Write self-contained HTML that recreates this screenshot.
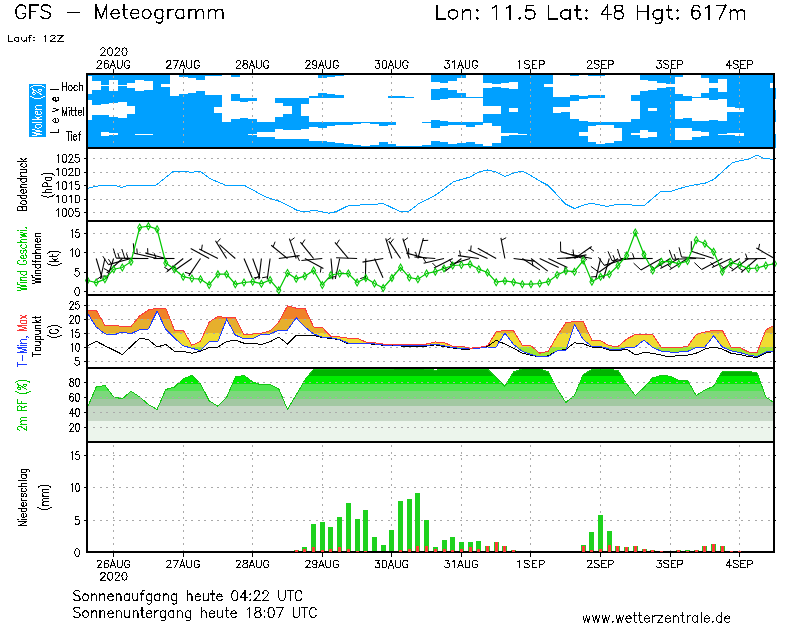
<!DOCTYPE html>
<html><head><meta charset="utf-8"><title>GFS Meteogramm</title>
<style>
html,body{margin:0;padding:0;background:#fff;}
body{width:800px;height:625px;position:relative;overflow:hidden;font-family:"Liberation Sans",sans-serif;color:#000;}
.t{position:absolute;white-space:nowrap;line-height:1;}
</style></head><body>
<svg width="800" height="625" viewBox="0 0 800 625" style="position:absolute;left:0;top:0" shape-rendering="crispEdges">
<rect width="800" height="625" fill="#fff"/>
<rect x="87" y="74" width="687" height="74" fill="#00a0ff"/>
<rect x="775" y="88" width="1" height="10.599999999999994" fill="#00a0ff"/>
<rect x="775" y="110.2" width="1" height="12.200000000000003" fill="#00a0ff"/>
<rect x="775" y="134" width="1" height="13.599999999999994" fill="#00a0ff"/>
<polygon fill="#fff" shape-rendering="crispEdges" points="87.0,76.4 91.8,76.4 91.8,81.1 100.5,81.1 100.5,84.9 109.2,84.9 109.2,80.2 117.9,80.2 117.9,84.9 126.6,84.9 126.6,83.2 135.3,83.2 135.3,80.2 144.0,80.2 144.0,81.3 152.7,81.3 152.7,85.4 161.4,85.4 161.4,84.2 170.1,84.2 170.1,75.0 178.8,75.0 178.8,76.7 187.5,76.7 187.5,78.3 196.2,78.3 196.2,80.2 204.9,80.2 204.9,76.1 213.6,76.1 213.6,76.1 222.3,76.1 222.3,73.2 231.0,73.2 231.0,76.7 239.7,76.7 239.7,73.2 248.4,73.2 248.4,73.2 257.1,73.2 257.1,73.2 265.8,73.2 265.8,73.2 274.5,73.2 274.5,73.2 283.2,73.2 283.2,73.2 291.9,73.2 291.9,73.2 300.6,73.2 300.6,73.2 309.2,73.2 309.2,75.0 317.9,75.0 317.9,77.7 326.6,77.7 326.6,77.3 335.3,77.3 335.3,75.7 344.0,75.7 344.0,73.2 352.7,73.2 352.7,73.2 361.4,73.2 361.4,73.2 370.1,73.2 370.1,73.2 378.8,73.2 378.8,73.2 387.5,73.2 387.5,74.6 396.2,74.6 396.2,74.6 404.9,74.6 404.9,73.9 413.6,73.9 413.6,73.2 422.3,73.2 422.3,73.2 431.0,73.2 431.0,81.7 439.7,81.7 439.7,82.7 448.4,82.7 448.4,81.1 457.1,81.1 457.1,78.2 465.8,78.2 465.8,74.1 474.5,74.1 474.5,74.1 483.2,74.1 483.2,82.7 491.9,82.7 491.9,83.7 500.6,83.7 500.6,82.9 509.3,82.9 509.3,82.2 518.0,82.2 518.0,85.4 526.6,85.4 526.6,85.4 535.3,85.4 535.3,85.4 544.0,85.4 544.0,83.6 552.7,83.6 552.7,73.4 561.4,73.4 561.4,74.1 570.1,74.1 570.1,75.7 578.8,75.7 578.8,74.9 587.5,74.9 587.5,75.7 596.2,75.7 596.2,75.7 604.9,75.7 604.9,73.2 613.6,73.2 613.6,73.2 622.3,73.2 622.3,73.2 631.0,73.2 631.0,75.4 639.7,75.4 639.7,79.8 648.4,79.8 648.4,80.6 657.1,80.6 657.1,83.2 665.8,83.2 665.8,83.9 674.5,83.9 674.5,76.8 683.2,76.8 683.2,74.6 691.9,74.6 691.9,73.9 700.6,73.9 700.6,78.1 709.3,78.1 709.3,82.8 718.0,82.8 718.0,79.1 726.7,79.1 726.7,85.4 735.4,85.4 735.4,85.4 744.0,85.4 744.0,85.4 752.7,85.4 752.7,85.4 761.4,85.4 761.4,85.4 770.1,85.4 770.1,82.8 774.0,82.8 774.0,88.0 770.1,88.0 770.1,85.4 761.4,85.4 761.4,85.4 752.7,85.4 752.7,85.4 744.0,85.4 744.0,85.4 735.4,85.4 735.4,85.4 726.7,85.4 726.7,91.8 718.0,91.8 718.0,88.0 709.3,88.0 709.3,92.8 700.6,92.8 700.6,96.9 691.9,96.9 691.9,96.2 683.2,96.2 683.2,94.0 674.5,94.0 674.5,86.9 665.8,86.9 665.8,87.7 657.1,87.7 657.1,90.2 648.4,90.2 648.4,91.0 639.7,91.0 639.7,95.4 631.0,95.4 631.0,97.6 622.3,97.6 622.3,97.6 613.6,97.6 613.6,97.6 604.9,97.6 604.9,95.2 596.2,95.2 596.2,95.2 587.5,95.2 587.5,95.9 578.8,95.9 578.8,95.2 570.1,95.2 570.1,96.7 561.4,96.7 561.4,97.4 552.7,97.4 552.7,87.2 544.0,87.2 544.0,85.4 535.3,85.4 535.3,85.4 526.6,85.4 526.6,85.4 518.0,85.4 518.0,88.6 509.3,88.6 509.3,87.9 500.6,87.9 500.6,87.2 491.9,87.2 491.9,88.1 483.2,88.1 483.2,96.7 474.5,96.7 474.5,96.7 465.8,96.7 465.8,92.6 457.1,92.6 457.1,89.8 448.4,89.8 448.4,88.2 439.7,88.2 439.7,89.2 431.0,89.2 431.0,97.6 422.3,97.6 422.3,97.6 413.6,97.6 413.6,96.9 404.9,96.9 404.9,96.2 396.2,96.2 396.2,96.2 387.5,96.2 387.5,97.6 378.8,97.6 378.8,97.6 370.1,97.6 370.1,97.6 361.4,97.6 361.4,97.6 352.7,97.6 352.7,97.6 344.0,97.6 344.0,95.2 335.3,95.2 335.3,93.5 326.6,93.5 326.6,93.2 317.9,93.2 317.9,95.8 309.2,95.8 309.2,97.6 300.6,97.6 300.6,97.6 291.9,97.6 291.9,97.6 283.2,97.6 283.2,97.6 274.5,97.6 274.5,97.6 265.8,97.6 265.8,97.6 257.1,97.6 257.1,97.6 248.4,97.6 248.4,97.6 239.7,97.6 239.7,94.2 231.0,94.2 231.0,97.6 222.3,97.6 222.3,94.7 213.6,94.7 213.6,94.7 204.9,94.7 204.9,90.7 196.2,90.7 196.2,92.5 187.5,92.5 187.5,94.1 178.8,94.1 178.8,95.8 170.1,95.8 170.1,86.7 161.4,86.7 161.4,85.4 152.7,85.4 152.7,89.5 144.0,89.5 144.0,90.7 135.3,90.7 135.3,87.7 126.6,87.7 126.6,85.9 117.9,85.9 117.9,90.7 109.2,90.7 109.2,85.9 100.5,85.9 100.5,89.8 91.8,89.8 91.8,94.4 87.0,94.4"/>
<polygon fill="#fff" shape-rendering="crispEdges" points="87.0,99.9 91.8,99.9 91.8,104.7 100.5,104.7 100.5,104.4 109.2,104.4 109.2,102.9 117.9,102.9 117.9,101.8 126.6,101.8 126.6,105.9 135.3,105.9 135.3,109.8 144.0,109.8 144.0,109.8 152.7,109.8 152.7,109.8 161.4,109.8 161.4,109.8 170.1,109.8 170.1,109.8 178.8,109.8 178.8,109.8 187.5,109.8 187.5,109.8 196.2,109.8 196.2,109.8 204.9,109.8 204.9,109.8 213.6,109.8 213.6,106.5 222.3,106.5 222.3,97.6 231.0,97.6 231.0,100.5 239.7,100.5 239.7,101.6 248.4,101.6 248.4,100.5 257.1,100.5 257.1,97.6 265.8,97.6 265.8,97.6 274.5,97.6 274.5,103.0 283.2,103.0 283.2,106.0 291.9,106.0 291.9,109.8 300.6,109.8 300.6,103.5 309.2,103.5 309.2,97.6 317.9,97.6 317.9,97.6 326.6,97.6 326.6,97.6 335.3,97.6 335.3,97.6 344.0,97.6 344.0,97.6 352.7,97.6 352.7,97.6 361.4,97.6 361.4,97.6 370.1,97.6 370.1,97.6 378.8,97.6 378.8,97.6 387.5,97.6 387.5,97.6 396.2,97.6 396.2,97.6 404.9,97.6 404.9,97.6 413.6,97.6 413.6,97.6 422.3,97.6 422.3,97.6 431.0,97.6 431.0,99.5 439.7,99.5 439.7,98.5 448.4,98.5 448.4,97.8 457.1,97.8 457.1,97.6 465.8,97.6 465.8,97.6 474.5,97.6 474.5,97.6 483.2,97.6 483.2,105.8 491.9,105.8 491.9,106.0 500.6,106.0 500.6,109.8 509.3,109.8 509.3,108.0 518.0,108.0 518.0,109.8 526.6,109.8 526.6,109.8 535.3,109.8 535.3,109.8 544.0,109.8 544.0,109.8 552.7,109.8 552.7,106.5 561.4,106.5 561.4,107.2 570.1,107.2 570.1,100.5 578.8,100.5 578.8,98.8 587.5,98.8 587.5,97.8 596.2,97.8 596.2,98.0 604.9,98.0 604.9,97.6 613.6,97.6 613.6,97.6 622.3,97.6 622.3,97.8 631.0,97.8 631.0,100.5 639.7,100.5 639.7,109.8 648.4,109.8 648.4,108.3 657.1,108.3 657.1,109.8 665.8,109.8 665.8,109.8 674.5,109.8 674.5,100.8 683.2,100.8 683.2,101.2 691.9,101.2 691.9,98.4 700.6,98.4 700.6,98.4 709.3,98.4 709.3,100.0 718.0,100.0 718.0,98.8 726.7,98.8 726.7,107.3 735.4,107.3 735.4,108.0 744.0,108.0 744.0,109.8 752.7,109.8 752.7,109.8 761.4,109.8 761.4,109.8 770.1,109.8 770.1,109.8 774.0,109.8 774.0,109.8 770.1,109.8 770.1,109.8 761.4,109.8 761.4,109.8 752.7,109.8 752.7,109.8 744.0,109.8 744.0,111.5 735.4,111.5 735.4,112.3 726.7,112.3 726.7,120.8 718.0,120.8 718.0,119.5 709.3,119.5 709.3,121.2 700.6,121.2 700.6,121.2 691.9,121.2 691.9,118.4 683.2,118.4 683.2,118.8 674.5,118.8 674.5,109.8 665.8,109.8 665.8,109.8 657.1,109.8 657.1,111.2 648.4,111.2 648.4,109.8 639.7,109.8 639.7,119.1 631.0,119.1 631.0,121.8 622.3,121.8 622.3,122.0 613.6,122.0 613.6,122.0 604.9,122.0 604.9,121.5 596.2,121.5 596.2,121.8 587.5,121.8 587.5,120.8 578.8,120.8 578.8,119.1 570.1,119.1 570.1,112.4 561.4,112.4 561.4,113.1 552.7,113.1 552.7,109.8 544.0,109.8 544.0,109.8 535.3,109.8 535.3,109.8 526.6,109.8 526.6,109.8 518.0,109.8 518.0,111.5 509.3,111.5 509.3,109.8 500.6,109.8 500.6,113.5 491.9,113.5 491.9,113.8 483.2,113.8 483.2,122.0 474.5,122.0 474.5,122.0 465.8,122.0 465.8,122.0 457.1,122.0 457.1,121.8 448.4,121.8 448.4,121.0 439.7,121.0 439.7,120.0 431.0,120.0 431.0,122.0 422.3,122.0 422.3,122.0 413.6,122.0 413.6,122.0 404.9,122.0 404.9,122.0 396.2,122.0 396.2,122.0 387.5,122.0 387.5,122.0 378.8,122.0 378.8,122.0 370.1,122.0 370.1,122.0 361.4,122.0 361.4,122.0 352.7,122.0 352.7,122.0 344.0,122.0 344.0,122.0 335.3,122.0 335.3,122.0 326.6,122.0 326.6,122.0 317.9,122.0 317.9,122.0 309.2,122.0 309.2,116.1 300.6,116.1 300.6,109.8 291.9,109.8 291.9,113.5 283.2,113.5 283.2,116.6 274.5,116.6 274.5,122.0 265.8,122.0 265.8,122.0 257.1,122.0 257.1,119.0 248.4,119.0 248.4,118.0 239.7,118.0 239.7,119.1 231.0,119.1 231.0,122.0 222.3,122.0 222.3,113.1 213.6,113.1 213.6,109.8 204.9,109.8 204.9,109.8 196.2,109.8 196.2,109.8 187.5,109.8 187.5,109.8 178.8,109.8 178.8,109.8 170.1,109.8 170.1,109.8 161.4,109.8 161.4,109.8 152.7,109.8 152.7,109.8 144.0,109.8 144.0,109.8 135.3,109.8 135.3,113.7 126.6,113.7 126.6,117.8 117.9,117.8 117.9,116.7 109.2,116.7 109.2,115.2 100.5,115.2 100.5,114.9 91.8,114.9 91.8,119.7 87.0,119.7"/>
<polygon fill="#fff" shape-rendering="crispEdges" points="87.0,134.2 91.8,134.2 91.8,134.2 100.5,134.2 100.5,132.3 109.2,132.3 109.2,133.4 117.9,133.4 117.9,134.2 126.6,134.2 126.6,134.2 135.3,134.2 135.3,133.6 144.0,133.6 144.0,133.6 152.7,133.6 152.7,134.2 161.4,134.2 161.4,134.2 170.1,134.2 170.1,134.2 178.8,134.2 178.8,134.2 187.5,134.2 187.5,134.2 196.2,134.2 196.2,134.2 204.9,134.2 204.9,134.2 213.6,134.2 213.6,134.2 222.3,134.2 222.3,134.2 231.0,134.2 231.0,134.2 239.7,134.2 239.7,134.2 248.4,134.2 248.4,133.7 257.1,133.7 257.1,131.6 265.8,131.6 265.8,131.6 274.5,131.6 274.5,129.3 283.2,129.3 283.2,129.9 291.9,129.9 291.9,129.5 300.6,129.5 300.6,129.2 309.2,129.2 309.2,127.2 317.9,127.2 317.9,127.7 326.6,127.7 326.6,125.9 335.3,125.9 335.3,125.2 344.0,125.2 344.0,124.7 352.7,124.7 352.7,123.7 361.4,123.7 361.4,122.9 370.1,122.9 370.1,123.8 378.8,123.8 378.8,125.9 387.5,125.9 387.5,124.7 396.2,124.7 396.2,122.4 404.9,122.4 404.9,122.0 413.6,122.0 413.6,122.4 422.3,122.4 422.3,123.4 431.0,123.4 431.0,127.7 439.7,127.7 439.7,126.4 448.4,126.4 448.4,124.9 457.1,124.9 457.1,124.9 465.8,124.9 465.8,126.7 474.5,126.7 474.5,124.7 483.2,124.7 483.2,122.7 491.9,122.7 491.9,125.5 500.6,125.5 500.6,132.8 509.3,132.8 509.3,133.2 518.0,133.2 518.0,133.6 526.6,133.6 526.6,134.2 535.3,134.2 535.3,134.2 544.0,134.2 544.0,134.2 552.7,134.2 552.7,134.2 561.4,134.2 561.4,134.2 570.1,134.2 570.1,134.2 578.8,134.2 578.8,131.9 587.5,131.9 587.5,126.4 596.2,126.4 596.2,124.7 604.9,124.7 604.9,125.4 613.6,125.4 613.6,127.8 622.3,127.8 622.3,134.2 631.0,134.2 631.0,133.3 639.7,133.3 639.7,130.3 648.4,130.3 648.4,131.6 657.1,131.6 657.1,134.2 665.8,134.2 665.8,134.2 674.5,134.2 674.5,128.4 683.2,128.4 683.2,128.4 691.9,128.4 691.9,131.2 700.6,131.2 700.6,132.1 709.3,132.1 709.3,134.2 718.0,134.2 718.0,133.6 726.7,133.6 726.7,133.2 735.4,133.2 735.4,132.7 744.0,132.7 744.0,134.2 752.7,134.2 752.7,134.2 761.4,134.2 761.4,134.2 770.1,134.2 770.1,134.2 774.0,134.2 774.0,134.2 770.1,134.2 770.1,134.2 761.4,134.2 761.4,134.2 752.7,134.2 752.7,134.2 744.0,134.2 744.0,135.7 735.4,135.7 735.4,135.2 726.7,135.2 726.7,134.8 718.0,134.8 718.0,134.2 709.3,134.2 709.3,136.3 700.6,136.3 700.6,137.2 691.9,137.2 691.9,139.9 683.2,139.9 683.2,139.9 674.5,139.9 674.5,134.2 665.8,134.2 665.8,134.2 657.1,134.2 657.1,136.8 648.4,136.8 648.4,138.1 639.7,138.1 639.7,135.1 631.0,135.1 631.0,134.2 622.3,134.2 622.3,140.5 613.6,140.5 613.6,142.9 604.9,142.9 604.9,143.7 596.2,143.7 596.2,141.9 587.5,141.9 587.5,136.4 578.8,136.4 578.8,134.2 570.1,134.2 570.1,134.2 561.4,134.2 561.4,134.2 552.7,134.2 552.7,134.2 544.0,134.2 544.0,134.2 535.3,134.2 535.3,134.2 526.6,134.2 526.6,134.8 518.0,134.8 518.0,135.2 509.3,135.2 509.3,135.5 500.6,135.5 500.6,142.9 491.9,142.9 491.9,145.7 483.2,145.7 483.2,143.7 474.5,143.7 474.5,141.7 465.8,141.7 465.8,143.4 457.1,143.4 457.1,143.5 448.4,143.5 448.4,141.9 439.7,141.9 439.7,140.7 431.0,140.7 431.0,144.9 422.3,144.9 422.3,145.9 413.6,145.9 413.6,146.4 404.9,146.4 404.9,145.9 396.2,145.9 396.2,143.7 387.5,143.7 387.5,142.4 378.8,142.4 378.8,144.5 370.1,144.5 370.1,145.5 361.4,145.5 361.4,144.7 352.7,144.7 352.7,143.7 344.0,143.7 344.0,143.2 335.3,143.2 335.3,142.4 326.6,142.4 326.6,140.7 317.9,140.7 317.9,141.2 309.2,141.2 309.2,139.2 300.6,139.2 300.6,138.8 291.9,138.8 291.9,138.5 283.2,138.5 283.2,139.1 274.5,139.1 274.5,136.8 265.8,136.8 265.8,136.8 257.1,136.8 257.1,134.7 248.4,134.7 248.4,134.2 239.7,134.2 239.7,134.2 231.0,134.2 231.0,134.2 222.3,134.2 222.3,134.2 213.6,134.2 213.6,134.2 204.9,134.2 204.9,134.2 196.2,134.2 196.2,134.2 187.5,134.2 187.5,134.2 178.8,134.2 178.8,134.2 170.1,134.2 170.1,134.2 161.4,134.2 161.4,134.2 152.7,134.2 152.7,134.8 144.0,134.8 144.0,134.8 135.3,134.8 135.3,134.2 126.6,134.2 126.6,134.2 117.9,134.2 117.9,134.9 109.2,134.9 109.2,136.0 100.5,136.0 100.5,134.2 91.8,134.2 91.8,134.2 87.0,134.2"/>
<line x1="113.5" y1="75.5" x2="113.5" y2="147" stroke="#aaaaaa" stroke-width="1" stroke-dasharray="2 4.55"/>
<line x1="113.5" y1="445" x2="113.5" y2="551" stroke="#aaaaaa" stroke-width="1" stroke-dasharray="2 4.55"/>
<line x1="113.5" y1="69" x2="113.5" y2="74" stroke="#000" stroke-width="1"/>
<line x1="113.5" y1="552" x2="113.5" y2="556.5" stroke="#000" stroke-width="1"/>
<line x1="183.5" y1="75.5" x2="183.5" y2="147" stroke="#aaaaaa" stroke-width="1" stroke-dasharray="2 4.55"/>
<line x1="183.5" y1="445" x2="183.5" y2="551" stroke="#aaaaaa" stroke-width="1" stroke-dasharray="2 4.55"/>
<line x1="183.5" y1="69" x2="183.5" y2="74" stroke="#000" stroke-width="1"/>
<line x1="183.5" y1="552" x2="183.5" y2="556.5" stroke="#000" stroke-width="1"/>
<line x1="252.5" y1="75.5" x2="252.5" y2="147" stroke="#aaaaaa" stroke-width="1" stroke-dasharray="2 4.55"/>
<line x1="252.5" y1="445" x2="252.5" y2="551" stroke="#aaaaaa" stroke-width="1" stroke-dasharray="2 4.55"/>
<line x1="252.5" y1="69" x2="252.5" y2="74" stroke="#000" stroke-width="1"/>
<line x1="252.5" y1="552" x2="252.5" y2="556.5" stroke="#000" stroke-width="1"/>
<line x1="322.5" y1="75.5" x2="322.5" y2="147" stroke="#aaaaaa" stroke-width="1" stroke-dasharray="2 4.55"/>
<line x1="322.5" y1="445" x2="322.5" y2="551" stroke="#aaaaaa" stroke-width="1" stroke-dasharray="2 4.55"/>
<line x1="322.5" y1="69" x2="322.5" y2="74" stroke="#000" stroke-width="1"/>
<line x1="322.5" y1="552" x2="322.5" y2="556.5" stroke="#000" stroke-width="1"/>
<line x1="391.5" y1="75.5" x2="391.5" y2="147" stroke="#aaaaaa" stroke-width="1" stroke-dasharray="2 4.55"/>
<line x1="391.5" y1="445" x2="391.5" y2="551" stroke="#aaaaaa" stroke-width="1" stroke-dasharray="2 4.55"/>
<line x1="391.5" y1="69" x2="391.5" y2="74" stroke="#000" stroke-width="1"/>
<line x1="391.5" y1="552" x2="391.5" y2="556.5" stroke="#000" stroke-width="1"/>
<line x1="461.5" y1="75.5" x2="461.5" y2="147" stroke="#aaaaaa" stroke-width="1" stroke-dasharray="2 4.55"/>
<line x1="461.5" y1="445" x2="461.5" y2="551" stroke="#aaaaaa" stroke-width="1" stroke-dasharray="2 4.55"/>
<line x1="461.5" y1="69" x2="461.5" y2="74" stroke="#000" stroke-width="1"/>
<line x1="461.5" y1="552" x2="461.5" y2="556.5" stroke="#000" stroke-width="1"/>
<line x1="530.5" y1="75.5" x2="530.5" y2="147" stroke="#aaaaaa" stroke-width="1" stroke-dasharray="2 4.55"/>
<line x1="530.5" y1="445" x2="530.5" y2="551" stroke="#aaaaaa" stroke-width="1" stroke-dasharray="2 4.55"/>
<line x1="530.5" y1="69" x2="530.5" y2="74" stroke="#000" stroke-width="1"/>
<line x1="530.5" y1="552" x2="530.5" y2="556.5" stroke="#000" stroke-width="1"/>
<line x1="600.5" y1="75.5" x2="600.5" y2="147" stroke="#aaaaaa" stroke-width="1" stroke-dasharray="2 4.55"/>
<line x1="600.5" y1="445" x2="600.5" y2="551" stroke="#aaaaaa" stroke-width="1" stroke-dasharray="2 4.55"/>
<line x1="600.5" y1="69" x2="600.5" y2="74" stroke="#000" stroke-width="1"/>
<line x1="600.5" y1="552" x2="600.5" y2="556.5" stroke="#000" stroke-width="1"/>
<line x1="670.5" y1="75.5" x2="670.5" y2="147" stroke="#aaaaaa" stroke-width="1" stroke-dasharray="2 4.55"/>
<line x1="670.5" y1="445" x2="670.5" y2="551" stroke="#aaaaaa" stroke-width="1" stroke-dasharray="2 4.55"/>
<line x1="670.5" y1="69" x2="670.5" y2="74" stroke="#000" stroke-width="1"/>
<line x1="670.5" y1="552" x2="670.5" y2="556.5" stroke="#000" stroke-width="1"/>
<line x1="739.5" y1="75.5" x2="739.5" y2="147" stroke="#aaaaaa" stroke-width="1" stroke-dasharray="2 4.55"/>
<line x1="739.5" y1="445" x2="739.5" y2="551" stroke="#aaaaaa" stroke-width="1" stroke-dasharray="2 4.55"/>
<line x1="739.5" y1="69" x2="739.5" y2="74" stroke="#000" stroke-width="1"/>
<line x1="739.5" y1="552" x2="739.5" y2="556.5" stroke="#000" stroke-width="1"/>
<line x1="93" y1="158.4" x2="772" y2="158.4" stroke="#aaaaaa" stroke-width="1" stroke-dasharray="2 4.55"/>
<line x1="93" y1="172" x2="772" y2="172" stroke="#aaaaaa" stroke-width="1" stroke-dasharray="2 4.55"/>
<line x1="93" y1="185.5" x2="772" y2="185.5" stroke="#aaaaaa" stroke-width="1" stroke-dasharray="2 4.55"/>
<line x1="93" y1="199" x2="772" y2="199" stroke="#aaaaaa" stroke-width="1" stroke-dasharray="2 4.55"/>
<line x1="93" y1="212.5" x2="772" y2="212.5" stroke="#aaaaaa" stroke-width="1" stroke-dasharray="2 4.55"/>
<polyline fill="none" stroke="#00a0ff" stroke-width="1" points="88.0,188.2 100.0,185.5 115.0,185.2 121.0,187.5 128.7,185.2 156.0,185.2 173.7,171.0 185.0,171.0 191.0,172.5 200.0,171.0 210.0,178.7 225.0,185.0 243.7,185.0 265.0,196.7 280.0,201.5 297.5,210.5 303.7,211.7 315.0,210.5 328.7,213.2 336.0,211.7 348.7,205.5 360.0,205.0 363.7,204.2 377.5,204.2 382.5,203.2 400.0,211.5 408.7,211.5 418.7,203.7 435.0,195.5 453.7,181.7 470.0,177.0 478.7,172.0 487.5,170.0 496.0,172.0 505.0,176.5 513.7,173.0 522.0,171.0 531.0,175.7 540.0,181.2 547.5,185.0 556.0,193.7 565.0,203.7 574.5,208.5 582.5,205.5 591.0,203.2 600.0,205.0 607.5,206.4 616.0,204.5 630.0,204.5 633.7,205.4 644.5,205.4 661.0,191.2 671.0,191.2 687.5,186.2 705.0,183.2 713.7,179.5 732.5,162.5 750.0,158.7 757.0,155.0 762.5,158.0 773.7,159.5"/>
<line x1="93" y1="233.4" x2="772" y2="233.4" stroke="#aaaaaa" stroke-width="1" stroke-dasharray="2 4.55"/>
<line x1="93" y1="252.7" x2="772" y2="252.7" stroke="#aaaaaa" stroke-width="1" stroke-dasharray="2 4.55"/>
<line x1="93" y1="272.2" x2="772" y2="272.2" stroke="#aaaaaa" stroke-width="1" stroke-dasharray="2 4.55"/>
<line x1="93" y1="291.5" x2="772" y2="291.5" stroke="#aaaaaa" stroke-width="1" stroke-dasharray="2 4.55"/>
<line x1="96.2" y1="258.5" x2="102.2" y2="278.6" stroke="#000" stroke-width="1.1" shape-rendering="geometricPrecision"/>
<line x1="101.5" y1="276.2" x2="96.9" y2="279.4" stroke="#000" stroke-width="1" shape-rendering="geometricPrecision"/>
<line x1="104.9" y1="258.5" x2="100.5" y2="279.0" stroke="#000" stroke-width="1.1" shape-rendering="geometricPrecision"/>
<line x1="113.6" y1="258.5" x2="107.1" y2="278.5" stroke="#000" stroke-width="1.1" shape-rendering="geometricPrecision"/>
<line x1="107.9" y1="276.1" x2="102.4" y2="276.1" stroke="#000" stroke-width="1" shape-rendering="geometricPrecision"/>
<line x1="122.3" y1="258.5" x2="106.9" y2="272.8" stroke="#000" stroke-width="1.1" shape-rendering="geometricPrecision"/>
<line x1="108.8" y1="271.1" x2="103.9" y2="268.5" stroke="#000" stroke-width="1" shape-rendering="geometricPrecision"/>
<line x1="131.0" y1="258.5" x2="108.3" y2="264.6" stroke="#000" stroke-width="1.1" shape-rendering="geometricPrecision"/>
<line x1="108.3" y1="264.6" x2="102.8" y2="256.2" stroke="#000" stroke-width="1" shape-rendering="geometricPrecision"/>
<line x1="111.4" y1="263.8" x2="108.4" y2="259.1" stroke="#000" stroke-width="1" shape-rendering="geometricPrecision"/>
<line x1="139.7" y1="258.5" x2="116.2" y2="258.1" stroke="#000" stroke-width="1.1" shape-rendering="geometricPrecision"/>
<line x1="116.2" y1="258.1" x2="113.3" y2="248.5" stroke="#000" stroke-width="1" shape-rendering="geometricPrecision"/>
<line x1="119.4" y1="258.1" x2="117.8" y2="252.9" stroke="#000" stroke-width="1" shape-rendering="geometricPrecision"/>
<line x1="148.4" y1="258.5" x2="124.9" y2="258.5" stroke="#000" stroke-width="1.1" shape-rendering="geometricPrecision"/>
<line x1="124.9" y1="258.5" x2="121.8" y2="249.0" stroke="#000" stroke-width="1" shape-rendering="geometricPrecision"/>
<line x1="128.1" y1="258.5" x2="126.4" y2="253.3" stroke="#000" stroke-width="1" shape-rendering="geometricPrecision"/>
<line x1="157.1" y1="258.5" x2="134.2" y2="253.2" stroke="#000" stroke-width="1.1" shape-rendering="geometricPrecision"/>
<line x1="134.2" y1="253.2" x2="133.3" y2="243.3" stroke="#000" stroke-width="1" shape-rendering="geometricPrecision"/>
<line x1="137.3" y1="253.9" x2="136.8" y2="248.5" stroke="#000" stroke-width="1" shape-rendering="geometricPrecision"/>
<line x1="165.8" y1="258.5" x2="145.5" y2="253.1" stroke="#000" stroke-width="1.1" shape-rendering="geometricPrecision"/>
<line x1="147.9" y1="253.7" x2="147.6" y2="248.2" stroke="#000" stroke-width="1" shape-rendering="geometricPrecision"/>
<line x1="174.5" y1="258.5" x2="153.5" y2="258.5" stroke="#000" stroke-width="1.1" shape-rendering="geometricPrecision"/>
<line x1="156.0" y1="258.5" x2="154.3" y2="253.3" stroke="#000" stroke-width="1" shape-rendering="geometricPrecision"/>
<line x1="183.2" y1="258.5" x2="166.8" y2="271.7" stroke="#000" stroke-width="1.1" shape-rendering="geometricPrecision"/>
<line x1="168.8" y1="270.1" x2="164.2" y2="267.1" stroke="#000" stroke-width="1" shape-rendering="geometricPrecision"/>
<line x1="191.9" y1="258.5" x2="174.6" y2="270.5" stroke="#000" stroke-width="1.1" shape-rendering="geometricPrecision"/>
<line x1="176.7" y1="269.1" x2="172.3" y2="265.8" stroke="#000" stroke-width="1" shape-rendering="geometricPrecision"/>
<line x1="200.5" y1="258.5" x2="188.8" y2="275.9" stroke="#000" stroke-width="1.1" shape-rendering="geometricPrecision"/>
<line x1="190.2" y1="273.8" x2="184.9" y2="272.3" stroke="#000" stroke-width="1" shape-rendering="geometricPrecision"/>
<line x1="209.2" y1="258.5" x2="190.7" y2="248.6" stroke="#000" stroke-width="1.1" shape-rendering="geometricPrecision"/>
<line x1="217.9" y1="258.5" x2="199.2" y2="249.0" stroke="#000" stroke-width="1.1" shape-rendering="geometricPrecision"/>
<line x1="201.5" y1="250.1" x2="202.3" y2="244.7" stroke="#000" stroke-width="1" shape-rendering="geometricPrecision"/>
<line x1="226.6" y1="258.5" x2="215.5" y2="240.7" stroke="#000" stroke-width="1.1" shape-rendering="geometricPrecision"/>
<line x1="216.8" y1="242.8" x2="220.4" y2="238.6" stroke="#000" stroke-width="1" shape-rendering="geometricPrecision"/>
<line x1="235.3" y1="258.5" x2="219.5" y2="244.7" stroke="#000" stroke-width="1.1" shape-rendering="geometricPrecision"/>
<line x1="244.0" y1="258.5" x2="252.2" y2="277.8" stroke="#000" stroke-width="1.1" shape-rendering="geometricPrecision"/>
<line x1="252.7" y1="258.5" x2="259.9" y2="278.2" stroke="#000" stroke-width="1.1" shape-rendering="geometricPrecision"/>
<line x1="259.1" y1="275.9" x2="254.7" y2="279.3" stroke="#000" stroke-width="1" shape-rendering="geometricPrecision"/>
<line x1="261.4" y1="258.5" x2="258.9" y2="279.3" stroke="#000" stroke-width="1.1" shape-rendering="geometricPrecision"/>
<line x1="259.2" y1="276.9" x2="253.8" y2="277.9" stroke="#000" stroke-width="1" shape-rendering="geometricPrecision"/>
<line x1="270.1" y1="258.5" x2="267.2" y2="279.3" stroke="#000" stroke-width="1.1" shape-rendering="geometricPrecision"/>
<line x1="267.5" y1="276.8" x2="262.1" y2="277.8" stroke="#000" stroke-width="1" shape-rendering="geometricPrecision"/>
<line x1="278.8" y1="258.5" x2="299.6" y2="255.6" stroke="#000" stroke-width="1.1" shape-rendering="geometricPrecision"/>
<line x1="297.1" y1="255.9" x2="299.5" y2="260.9" stroke="#000" stroke-width="1" shape-rendering="geometricPrecision"/>
<line x1="287.5" y1="258.5" x2="271.2" y2="245.3" stroke="#000" stroke-width="1.1" shape-rendering="geometricPrecision"/>
<line x1="273.1" y1="246.9" x2="275.1" y2="241.7" stroke="#000" stroke-width="1" shape-rendering="geometricPrecision"/>
<line x1="296.2" y1="258.5" x2="289.4" y2="238.6" stroke="#000" stroke-width="1.1" shape-rendering="geometricPrecision"/>
<line x1="290.2" y1="241.0" x2="294.6" y2="237.7" stroke="#000" stroke-width="1" shape-rendering="geometricPrecision"/>
<line x1="304.9" y1="258.5" x2="323.4" y2="268.4" stroke="#000" stroke-width="1.1" shape-rendering="geometricPrecision"/>
<line x1="321.2" y1="267.2" x2="320.3" y2="272.6" stroke="#000" stroke-width="1" shape-rendering="geometricPrecision"/>
<line x1="313.6" y1="258.5" x2="300.4" y2="242.2" stroke="#000" stroke-width="1.1" shape-rendering="geometricPrecision"/>
<line x1="302.0" y1="244.1" x2="304.9" y2="239.5" stroke="#000" stroke-width="1" shape-rendering="geometricPrecision"/>
<line x1="322.3" y1="258.5" x2="301.4" y2="260.5" stroke="#000" stroke-width="1.1" shape-rendering="geometricPrecision"/>
<line x1="331.0" y1="258.5" x2="332.8" y2="279.4" stroke="#000" stroke-width="1.1" shape-rendering="geometricPrecision"/>
<line x1="332.6" y1="276.9" x2="327.5" y2="279.1" stroke="#000" stroke-width="1" shape-rendering="geometricPrecision"/>
<line x1="339.7" y1="258.5" x2="335.3" y2="279.0" stroke="#000" stroke-width="1.1" shape-rendering="geometricPrecision"/>
<line x1="335.8" y1="276.6" x2="330.4" y2="277.2" stroke="#000" stroke-width="1" shape-rendering="geometricPrecision"/>
<line x1="348.4" y1="258.5" x2="334.9" y2="242.4" stroke="#000" stroke-width="1.1" shape-rendering="geometricPrecision"/>
<line x1="336.5" y1="244.3" x2="339.4" y2="239.7" stroke="#000" stroke-width="1" shape-rendering="geometricPrecision"/>
<line x1="357.1" y1="258.5" x2="336.1" y2="257.8" stroke="#000" stroke-width="1.1" shape-rendering="geometricPrecision"/>
<line x1="365.8" y1="258.5" x2="365.4" y2="279.5" stroke="#000" stroke-width="1.1" shape-rendering="geometricPrecision"/>
<line x1="365.4" y1="277.0" x2="360.2" y2="278.6" stroke="#000" stroke-width="1" shape-rendering="geometricPrecision"/>
<line x1="374.5" y1="258.5" x2="383.0" y2="277.7" stroke="#000" stroke-width="1.1" shape-rendering="geometricPrecision"/>
<line x1="383.2" y1="258.5" x2="362.5" y2="262.1" stroke="#000" stroke-width="1.1" shape-rendering="geometricPrecision"/>
<line x1="391.9" y1="258.5" x2="385.7" y2="238.4" stroke="#000" stroke-width="1.1" shape-rendering="geometricPrecision"/>
<line x1="386.5" y1="240.8" x2="391.0" y2="237.7" stroke="#000" stroke-width="1" shape-rendering="geometricPrecision"/>
<line x1="400.6" y1="258.5" x2="388.8" y2="241.1" stroke="#000" stroke-width="1.1" shape-rendering="geometricPrecision"/>
<line x1="390.2" y1="243.2" x2="393.6" y2="238.8" stroke="#000" stroke-width="1" shape-rendering="geometricPrecision"/>
<line x1="409.3" y1="258.5" x2="402.8" y2="238.5" stroke="#000" stroke-width="1.1" shape-rendering="geometricPrecision"/>
<line x1="403.5" y1="240.9" x2="408.0" y2="237.7" stroke="#000" stroke-width="1" shape-rendering="geometricPrecision"/>
<line x1="417.9" y1="258.5" x2="423.4" y2="238.2" stroke="#000" stroke-width="1.1" shape-rendering="geometricPrecision"/>
<line x1="422.7" y1="240.6" x2="428.2" y2="240.3" stroke="#000" stroke-width="1" shape-rendering="geometricPrecision"/>
<line x1="426.6" y1="258.5" x2="406.4" y2="253.1" stroke="#000" stroke-width="1.1" shape-rendering="geometricPrecision"/>
<line x1="408.8" y1="253.7" x2="408.5" y2="248.2" stroke="#000" stroke-width="1" shape-rendering="geometricPrecision"/>
<line x1="435.3" y1="258.5" x2="414.4" y2="257.0" stroke="#000" stroke-width="1.1" shape-rendering="geometricPrecision"/>
<line x1="416.9" y1="257.2" x2="415.6" y2="251.9" stroke="#000" stroke-width="1" shape-rendering="geometricPrecision"/>
<line x1="444.0" y1="258.5" x2="423.6" y2="263.2" stroke="#000" stroke-width="1.1" shape-rendering="geometricPrecision"/>
<line x1="426.0" y1="262.7" x2="423.2" y2="257.9" stroke="#000" stroke-width="1" shape-rendering="geometricPrecision"/>
<line x1="452.7" y1="258.5" x2="434.0" y2="268.0" stroke="#000" stroke-width="1.1" shape-rendering="geometricPrecision"/>
<line x1="436.2" y1="266.9" x2="432.4" y2="263.0" stroke="#000" stroke-width="1" shape-rendering="geometricPrecision"/>
<line x1="461.4" y1="258.5" x2="444.9" y2="271.4" stroke="#000" stroke-width="1.1" shape-rendering="geometricPrecision"/>
<line x1="446.8" y1="269.9" x2="442.3" y2="266.8" stroke="#000" stroke-width="1" shape-rendering="geometricPrecision"/>
<line x1="470.1" y1="258.5" x2="450.0" y2="264.6" stroke="#000" stroke-width="1.1" shape-rendering="geometricPrecision"/>
<line x1="452.4" y1="263.9" x2="449.3" y2="259.4" stroke="#000" stroke-width="1" shape-rendering="geometricPrecision"/>
<line x1="478.8" y1="258.5" x2="458.0" y2="255.6" stroke="#000" stroke-width="1.1" shape-rendering="geometricPrecision"/>
<line x1="460.5" y1="255.9" x2="459.5" y2="250.5" stroke="#000" stroke-width="1" shape-rendering="geometricPrecision"/>
<line x1="487.5" y1="258.5" x2="468.3" y2="250.0" stroke="#000" stroke-width="1.1" shape-rendering="geometricPrecision"/>
<line x1="470.6" y1="251.0" x2="471.2" y2="245.5" stroke="#000" stroke-width="1" shape-rendering="geometricPrecision"/>
<line x1="496.2" y1="258.5" x2="477.8" y2="248.3" stroke="#000" stroke-width="1.1" shape-rendering="geometricPrecision"/>
<line x1="504.9" y1="258.5" x2="500.9" y2="237.9" stroke="#000" stroke-width="1.1" shape-rendering="geometricPrecision"/>
<line x1="501.4" y1="240.3" x2="506.2" y2="237.7" stroke="#000" stroke-width="1" shape-rendering="geometricPrecision"/>
<line x1="513.6" y1="258.5" x2="534.4" y2="261.1" stroke="#000" stroke-width="1.1" shape-rendering="geometricPrecision"/>
<line x1="532.0" y1="260.8" x2="533.0" y2="266.2" stroke="#000" stroke-width="1" shape-rendering="geometricPrecision"/>
<line x1="522.3" y1="258.5" x2="539.9" y2="269.9" stroke="#000" stroke-width="1.1" shape-rendering="geometricPrecision"/>
<line x1="531.0" y1="258.5" x2="547.8" y2="271.1" stroke="#000" stroke-width="1.1" shape-rendering="geometricPrecision"/>
<line x1="539.7" y1="258.5" x2="558.7" y2="267.4" stroke="#000" stroke-width="1.1" shape-rendering="geometricPrecision"/>
<line x1="548.4" y1="258.5" x2="567.4" y2="267.4" stroke="#000" stroke-width="1.1" shape-rendering="geometricPrecision"/>
<line x1="565.2" y1="266.3" x2="564.5" y2="271.8" stroke="#000" stroke-width="1" shape-rendering="geometricPrecision"/>
<line x1="557.1" y1="258.5" x2="578.1" y2="257.4" stroke="#000" stroke-width="1.1" shape-rendering="geometricPrecision"/>
<line x1="565.8" y1="258.5" x2="586.5" y2="254.9" stroke="#000" stroke-width="1.1" shape-rendering="geometricPrecision"/>
<line x1="584.0" y1="255.3" x2="586.6" y2="260.1" stroke="#000" stroke-width="1" shape-rendering="geometricPrecision"/>
<line x1="574.5" y1="258.5" x2="591.7" y2="246.5" stroke="#000" stroke-width="1.1" shape-rendering="geometricPrecision"/>
<line x1="589.6" y1="247.9" x2="594.0" y2="251.2" stroke="#000" stroke-width="1" shape-rendering="geometricPrecision"/>
<line x1="583.2" y1="258.5" x2="560.7" y2="251.6" stroke="#000" stroke-width="1.1" shape-rendering="geometricPrecision"/>
<line x1="560.7" y1="251.6" x2="560.5" y2="241.6" stroke="#000" stroke-width="1" shape-rendering="geometricPrecision"/>
<line x1="591.9" y1="258.5" x2="571.3" y2="254.5" stroke="#000" stroke-width="1.1" shape-rendering="geometricPrecision"/>
<line x1="573.7" y1="255.0" x2="573.0" y2="249.5" stroke="#000" stroke-width="1" shape-rendering="geometricPrecision"/>
<line x1="600.6" y1="258.5" x2="595.8" y2="279.0" stroke="#000" stroke-width="1.1" shape-rendering="geometricPrecision"/>
<line x1="596.4" y1="276.5" x2="590.9" y2="277.0" stroke="#000" stroke-width="1" shape-rendering="geometricPrecision"/>
<line x1="609.3" y1="258.5" x2="603.5" y2="278.7" stroke="#000" stroke-width="1.1" shape-rendering="geometricPrecision"/>
<line x1="604.2" y1="276.3" x2="598.7" y2="276.5" stroke="#000" stroke-width="1" shape-rendering="geometricPrecision"/>
<line x1="618.0" y1="258.5" x2="598.9" y2="272.3" stroke="#000" stroke-width="1.1" shape-rendering="geometricPrecision"/>
<line x1="598.9" y1="272.3" x2="590.9" y2="266.4" stroke="#000" stroke-width="1" shape-rendering="geometricPrecision"/>
<line x1="626.7" y1="258.5" x2="604.2" y2="265.4" stroke="#000" stroke-width="1.1" shape-rendering="geometricPrecision"/>
<line x1="604.2" y1="265.4" x2="598.4" y2="257.2" stroke="#000" stroke-width="1" shape-rendering="geometricPrecision"/>
<line x1="635.3" y1="258.5" x2="611.9" y2="260.5" stroke="#000" stroke-width="1.1" shape-rendering="geometricPrecision"/>
<line x1="611.9" y1="260.5" x2="608.0" y2="251.3" stroke="#000" stroke-width="1" shape-rendering="geometricPrecision"/>
<line x1="615.1" y1="260.3" x2="613.0" y2="255.2" stroke="#000" stroke-width="1" shape-rendering="geometricPrecision"/>
<line x1="644.0" y1="258.5" x2="620.5" y2="258.5" stroke="#000" stroke-width="1.1" shape-rendering="geometricPrecision"/>
<line x1="620.5" y1="258.5" x2="617.5" y2="249.0" stroke="#000" stroke-width="1" shape-rendering="geometricPrecision"/>
<line x1="652.7" y1="258.5" x2="631.7" y2="258.5" stroke="#000" stroke-width="1.1" shape-rendering="geometricPrecision"/>
<line x1="634.2" y1="258.5" x2="632.5" y2="253.3" stroke="#000" stroke-width="1" shape-rendering="geometricPrecision"/>
<line x1="661.4" y1="258.5" x2="640.9" y2="269.9" stroke="#000" stroke-width="1.1" shape-rendering="geometricPrecision"/>
<line x1="640.9" y1="269.9" x2="633.6" y2="263.1" stroke="#000" stroke-width="1" shape-rendering="geometricPrecision"/>
<line x1="670.1" y1="258.5" x2="652.5" y2="269.9" stroke="#000" stroke-width="1.1" shape-rendering="geometricPrecision"/>
<line x1="654.6" y1="268.6" x2="650.3" y2="265.1" stroke="#000" stroke-width="1" shape-rendering="geometricPrecision"/>
<line x1="678.8" y1="258.5" x2="660.3" y2="268.4" stroke="#000" stroke-width="1.1" shape-rendering="geometricPrecision"/>
<line x1="662.5" y1="267.2" x2="658.5" y2="263.4" stroke="#000" stroke-width="1" shape-rendering="geometricPrecision"/>
<line x1="687.5" y1="258.5" x2="669.7" y2="269.6" stroke="#000" stroke-width="1.1" shape-rendering="geometricPrecision"/>
<line x1="671.8" y1="268.3" x2="667.6" y2="264.8" stroke="#000" stroke-width="1" shape-rendering="geometricPrecision"/>
<line x1="696.2" y1="258.5" x2="672.7" y2="259.3" stroke="#000" stroke-width="1.1" shape-rendering="geometricPrecision"/>
<line x1="672.7" y1="259.3" x2="669.3" y2="249.9" stroke="#000" stroke-width="1" shape-rendering="geometricPrecision"/>
<line x1="675.9" y1="259.2" x2="674.1" y2="254.0" stroke="#000" stroke-width="1" shape-rendering="geometricPrecision"/>
<line x1="704.9" y1="258.5" x2="681.5" y2="257.0" stroke="#000" stroke-width="1.1" shape-rendering="geometricPrecision"/>
<line x1="681.5" y1="257.0" x2="679.0" y2="247.3" stroke="#000" stroke-width="1" shape-rendering="geometricPrecision"/>
<line x1="713.6" y1="258.5" x2="691.3" y2="251.2" stroke="#000" stroke-width="1.1" shape-rendering="geometricPrecision"/>
<line x1="691.3" y1="251.2" x2="691.3" y2="241.2" stroke="#000" stroke-width="1" shape-rendering="geometricPrecision"/>
<line x1="722.3" y1="258.5" x2="701.6" y2="269.5" stroke="#000" stroke-width="1.1" shape-rendering="geometricPrecision"/>
<line x1="701.6" y1="269.5" x2="694.4" y2="262.6" stroke="#000" stroke-width="1" shape-rendering="geometricPrecision"/>
<line x1="731.0" y1="258.5" x2="712.0" y2="267.4" stroke="#000" stroke-width="1.1" shape-rendering="geometricPrecision"/>
<line x1="714.2" y1="266.3" x2="710.5" y2="262.3" stroke="#000" stroke-width="1" shape-rendering="geometricPrecision"/>
<line x1="739.7" y1="258.5" x2="721.7" y2="269.3" stroke="#000" stroke-width="1.1" shape-rendering="geometricPrecision"/>
<line x1="723.8" y1="268.0" x2="719.7" y2="264.4" stroke="#000" stroke-width="1" shape-rendering="geometricPrecision"/>
<line x1="748.4" y1="258.5" x2="731.6" y2="271.1" stroke="#000" stroke-width="1.1" shape-rendering="geometricPrecision"/>
<line x1="733.6" y1="269.6" x2="729.1" y2="266.5" stroke="#000" stroke-width="1" shape-rendering="geometricPrecision"/>
<line x1="757.1" y1="258.5" x2="741.2" y2="272.3" stroke="#000" stroke-width="1.1" shape-rendering="geometricPrecision"/>
<line x1="743.1" y1="270.6" x2="738.4" y2="267.8" stroke="#000" stroke-width="1" shape-rendering="geometricPrecision"/>
<line x1="765.8" y1="258.5" x2="744.8" y2="258.9" stroke="#000" stroke-width="1.1" shape-rendering="geometricPrecision"/>
<line x1="747.3" y1="258.8" x2="745.5" y2="253.6" stroke="#000" stroke-width="1" shape-rendering="geometricPrecision"/>
<line x1="774.5" y1="258.5" x2="756.3" y2="248.0" stroke="#000" stroke-width="1.1" shape-rendering="geometricPrecision"/>
<line x1="758.5" y1="249.2" x2="759.6" y2="243.9" stroke="#000" stroke-width="1" shape-rendering="geometricPrecision"/>
<polyline fill="none" stroke="#00c800" stroke-width="1.25" shape-rendering="geometricPrecision" points="87.5,280.5 96.2,282.5 104.9,279.2 113.6,269.2 122.3,267.5 131.0,261.7 139.7,227.5 148.4,226.2 157.1,229.2 165.8,263.0 174.5,269.2 183.2,276.7 191.9,278.5 200.5,279.2 209.2,285.0 217.9,274.2 226.6,274.2 235.3,284.2 244.0,282.5 252.7,281.7 261.4,283.7 270.1,280.0 278.8,290.2 287.5,273.0 296.2,278.7 304.9,276.2 313.6,270.5 322.3,285.0 331.0,275.0 339.7,273.5 348.4,273.5 357.1,282.5 365.8,278.0 374.5,283.5 383.2,288.0 391.9,278.0 400.6,267.5 409.3,277.5 417.9,279.2 426.6,273.5 435.3,271.7 444.0,268.5 452.7,265.5 461.4,265.0 470.1,264.2 478.8,269.2 487.5,272.5 496.2,282.2 504.9,281.0 513.6,282.2 522.3,284.2 531.0,284.2 539.7,283.5 548.4,281.7 557.1,275.0 565.8,271.0 574.5,271.7 583.2,260.5 591.9,281.7 600.6,276.7 609.3,274.2 618.0,265.5 626.7,255.5 635.3,232.5 644.0,254.6 652.7,270.5 661.4,261.7 670.1,261.7 678.8,263.7 687.5,261.0 696.2,240.0 704.9,243.7 713.6,251.7 722.3,271.7 731.0,262.5 739.7,265.0 748.4,268.7 757.1,268.0 765.8,265.5 774.5,263.7"/>
<path d="M85.5,280.5 L87.5,277.0 L89.5,280.5 L87.5,284.0 Z" fill="none" stroke="#00c800" stroke-width="1.05" shape-rendering="geometricPrecision"/>
<path d="M94.2,282.5 L96.2,279.0 L98.2,282.5 L96.2,286.0 Z" fill="none" stroke="#00c800" stroke-width="1.05" shape-rendering="geometricPrecision"/>
<path d="M102.9,279.2 L104.9,275.7 L106.9,279.2 L104.9,282.7 Z" fill="none" stroke="#00c800" stroke-width="1.05" shape-rendering="geometricPrecision"/>
<path d="M111.6,269.2 L113.6,265.7 L115.6,269.2 L113.6,272.7 Z" fill="none" stroke="#00c800" stroke-width="1.05" shape-rendering="geometricPrecision"/>
<path d="M120.3,267.5 L122.3,264.0 L124.3,267.5 L122.3,271.0 Z" fill="none" stroke="#00c800" stroke-width="1.05" shape-rendering="geometricPrecision"/>
<path d="M129.0,261.7 L131.0,258.2 L133.0,261.7 L131.0,265.2 Z" fill="none" stroke="#00c800" stroke-width="1.05" shape-rendering="geometricPrecision"/>
<path d="M137.7,227.5 L139.7,224.0 L141.7,227.5 L139.7,231.0 Z" fill="none" stroke="#00c800" stroke-width="1.05" shape-rendering="geometricPrecision"/>
<path d="M146.4,226.2 L148.4,222.7 L150.4,226.2 L148.4,229.7 Z" fill="none" stroke="#00c800" stroke-width="1.05" shape-rendering="geometricPrecision"/>
<path d="M155.1,229.2 L157.1,225.7 L159.1,229.2 L157.1,232.7 Z" fill="none" stroke="#00c800" stroke-width="1.05" shape-rendering="geometricPrecision"/>
<path d="M163.8,263.0 L165.8,259.5 L167.8,263.0 L165.8,266.5 Z" fill="none" stroke="#00c800" stroke-width="1.05" shape-rendering="geometricPrecision"/>
<path d="M172.5,269.2 L174.5,265.7 L176.5,269.2 L174.5,272.7 Z" fill="none" stroke="#00c800" stroke-width="1.05" shape-rendering="geometricPrecision"/>
<path d="M181.2,276.7 L183.2,273.2 L185.2,276.7 L183.2,280.2 Z" fill="none" stroke="#00c800" stroke-width="1.05" shape-rendering="geometricPrecision"/>
<path d="M189.9,278.5 L191.9,275.0 L193.9,278.5 L191.9,282.0 Z" fill="none" stroke="#00c800" stroke-width="1.05" shape-rendering="geometricPrecision"/>
<path d="M198.5,279.2 L200.5,275.7 L202.5,279.2 L200.5,282.7 Z" fill="none" stroke="#00c800" stroke-width="1.05" shape-rendering="geometricPrecision"/>
<path d="M207.2,285.0 L209.2,281.5 L211.2,285.0 L209.2,288.5 Z" fill="none" stroke="#00c800" stroke-width="1.05" shape-rendering="geometricPrecision"/>
<path d="M215.9,274.2 L217.9,270.7 L219.9,274.2 L217.9,277.7 Z" fill="none" stroke="#00c800" stroke-width="1.05" shape-rendering="geometricPrecision"/>
<path d="M224.6,274.2 L226.6,270.7 L228.6,274.2 L226.6,277.7 Z" fill="none" stroke="#00c800" stroke-width="1.05" shape-rendering="geometricPrecision"/>
<path d="M233.3,284.2 L235.3,280.7 L237.3,284.2 L235.3,287.7 Z" fill="none" stroke="#00c800" stroke-width="1.05" shape-rendering="geometricPrecision"/>
<path d="M242.0,282.5 L244.0,279.0 L246.0,282.5 L244.0,286.0 Z" fill="none" stroke="#00c800" stroke-width="1.05" shape-rendering="geometricPrecision"/>
<path d="M250.7,281.7 L252.7,278.2 L254.7,281.7 L252.7,285.2 Z" fill="none" stroke="#00c800" stroke-width="1.05" shape-rendering="geometricPrecision"/>
<path d="M259.4,283.7 L261.4,280.2 L263.4,283.7 L261.4,287.2 Z" fill="none" stroke="#00c800" stroke-width="1.05" shape-rendering="geometricPrecision"/>
<path d="M268.1,280.0 L270.1,276.5 L272.1,280.0 L270.1,283.5 Z" fill="none" stroke="#00c800" stroke-width="1.05" shape-rendering="geometricPrecision"/>
<path d="M276.8,290.2 L278.8,286.7 L280.8,290.2 L278.8,293.7 Z" fill="none" stroke="#00c800" stroke-width="1.05" shape-rendering="geometricPrecision"/>
<path d="M285.5,273.0 L287.5,269.5 L289.5,273.0 L287.5,276.5 Z" fill="none" stroke="#00c800" stroke-width="1.05" shape-rendering="geometricPrecision"/>
<path d="M294.2,278.7 L296.2,275.2 L298.2,278.7 L296.2,282.2 Z" fill="none" stroke="#00c800" stroke-width="1.05" shape-rendering="geometricPrecision"/>
<path d="M302.9,276.2 L304.9,272.7 L306.9,276.2 L304.9,279.7 Z" fill="none" stroke="#00c800" stroke-width="1.05" shape-rendering="geometricPrecision"/>
<path d="M311.6,270.5 L313.6,267.0 L315.6,270.5 L313.6,274.0 Z" fill="none" stroke="#00c800" stroke-width="1.05" shape-rendering="geometricPrecision"/>
<path d="M320.3,285.0 L322.3,281.5 L324.3,285.0 L322.3,288.5 Z" fill="none" stroke="#00c800" stroke-width="1.05" shape-rendering="geometricPrecision"/>
<path d="M329.0,275.0 L331.0,271.5 L333.0,275.0 L331.0,278.5 Z" fill="none" stroke="#00c800" stroke-width="1.05" shape-rendering="geometricPrecision"/>
<path d="M337.7,273.5 L339.7,270.0 L341.7,273.5 L339.7,277.0 Z" fill="none" stroke="#00c800" stroke-width="1.05" shape-rendering="geometricPrecision"/>
<path d="M346.4,273.5 L348.4,270.0 L350.4,273.5 L348.4,277.0 Z" fill="none" stroke="#00c800" stroke-width="1.05" shape-rendering="geometricPrecision"/>
<path d="M355.1,282.5 L357.1,279.0 L359.1,282.5 L357.1,286.0 Z" fill="none" stroke="#00c800" stroke-width="1.05" shape-rendering="geometricPrecision"/>
<path d="M363.8,278.0 L365.8,274.5 L367.8,278.0 L365.8,281.5 Z" fill="none" stroke="#00c800" stroke-width="1.05" shape-rendering="geometricPrecision"/>
<path d="M372.5,283.5 L374.5,280.0 L376.5,283.5 L374.5,287.0 Z" fill="none" stroke="#00c800" stroke-width="1.05" shape-rendering="geometricPrecision"/>
<path d="M381.2,288.0 L383.2,284.5 L385.2,288.0 L383.2,291.5 Z" fill="none" stroke="#00c800" stroke-width="1.05" shape-rendering="geometricPrecision"/>
<path d="M389.9,278.0 L391.9,274.5 L393.9,278.0 L391.9,281.5 Z" fill="none" stroke="#00c800" stroke-width="1.05" shape-rendering="geometricPrecision"/>
<path d="M398.6,267.5 L400.6,264.0 L402.6,267.5 L400.6,271.0 Z" fill="none" stroke="#00c800" stroke-width="1.05" shape-rendering="geometricPrecision"/>
<path d="M407.3,277.5 L409.3,274.0 L411.3,277.5 L409.3,281.0 Z" fill="none" stroke="#00c800" stroke-width="1.05" shape-rendering="geometricPrecision"/>
<path d="M415.9,279.2 L417.9,275.7 L419.9,279.2 L417.9,282.7 Z" fill="none" stroke="#00c800" stroke-width="1.05" shape-rendering="geometricPrecision"/>
<path d="M424.6,273.5 L426.6,270.0 L428.6,273.5 L426.6,277.0 Z" fill="none" stroke="#00c800" stroke-width="1.05" shape-rendering="geometricPrecision"/>
<path d="M433.3,271.7 L435.3,268.2 L437.3,271.7 L435.3,275.2 Z" fill="none" stroke="#00c800" stroke-width="1.05" shape-rendering="geometricPrecision"/>
<path d="M442.0,268.5 L444.0,265.0 L446.0,268.5 L444.0,272.0 Z" fill="none" stroke="#00c800" stroke-width="1.05" shape-rendering="geometricPrecision"/>
<path d="M450.7,265.5 L452.7,262.0 L454.7,265.5 L452.7,269.0 Z" fill="none" stroke="#00c800" stroke-width="1.05" shape-rendering="geometricPrecision"/>
<path d="M459.4,265.0 L461.4,261.5 L463.4,265.0 L461.4,268.5 Z" fill="none" stroke="#00c800" stroke-width="1.05" shape-rendering="geometricPrecision"/>
<path d="M468.1,264.2 L470.1,260.7 L472.1,264.2 L470.1,267.7 Z" fill="none" stroke="#00c800" stroke-width="1.05" shape-rendering="geometricPrecision"/>
<path d="M476.8,269.2 L478.8,265.7 L480.8,269.2 L478.8,272.7 Z" fill="none" stroke="#00c800" stroke-width="1.05" shape-rendering="geometricPrecision"/>
<path d="M485.5,272.5 L487.5,269.0 L489.5,272.5 L487.5,276.0 Z" fill="none" stroke="#00c800" stroke-width="1.05" shape-rendering="geometricPrecision"/>
<path d="M494.2,282.2 L496.2,278.7 L498.2,282.2 L496.2,285.7 Z" fill="none" stroke="#00c800" stroke-width="1.05" shape-rendering="geometricPrecision"/>
<path d="M502.9,281.0 L504.9,277.5 L506.9,281.0 L504.9,284.5 Z" fill="none" stroke="#00c800" stroke-width="1.05" shape-rendering="geometricPrecision"/>
<path d="M511.6,282.2 L513.6,278.7 L515.6,282.2 L513.6,285.7 Z" fill="none" stroke="#00c800" stroke-width="1.05" shape-rendering="geometricPrecision"/>
<path d="M520.3,284.2 L522.3,280.7 L524.3,284.2 L522.3,287.7 Z" fill="none" stroke="#00c800" stroke-width="1.05" shape-rendering="geometricPrecision"/>
<path d="M529.0,284.2 L531.0,280.7 L533.0,284.2 L531.0,287.7 Z" fill="none" stroke="#00c800" stroke-width="1.05" shape-rendering="geometricPrecision"/>
<path d="M537.7,283.5 L539.7,280.0 L541.7,283.5 L539.7,287.0 Z" fill="none" stroke="#00c800" stroke-width="1.05" shape-rendering="geometricPrecision"/>
<path d="M546.4,281.7 L548.4,278.2 L550.4,281.7 L548.4,285.2 Z" fill="none" stroke="#00c800" stroke-width="1.05" shape-rendering="geometricPrecision"/>
<path d="M555.1,275.0 L557.1,271.5 L559.1,275.0 L557.1,278.5 Z" fill="none" stroke="#00c800" stroke-width="1.05" shape-rendering="geometricPrecision"/>
<path d="M563.8,271.0 L565.8,267.5 L567.8,271.0 L565.8,274.5 Z" fill="none" stroke="#00c800" stroke-width="1.05" shape-rendering="geometricPrecision"/>
<path d="M572.5,271.7 L574.5,268.2 L576.5,271.7 L574.5,275.2 Z" fill="none" stroke="#00c800" stroke-width="1.05" shape-rendering="geometricPrecision"/>
<path d="M581.2,260.5 L583.2,257.0 L585.2,260.5 L583.2,264.0 Z" fill="none" stroke="#00c800" stroke-width="1.05" shape-rendering="geometricPrecision"/>
<path d="M589.9,281.7 L591.9,278.2 L593.9,281.7 L591.9,285.2 Z" fill="none" stroke="#00c800" stroke-width="1.05" shape-rendering="geometricPrecision"/>
<path d="M598.6,276.7 L600.6,273.2 L602.6,276.7 L600.6,280.2 Z" fill="none" stroke="#00c800" stroke-width="1.05" shape-rendering="geometricPrecision"/>
<path d="M607.3,274.2 L609.3,270.7 L611.3,274.2 L609.3,277.7 Z" fill="none" stroke="#00c800" stroke-width="1.05" shape-rendering="geometricPrecision"/>
<path d="M616.0,265.5 L618.0,262.0 L620.0,265.5 L618.0,269.0 Z" fill="none" stroke="#00c800" stroke-width="1.05" shape-rendering="geometricPrecision"/>
<path d="M624.7,255.5 L626.7,252.0 L628.7,255.5 L626.7,259.0 Z" fill="none" stroke="#00c800" stroke-width="1.05" shape-rendering="geometricPrecision"/>
<path d="M633.3,232.5 L635.3,229.0 L637.3,232.5 L635.3,236.0 Z" fill="none" stroke="#00c800" stroke-width="1.05" shape-rendering="geometricPrecision"/>
<path d="M642.0,254.6 L644.0,251.1 L646.0,254.6 L644.0,258.1 Z" fill="none" stroke="#00c800" stroke-width="1.05" shape-rendering="geometricPrecision"/>
<path d="M650.7,270.5 L652.7,267.0 L654.7,270.5 L652.7,274.0 Z" fill="none" stroke="#00c800" stroke-width="1.05" shape-rendering="geometricPrecision"/>
<path d="M659.4,261.7 L661.4,258.2 L663.4,261.7 L661.4,265.2 Z" fill="none" stroke="#00c800" stroke-width="1.05" shape-rendering="geometricPrecision"/>
<path d="M668.1,261.7 L670.1,258.2 L672.1,261.7 L670.1,265.2 Z" fill="none" stroke="#00c800" stroke-width="1.05" shape-rendering="geometricPrecision"/>
<path d="M676.8,263.7 L678.8,260.2 L680.8,263.7 L678.8,267.2 Z" fill="none" stroke="#00c800" stroke-width="1.05" shape-rendering="geometricPrecision"/>
<path d="M685.5,261.0 L687.5,257.5 L689.5,261.0 L687.5,264.5 Z" fill="none" stroke="#00c800" stroke-width="1.05" shape-rendering="geometricPrecision"/>
<path d="M694.2,240.0 L696.2,236.5 L698.2,240.0 L696.2,243.5 Z" fill="none" stroke="#00c800" stroke-width="1.05" shape-rendering="geometricPrecision"/>
<path d="M702.9,243.7 L704.9,240.2 L706.9,243.7 L704.9,247.2 Z" fill="none" stroke="#00c800" stroke-width="1.05" shape-rendering="geometricPrecision"/>
<path d="M711.6,251.7 L713.6,248.2 L715.6,251.7 L713.6,255.2 Z" fill="none" stroke="#00c800" stroke-width="1.05" shape-rendering="geometricPrecision"/>
<path d="M720.3,271.7 L722.3,268.2 L724.3,271.7 L722.3,275.2 Z" fill="none" stroke="#00c800" stroke-width="1.05" shape-rendering="geometricPrecision"/>
<path d="M729.0,262.5 L731.0,259.0 L733.0,262.5 L731.0,266.0 Z" fill="none" stroke="#00c800" stroke-width="1.05" shape-rendering="geometricPrecision"/>
<path d="M737.7,265.0 L739.7,261.5 L741.7,265.0 L739.7,268.5 Z" fill="none" stroke="#00c800" stroke-width="1.05" shape-rendering="geometricPrecision"/>
<path d="M746.4,268.7 L748.4,265.2 L750.4,268.7 L748.4,272.2 Z" fill="none" stroke="#00c800" stroke-width="1.05" shape-rendering="geometricPrecision"/>
<path d="M755.1,268.0 L757.1,264.5 L759.1,268.0 L757.1,271.5 Z" fill="none" stroke="#00c800" stroke-width="1.05" shape-rendering="geometricPrecision"/>
<path d="M763.8,265.5 L765.8,262.0 L767.8,265.5 L765.8,269.0 Z" fill="none" stroke="#00c800" stroke-width="1.05" shape-rendering="geometricPrecision"/>
<path d="M772.5,263.7 L774.5,260.2 L776.5,263.7 L774.5,267.2 Z" fill="none" stroke="#00c800" stroke-width="1.05" shape-rendering="geometricPrecision"/>
<clipPath id="tc"><polygon points="87.5,310.2 96.2,310.2 104.9,325.2 113.6,325.2 122.3,326.5 131.0,326.5 139.7,315.8 148.4,310.0 157.1,308.2 165.8,308.2 174.5,330.2 183.2,330.2 191.9,345.2 200.5,341.5 209.2,322.0 217.9,316.5 226.6,317.5 235.3,317.5 244.0,335.0 252.7,334.0 261.4,333.2 270.1,330.8 278.8,322.0 287.5,305.8 296.2,308.2 304.9,308.2 313.6,327.0 322.3,327.5 331.0,336.5 339.7,337.0 348.4,338.2 357.1,338.2 365.8,342.0 374.5,342.8 383.2,344.0 391.9,344.5 400.6,344.5 409.3,344.5 417.9,345.0 426.6,344.0 435.3,342.0 444.0,342.5 452.7,346.2 461.4,346.2 470.1,348.2 478.8,347.5 487.5,345.8 496.2,332.0 504.9,330.2 513.6,330.8 522.3,345.2 531.0,345.8 539.7,353.2 548.4,351.2 557.1,335.8 565.8,322.8 574.5,321.5 583.2,321.5 591.9,340.2 600.6,340.8 609.3,345.8 618.0,346.5 626.7,339.0 635.3,334.5 644.0,334.5 652.7,334.5 661.4,347.5 670.1,347.5 678.8,347.5 687.5,346.5 696.2,334.5 704.9,332.0 713.6,330.2 722.3,330.2 731.0,347.0 739.7,347.5 748.4,352.0 757.1,352.5 765.8,330.0 774.5,325.0 774.5,351.2 765.8,352.0 757.1,356.5 748.4,355.0 739.7,352.5 731.0,350.8 722.3,347.0 713.6,335.8 704.9,347.0 696.2,347.5 687.5,351.5 678.8,352.0 670.1,352.0 661.4,351.2 652.7,347.5 644.0,340.0 635.3,347.0 626.7,347.5 618.0,350.0 609.3,349.2 600.6,346.5 591.9,346.5 583.2,339.5 574.5,324.5 565.8,350.8 557.1,350.8 548.4,356.5 539.7,357.0 531.0,354.5 522.3,351.5 513.6,344.5 504.9,333.2 496.2,347.0 487.5,347.0 478.8,348.2 470.1,348.8 461.4,348.5 452.7,347.5 444.0,345.8 435.3,344.0 426.6,345.8 417.9,345.8 409.3,345.8 400.6,345.2 391.9,345.0 383.2,345.0 374.5,344.0 365.8,343.2 357.1,343.2 348.4,343.2 339.7,339.5 331.0,337.8 322.3,337.0 313.6,334.0 304.9,327.0 296.2,317.8 287.5,330.0 278.8,330.0 270.1,334.0 261.4,334.5 252.7,338.8 244.0,338.8 235.3,335.0 226.6,319.5 217.9,341.5 209.2,341.5 200.5,350.8 191.9,348.2 183.2,345.8 174.5,338.2 165.8,329.5 157.1,311.2 148.4,329.0 139.7,329.5 131.0,333.8 122.3,332.0 113.6,335.0 104.9,333.8 96.2,327.0 87.5,313.2"/></clipPath>
<g clip-path="url(#tc)">
<rect x="87" y="294" width="687" height="11.49999999999999" fill="#fa3c3c"/>
<rect x="87" y="305.2" width="687" height="14.49999999999999" fill="#f08228"/>
<rect x="87" y="319.4" width="687" height="14.3" fill="#e6af2d"/>
<rect x="87" y="333.4" width="687" height="14.3" fill="#f0dc32"/>
<rect x="87" y="347.4" width="687" height="14.3" fill="#a0e632"/>
<rect x="87" y="361.4" width="687" height="6.900000000000023" fill="#00dc00"/>
</g>
<line x1="88.3" y1="305.2" x2="772" y2="305.2" stroke="#aaaaaa" stroke-width="1" stroke-dasharray="2 4.55"/>
<line x1="88.3" y1="319.4" x2="772" y2="319.4" stroke="#aaaaaa" stroke-width="1" stroke-dasharray="2 4.55"/>
<line x1="88.3" y1="333.4" x2="772" y2="333.4" stroke="#aaaaaa" stroke-width="1" stroke-dasharray="2 4.55"/>
<line x1="88.3" y1="347.4" x2="772" y2="347.4" stroke="#aaaaaa" stroke-width="1" stroke-dasharray="2 4.55"/>
<line x1="88.3" y1="361.4" x2="772" y2="361.4" stroke="#aaaaaa" stroke-width="1" stroke-dasharray="2 4.55"/>
<polyline fill="none" stroke="#000" stroke-width="1" points="87.5,345.8 96.2,341.2 104.9,345.8 113.6,350.0 122.3,354.5 131.0,346.5 139.7,338.2 148.4,339.5 157.1,347.0 165.8,344.5 174.5,351.2 183.2,351.5 191.9,353.2 200.5,351.2 209.2,347.5 217.9,347.0 226.6,341.5 235.3,340.2 244.0,343.2 252.7,343.2 261.4,344.5 270.1,341.8 278.8,337.0 287.5,344.0 296.2,335.2 304.9,335.2 313.6,335.2 322.3,337.8 331.0,338.2 339.7,340.0 348.4,344.0 357.1,343.8 365.8,343.2 374.5,344.5 383.2,345.2 391.9,345.5 400.6,346.0 409.3,346.5 417.9,346.0 426.6,346.0 435.3,344.8 444.0,346.5 452.7,348.0 461.4,349.0 470.1,349.0 478.8,348.2 487.5,346.5 496.2,340.2 504.9,344.0 513.6,348.2 522.3,353.2 531.0,355.2 539.7,357.0 548.4,355.8 557.1,350.8 565.8,349.5 574.5,342.8 583.2,343.8 591.9,347.0 600.6,347.2 609.3,350.0 618.0,350.8 626.7,349.0 635.3,355.0 644.0,352.5 652.7,353.2 661.4,355.2 670.1,357.0 678.8,355.2 687.5,355.2 696.2,353.2 704.9,349.0 713.6,347.0 722.3,349.0 731.0,353.2 739.7,354.5 748.4,356.5 757.1,357.5 765.8,352.8 774.5,351.5"/>
<polyline fill="none" stroke="#1e3cff" stroke-width="1" points="87.5,313.2 96.2,327.0 104.9,333.8 113.6,335.0 122.3,332.0 131.0,333.8 139.7,329.5 148.4,329.0 157.1,311.2 165.8,329.5 174.5,338.2 183.2,345.8 191.9,348.2 200.5,350.8 209.2,341.5 217.9,341.5 226.6,319.5 235.3,335.0 244.0,338.8 252.7,338.8 261.4,334.5 270.1,334.0 278.8,330.0 287.5,330.0 296.2,317.8 304.9,327.0 313.6,334.0 322.3,337.0 331.0,337.8 339.7,339.5 348.4,343.2 357.1,343.2 365.8,343.2 374.5,344.0 383.2,345.0 391.9,345.0 400.6,345.2 409.3,345.8 417.9,345.8 426.6,345.8 435.3,344.0 444.0,345.8 452.7,347.5 461.4,348.5 470.1,348.8 478.8,348.2 487.5,347.0 496.2,347.0 504.9,333.2 513.6,344.5 522.3,351.5 531.0,354.5 539.7,357.0 548.4,356.5 557.1,350.8 565.8,350.8 574.5,324.5 583.2,339.5 591.9,346.5 600.6,346.5 609.3,349.2 618.0,350.0 626.7,347.5 635.3,347.0 644.0,340.0 652.7,347.5 661.4,351.2 670.1,352.0 678.8,352.0 687.5,351.5 696.2,347.5 704.9,347.0 713.6,335.8 722.3,347.0 731.0,350.8 739.7,352.5 748.4,355.0 757.1,356.5 765.8,352.0 774.5,351.2"/>
<polyline fill="none" stroke="#fa3c3c" stroke-width="1" points="87.5,310.2 96.2,310.2 104.9,325.2 113.6,325.2 122.3,326.5 131.0,326.5 139.7,315.8 148.4,310.0 157.1,308.2 165.8,308.2 174.5,330.2 183.2,330.2 191.9,345.2 200.5,341.5 209.2,322.0 217.9,316.5 226.6,317.5 235.3,317.5 244.0,335.0 252.7,334.0 261.4,333.2 270.1,330.8 278.8,322.0 287.5,305.8 296.2,308.2 304.9,308.2 313.6,327.0 322.3,327.5 331.0,336.5 339.7,337.0 348.4,338.2 357.1,338.2 365.8,342.0 374.5,342.8 383.2,344.0 391.9,344.5 400.6,344.5 409.3,344.5 417.9,345.0 426.6,344.0 435.3,342.0 444.0,342.5 452.7,346.2 461.4,346.2 470.1,348.2 478.8,347.5 487.5,345.8 496.2,332.0 504.9,330.2 513.6,330.8 522.3,345.2 531.0,345.8 539.7,353.2 548.4,351.2 557.1,335.8 565.8,322.8 574.5,321.5 583.2,321.5 591.9,340.2 600.6,340.8 609.3,345.8 618.0,346.5 626.7,339.0 635.3,334.5 644.0,334.5 652.7,334.5 661.4,347.5 670.1,347.5 678.8,347.5 687.5,346.5 696.2,334.5 704.9,332.0 713.6,330.2 722.3,330.2 731.0,347.0 739.7,347.5 748.4,352.0 757.1,352.5 765.8,330.0 774.5,325.0"/>
<clipPath id="rc"><polygon points="87,442 87.5,407.5 96.2,387.0 104.9,385.5 113.6,397.0 122.3,398.8 131.0,391.2 139.7,397.0 148.4,404.5 157.1,409.5 165.8,389.5 174.5,387.0 183.2,378.8 191.9,375.5 200.5,383.8 209.2,400.8 217.9,406.2 226.6,397.5 235.3,377.0 244.0,375.5 252.7,382.0 261.4,385.0 270.1,384.5 278.8,389.0 287.5,409.5 296.2,395.0 304.9,380.0 313.6,369.2 322.3,369.2 331.0,369.2 339.7,369.2 348.4,369.2 357.1,369.2 365.8,369.2 374.5,369.2 383.2,369.2 391.9,369.2 400.6,368.5 409.3,368.5 417.9,368.5 426.6,369.2 435.3,370.2 444.0,369.2 452.7,369.2 461.4,369.2 470.1,369.2 478.8,369.2 487.5,369.2 496.2,377.5 504.9,386.2 513.6,372.0 522.3,369.0 531.0,368.5 539.7,369.0 548.4,372.0 557.1,388.8 565.8,402.5 574.5,395.5 583.2,374.5 591.9,369.5 600.6,369.0 609.3,369.5 618.0,370.5 626.7,383.8 635.3,395.5 644.0,387.5 652.7,377.8 661.4,375.5 670.1,376.2 678.8,380.5 687.5,380.5 696.2,395.5 704.9,390.0 713.6,386.2 722.3,371.2 731.0,372.0 739.7,371.2 748.4,371.2 757.1,373.0 765.8,397.0 774.5,403.0 774,442"/></clipPath>
<g clip-path="url(#rc)">
<rect x="87" y="420.75" width="687" height="22.80" fill="#ecf5ec"/>
<rect x="87" y="405.75" width="687" height="15.30" fill="#c8d8c8"/>
<rect x="87" y="398.25" width="687" height="7.80" fill="#a2c8a2"/>
<rect x="87" y="390.75" width="687" height="7.80" fill="#7cd87c"/>
<rect x="87" y="383.25" width="687" height="7.80" fill="#50e650"/>
<rect x="87" y="375.75" width="687" height="7.80" fill="#00ee00"/>
<rect x="87" y="367.50" width="687" height="8.55" fill="#00b400"/>
</g>
<polyline fill="none" stroke="#14c814" stroke-width="1" points="87.5,407.5 96.2,387.0 104.9,385.5 113.6,397.0 122.3,398.8 131.0,391.2 139.7,397.0 148.4,404.5 157.1,409.5 165.8,389.5 174.5,387.0 183.2,378.8 191.9,375.5 200.5,383.8 209.2,400.8 217.9,406.2 226.6,397.5 235.3,377.0 244.0,375.5 252.7,382.0 261.4,385.0 270.1,384.5 278.8,389.0 287.5,409.5 296.2,395.0 304.9,380.0 313.6,369.2 322.3,369.2 331.0,369.2 339.7,369.2 348.4,369.2 357.1,369.2 365.8,369.2 374.5,369.2 383.2,369.2 391.9,369.2 400.6,368.5 409.3,368.5 417.9,368.5 426.6,369.2 435.3,370.2 444.0,369.2 452.7,369.2 461.4,369.2 470.1,369.2 478.8,369.2 487.5,369.2 496.2,377.5 504.9,386.2 513.6,372.0 522.3,369.0 531.0,368.5 539.7,369.0 548.4,372.0 557.1,388.8 565.8,402.5 574.5,395.5 583.2,374.5 591.9,369.5 600.6,369.0 609.3,369.5 618.0,370.5 626.7,383.8 635.3,395.5 644.0,387.5 652.7,377.8 661.4,375.5 670.1,376.2 678.8,380.5 687.5,380.5 696.2,395.5 704.9,390.0 713.6,386.2 722.3,371.2 731.0,372.0 739.7,371.2 748.4,371.2 757.1,373.0 765.8,397.0 774.5,403.0"/>
<line x1="93" y1="382.4" x2="772" y2="382.4" stroke="#aaaaaa" stroke-width="1" stroke-dasharray="2 4.55"/>
<line x1="93" y1="397.4" x2="772" y2="397.4" stroke="#aaaaaa" stroke-width="1" stroke-dasharray="2 4.55"/>
<line x1="93" y1="412.4" x2="772" y2="412.4" stroke="#aaaaaa" stroke-width="1" stroke-dasharray="2 4.55"/>
<line x1="93" y1="427.4" x2="772" y2="427.4" stroke="#aaaaaa" stroke-width="1" stroke-dasharray="2 4.55"/>
<line x1="93" y1="455.5" x2="772" y2="455.5" stroke="#aaaaaa" stroke-width="1" stroke-dasharray="2 4.55"/>
<line x1="93" y1="487.5" x2="772" y2="487.5" stroke="#aaaaaa" stroke-width="1" stroke-dasharray="2 4.55"/>
<line x1="93" y1="520.5" x2="772" y2="520.5" stroke="#aaaaaa" stroke-width="1" stroke-dasharray="2 4.55"/>
<rect x="294" y="550.0" width="5" height="1.0" fill="#1ed21e"/>
<rect x="302" y="547.0" width="5" height="4.0" fill="#1ed21e"/>
<rect x="311" y="524.2" width="5" height="26.8" fill="#1ed21e"/>
<rect x="320" y="522.0" width="5" height="29.0" fill="#1ed21e"/>
<rect x="328" y="527.0" width="5" height="24.0" fill="#1ed21e"/>
<rect x="337" y="517.0" width="5" height="34.0" fill="#1ed21e"/>
<rect x="346" y="503.0" width="5" height="48.0" fill="#1ed21e"/>
<rect x="355" y="519.0" width="5" height="32.0" fill="#1ed21e"/>
<rect x="363" y="510.0" width="5" height="41.0" fill="#1ed21e"/>
<rect x="372" y="537.0" width="5" height="14.0" fill="#1ed21e"/>
<rect x="381" y="545.0" width="5" height="6.0" fill="#1ed21e"/>
<rect x="389" y="530.0" width="5" height="21.0" fill="#1ed21e"/>
<rect x="398" y="501.0" width="5" height="50.0" fill="#1ed21e"/>
<rect x="407" y="499.0" width="5" height="52.0" fill="#1ed21e"/>
<rect x="415" y="493.0" width="5" height="58.0" fill="#1ed21e"/>
<rect x="424" y="520.0" width="5" height="31.0" fill="#1ed21e"/>
<rect x="433" y="547.0" width="5" height="4.0" fill="#1ed21e"/>
<rect x="442" y="540.0" width="5" height="11.0" fill="#1ed21e"/>
<rect x="450" y="537.0" width="5" height="14.0" fill="#1ed21e"/>
<rect x="459" y="542.0" width="5" height="9.0" fill="#1ed21e"/>
<rect x="468" y="542.0" width="5" height="9.0" fill="#1ed21e"/>
<rect x="476" y="541.0" width="5" height="10.0" fill="#1ed21e"/>
<rect x="485" y="546.0" width="5" height="5.0" fill="#1ed21e"/>
<rect x="494" y="542.0" width="5" height="9.0" fill="#1ed21e"/>
<rect x="502" y="546.0" width="5" height="5.0" fill="#1ed21e"/>
<rect x="511" y="550.0" width="5" height="1.0" fill="#1ed21e"/>
<rect x="581" y="545.0" width="5" height="6.0" fill="#1ed21e"/>
<rect x="589" y="532.0" width="5" height="19.0" fill="#1ed21e"/>
<rect x="598" y="515.0" width="5" height="36.0" fill="#1ed21e"/>
<rect x="607" y="531.0" width="5" height="20.0" fill="#1ed21e"/>
<rect x="615" y="546.0" width="5" height="5.0" fill="#1ed21e"/>
<rect x="624" y="547.0" width="5" height="4.0" fill="#1ed21e"/>
<rect x="633" y="546.0" width="5" height="5.0" fill="#1ed21e"/>
<rect x="642" y="549.0" width="5" height="2.0" fill="#1ed21e"/>
<rect x="650" y="550.0" width="5" height="1.0" fill="#1ed21e"/>
<rect x="676" y="550.0" width="5" height="1.0" fill="#1ed21e"/>
<rect x="685" y="550.0" width="5" height="1.0" fill="#1ed21e"/>
<rect x="694" y="550.0" width="5" height="1.0" fill="#1ed21e"/>
<rect x="702" y="546.0" width="5" height="5.0" fill="#1ed21e"/>
<rect x="711" y="544.0" width="5" height="7.0" fill="#1ed21e"/>
<rect x="720" y="546.0" width="5" height="5.0" fill="#1ed21e"/>
<rect x="87" y="74" width="687" height="74" fill="none" stroke="#000" stroke-width="2"/>
<rect x="87" y="148" width="687" height="73" fill="none" stroke="#000" stroke-width="2"/>
<rect x="87" y="221" width="687" height="74" fill="none" stroke="#000" stroke-width="2"/>
<rect x="87" y="295" width="687" height="73" fill="none" stroke="#000" stroke-width="2"/>
<rect x="87" y="368" width="687" height="74" fill="none" stroke="#000" stroke-width="2"/>
<rect x="87" y="442" width="687" height="110" fill="none" stroke="#000" stroke-width="2"/>
<rect x="295" y="549.5" width="3" height="2.9" fill="#ff3838"/>
<rect x="303" y="548.8" width="3" height="3.6" fill="#ff3838"/>
<rect x="312" y="547.0" width="3" height="5.4" fill="#ff3838"/>
<rect x="321" y="549.5" width="3" height="2.9" fill="#ff3838"/>
<rect x="329" y="548.8" width="3" height="3.6" fill="#ff3838"/>
<rect x="338" y="547.0" width="3" height="5.4" fill="#ff3838"/>
<rect x="347" y="548.8" width="3" height="3.6" fill="#ff3838"/>
<rect x="356" y="550.5" width="3" height="1.9" fill="#ff3838"/>
<rect x="364" y="550.5" width="3" height="1.9" fill="#ff3838"/>
<rect x="399" y="550.0" width="3" height="2.4" fill="#ff3838"/>
<rect x="408" y="548.8" width="3" height="3.6" fill="#ff3838"/>
<rect x="416" y="546.0" width="3" height="6.4" fill="#ff3838"/>
<rect x="425" y="546.0" width="3" height="6.4" fill="#ff3838"/>
<rect x="434" y="548.8" width="3" height="3.6" fill="#ff3838"/>
<rect x="443" y="548.8" width="3" height="3.6" fill="#ff3838"/>
<rect x="451" y="549.5" width="3" height="2.9" fill="#ff3838"/>
<rect x="460" y="548.8" width="3" height="3.6" fill="#ff3838"/>
<rect x="469" y="547.0" width="3" height="5.4" fill="#ff3838"/>
<rect x="477" y="548.8" width="3" height="3.6" fill="#ff3838"/>
<rect x="486" y="546.0" width="3" height="6.4" fill="#ff3838"/>
<rect x="495" y="542.0" width="3" height="10.4" fill="#ff3838"/>
<rect x="503" y="546.0" width="3" height="6.4" fill="#ff3838"/>
<rect x="512" y="550.0" width="3" height="2.4" fill="#ff3838"/>
<rect x="582" y="546.0" width="3" height="6.4" fill="#ff3838"/>
<rect x="590" y="550.0" width="3" height="2.4" fill="#ff3838"/>
<rect x="599" y="549.0" width="3" height="3.4" fill="#ff3838"/>
<rect x="608" y="545.0" width="3" height="7.4" fill="#ff3838"/>
<rect x="616" y="546.0" width="3" height="6.4" fill="#ff3838"/>
<rect x="625" y="547.0" width="3" height="5.4" fill="#ff3838"/>
<rect x="634" y="546.0" width="3" height="6.4" fill="#ff3838"/>
<rect x="643" y="549.2" width="3" height="3.1" fill="#ff3838"/>
<rect x="651" y="550.0" width="3" height="2.4" fill="#ff3838"/>
<rect x="660" y="550.8" width="3" height="1.6" fill="#ff3838"/>
<rect x="677" y="550.0" width="3" height="2.4" fill="#ff3838"/>
<rect x="686" y="550.8" width="3" height="1.6" fill="#ff3838"/>
<rect x="695" y="550.0" width="3" height="2.4" fill="#ff3838"/>
<rect x="703" y="546.0" width="3" height="6.4" fill="#ff3838"/>
<rect x="712" y="544.0" width="3" height="8.4" fill="#ff3838"/>
<rect x="721" y="546.0" width="3" height="6.4" fill="#ff3838"/>
<rect x="730" y="550.8" width="3" height="1.6" fill="#ff3838"/>
<rect x="738" y="550.8" width="3" height="1.6" fill="#ff3838"/>
<line x1="83.5" y1="158.4" x2="87" y2="158.4" stroke="#000" stroke-width="1"/>
<line x1="774" y1="158.4" x2="776" y2="158.4" stroke="#000" stroke-width="1"/>
<line x1="83.5" y1="172" x2="87" y2="172" stroke="#000" stroke-width="1"/>
<line x1="774" y1="172" x2="776" y2="172" stroke="#000" stroke-width="1"/>
<line x1="83.5" y1="185.5" x2="87" y2="185.5" stroke="#000" stroke-width="1"/>
<line x1="774" y1="185.5" x2="776" y2="185.5" stroke="#000" stroke-width="1"/>
<line x1="83.5" y1="199" x2="87" y2="199" stroke="#000" stroke-width="1"/>
<line x1="774" y1="199" x2="776" y2="199" stroke="#000" stroke-width="1"/>
<line x1="83.5" y1="212.5" x2="87" y2="212.5" stroke="#000" stroke-width="1"/>
<line x1="774" y1="212.5" x2="776" y2="212.5" stroke="#000" stroke-width="1"/>
<line x1="83.5" y1="233.4" x2="87" y2="233.4" stroke="#000" stroke-width="1"/>
<line x1="774" y1="233.4" x2="776" y2="233.4" stroke="#000" stroke-width="1"/>
<line x1="83.5" y1="252.7" x2="87" y2="252.7" stroke="#000" stroke-width="1"/>
<line x1="774" y1="252.7" x2="776" y2="252.7" stroke="#000" stroke-width="1"/>
<line x1="83.5" y1="272.2" x2="87" y2="272.2" stroke="#000" stroke-width="1"/>
<line x1="774" y1="272.2" x2="776" y2="272.2" stroke="#000" stroke-width="1"/>
<line x1="83.5" y1="291.5" x2="87" y2="291.5" stroke="#000" stroke-width="1"/>
<line x1="774" y1="291.5" x2="776" y2="291.5" stroke="#000" stroke-width="1"/>
<line x1="83.5" y1="305.2" x2="87" y2="305.2" stroke="#000" stroke-width="1"/>
<line x1="774" y1="305.2" x2="776" y2="305.2" stroke="#000" stroke-width="1"/>
<line x1="83.5" y1="319.4" x2="87" y2="319.4" stroke="#000" stroke-width="1"/>
<line x1="774" y1="319.4" x2="776" y2="319.4" stroke="#000" stroke-width="1"/>
<line x1="83.5" y1="333.4" x2="87" y2="333.4" stroke="#000" stroke-width="1"/>
<line x1="774" y1="333.4" x2="776" y2="333.4" stroke="#000" stroke-width="1"/>
<line x1="83.5" y1="347.4" x2="87" y2="347.4" stroke="#000" stroke-width="1"/>
<line x1="774" y1="347.4" x2="776" y2="347.4" stroke="#000" stroke-width="1"/>
<line x1="83.5" y1="361.4" x2="87" y2="361.4" stroke="#000" stroke-width="1"/>
<line x1="774" y1="361.4" x2="776" y2="361.4" stroke="#000" stroke-width="1"/>
<line x1="83.5" y1="382.4" x2="87" y2="382.4" stroke="#000" stroke-width="1"/>
<line x1="774" y1="382.4" x2="776" y2="382.4" stroke="#000" stroke-width="1"/>
<line x1="83.5" y1="397.4" x2="87" y2="397.4" stroke="#000" stroke-width="1"/>
<line x1="774" y1="397.4" x2="776" y2="397.4" stroke="#000" stroke-width="1"/>
<line x1="83.5" y1="412.4" x2="87" y2="412.4" stroke="#000" stroke-width="1"/>
<line x1="774" y1="412.4" x2="776" y2="412.4" stroke="#000" stroke-width="1"/>
<line x1="83.5" y1="427.4" x2="87" y2="427.4" stroke="#000" stroke-width="1"/>
<line x1="774" y1="427.4" x2="776" y2="427.4" stroke="#000" stroke-width="1"/>
<line x1="83.5" y1="455.5" x2="87" y2="455.5" stroke="#000" stroke-width="1"/>
<line x1="774" y1="455.5" x2="776" y2="455.5" stroke="#000" stroke-width="1"/>
<line x1="83.5" y1="487.5" x2="87" y2="487.5" stroke="#000" stroke-width="1"/>
<line x1="774" y1="487.5" x2="776" y2="487.5" stroke="#000" stroke-width="1"/>
<line x1="83.5" y1="520.5" x2="87" y2="520.5" stroke="#000" stroke-width="1"/>
<line x1="774" y1="520.5" x2="776" y2="520.5" stroke="#000" stroke-width="1"/>
<g fill="none" stroke-linecap="square" stroke-linejoin="round" shape-rendering="crispEdges">
<path d="M25.64,8.14 L24.99,6.84 L23.69,5.55 L22.39,4.90 L19.79,4.90 L18.50,5.55 L17.20,6.84 L16.55,8.14 L15.90,10.08 L15.90,13.32 L16.55,15.26 L17.20,16.56 L18.50,17.85 L19.79,18.50 L22.39,18.50 L23.69,17.85 L24.99,16.56 L25.64,15.26 L25.64,13.32 M22.39,13.32 L25.64,13.32 M30.18,4.90 L30.18,18.50 M30.18,4.90 L38.62,4.90 M30.18,11.38 L35.37,11.38 M50.30,6.84 L49.00,5.55 L47.05,4.90 L44.46,4.90 L42.51,5.55 L41.21,6.84 L41.21,8.14 L41.86,9.43 L42.51,10.08 L43.81,10.73 L47.70,12.02 L49.00,12.67 L49.65,13.32 L50.30,14.61 L50.30,16.56 L49.00,17.85 L47.05,18.50 L44.46,18.50 L42.51,17.85 L41.21,16.56" stroke="#000" stroke-width="1.4"/>
<path d="M68.00,12.67 L78.80,12.67" stroke="#000" stroke-width="1.4"/>
<path d="M96.10,4.90 L96.10,18.50 M96.10,4.90 L101.32,18.50 M106.55,4.90 L101.32,18.50 M106.55,4.90 L106.55,18.50 M111.12,13.32 L118.96,13.32 L118.96,12.02 L118.31,10.73 L117.65,10.08 L116.35,9.43 L114.39,9.43 L113.08,10.08 L111.77,11.38 L111.12,13.32 L111.12,14.61 L111.77,16.56 L113.08,17.85 L114.39,18.50 L116.35,18.50 L117.65,17.85 L118.96,16.56 M124.18,4.90 L124.18,15.91 L124.84,17.85 L126.14,18.50 L127.45,18.50 M122.22,9.43 L126.80,9.43 M130.71,13.32 L138.55,13.32 L138.55,12.02 L137.90,10.73 L137.24,10.08 L135.94,9.43 L133.98,9.43 L132.67,10.08 L131.37,11.38 L130.71,13.32 L130.71,14.61 L131.37,16.56 L132.67,17.85 L133.98,18.50 L135.94,18.50 L137.24,17.85 L138.55,16.56 M145.74,9.43 L144.43,10.08 L143.12,11.38 L142.47,13.32 L142.47,14.61 L143.12,16.56 L144.43,17.85 L145.74,18.50 L147.69,18.50 L149.00,17.85 L150.31,16.56 L150.96,14.61 L150.96,13.32 L150.31,11.38 L149.00,10.08 L147.69,9.43 L145.74,9.43 M162.72,9.43 L162.72,19.80 L162.06,21.74 L161.41,22.39 L160.10,23.03 L158.14,23.03 L156.84,22.39 M162.72,11.38 L161.41,10.08 L160.10,9.43 L158.14,9.43 L156.84,10.08 L155.53,11.38 L154.88,13.32 L154.88,14.61 L155.53,16.56 L156.84,17.85 L158.14,18.50 L160.10,18.50 L161.41,17.85 L162.72,16.56 M167.94,9.43 L167.94,18.50 M167.94,13.32 L168.59,11.38 L169.90,10.08 L171.21,9.43 L173.16,9.43 M183.61,9.43 L183.61,18.50 M183.61,11.38 L182.31,10.08 L181.00,9.43 L179.04,9.43 L177.74,10.08 L176.43,11.38 L175.78,13.32 L175.78,14.61 L176.43,16.56 L177.74,17.85 L179.04,18.50 L181.00,18.50 L182.31,17.85 L183.61,16.56 M188.84,9.43 L188.84,18.50 M188.84,12.02 L190.80,10.08 L192.10,9.43 L194.06,9.43 L195.37,10.08 L196.02,12.02 L196.02,18.50 M196.02,12.02 L197.98,10.08 L199.29,9.43 L201.25,9.43 L202.55,10.08 L203.21,12.02 L203.21,18.50 M208.43,9.43 L208.43,18.50 M208.43,12.02 L210.39,10.08 L211.70,9.43 L213.66,9.43 L214.96,10.08 L215.62,12.02 L215.62,18.50 M215.62,12.02 L217.58,10.08 L218.88,9.43 L220.84,9.43 L222.15,10.08 L222.80,12.02 L222.80,18.50" stroke="#000" stroke-width="1.4"/>
<path d="M436.80,5.30 L436.80,18.90 M436.80,18.90 L445.45,18.90 M451.94,9.83 L450.50,10.48 L449.06,11.78 L448.34,13.72 L448.34,15.01 L449.06,16.96 L450.50,18.25 L451.94,18.90 L454.11,18.90 L455.55,18.25 L456.99,16.96 L457.71,15.01 L457.71,13.72 L456.99,11.78 L455.55,10.48 L454.11,9.83 L451.94,9.83 M462.76,9.83 L462.76,18.90 M462.76,12.42 L464.92,10.48 L466.36,9.83 L468.53,9.83 L469.97,10.48 L470.69,12.42 L470.69,18.90 M477.18,9.83 L476.46,10.48 L477.18,11.13 L477.90,10.48 L477.18,9.83 M477.18,17.60 L476.46,18.25 L477.18,18.90 L477.90,18.25 L477.18,17.60" stroke="#000" stroke-width="1.4"/>
<path d="M492.90,7.89 L494.28,7.24 L496.34,5.30 L496.34,18.90 M506.67,7.89 L508.05,7.24 L510.11,5.30 L510.11,18.90 M519.75,17.60 L519.06,18.25 L519.75,18.90 L520.44,18.25 L519.75,17.60 M533.52,5.30 L526.64,5.30 L525.95,11.13 L526.64,10.48 L528.70,9.83 L530.77,9.83 L532.83,10.48 L534.21,11.78 L534.90,13.72 L534.90,15.01 L534.21,16.96 L532.83,18.25 L530.77,18.90 L528.70,18.90 L526.64,18.25 L525.95,17.60 L525.26,16.31" stroke="#000" stroke-width="1.4"/>
<path d="M548.20,5.30 L548.20,18.90 M548.20,18.90 L557.56,18.90 M570.04,9.83 L570.04,18.90 M570.04,11.78 L568.48,10.48 L566.92,9.83 L564.58,9.83 L563.02,10.48 L561.46,11.78 L560.68,13.72 L560.68,15.01 L561.46,16.96 L563.02,18.25 L564.58,18.90 L566.92,18.90 L568.48,18.25 L570.04,16.96 M577.06,5.30 L577.06,16.31 L577.84,18.25 L579.40,18.90 L580.96,18.90 M574.72,9.83 L580.18,9.83 M586.42,9.83 L585.64,10.48 L586.42,11.13 L587.20,10.48 L586.42,9.83 M586.42,17.60 L585.64,18.25 L586.42,18.90 L587.20,18.25 L586.42,17.60" stroke="#000" stroke-width="1.4"/>
<path d="M607.77,5.30 L601.30,14.37 L611.01,14.37 M607.77,5.30 L607.77,18.90 M617.48,5.30 L615.54,5.95 L614.89,7.24 L614.89,8.54 L615.54,9.83 L616.83,10.48 L619.42,11.13 L621.36,11.78 L622.65,13.07 L623.30,14.37 L623.30,16.31 L622.65,17.60 L622.01,18.25 L620.06,18.90 L617.48,18.90 L615.54,18.25 L614.89,17.60 L614.24,16.31 L614.24,14.37 L614.89,13.07 L616.18,11.78 L618.12,11.13 L620.71,10.48 L622.01,9.83 L622.65,8.54 L622.65,7.24 L622.01,5.95 L620.06,5.30 L617.48,5.30" stroke="#000" stroke-width="1.4"/>
<path d="M637.40,5.30 L637.40,18.90 M647.86,5.30 L647.86,18.90 M637.40,11.78 L647.86,11.78 M662.06,9.83 L662.06,20.20 L661.31,22.14 L660.57,22.79 L659.07,23.43 L656.83,23.43 L655.33,22.79 M662.06,11.78 L660.57,10.48 L659.07,9.83 L656.83,9.83 L655.33,10.48 L653.84,11.78 L653.09,13.72 L653.09,15.01 L653.84,16.96 L655.33,18.25 L656.83,18.90 L659.07,18.90 L660.57,18.25 L662.06,16.96 M668.79,5.30 L668.79,16.31 L669.53,18.25 L671.03,18.90 L672.52,18.90 M666.54,9.83 L671.77,9.83 M677.75,9.83 L677.01,10.48 L677.75,11.13 L678.50,10.48 L677.75,9.83 M677.75,17.60 L677.01,18.25 L677.75,18.90 L678.50,18.25 L677.75,17.60" stroke="#000" stroke-width="1.4"/>
<path d="M699.50,7.24 L698.86,5.95 L696.93,5.30 L695.65,5.30 L693.72,5.95 L692.44,7.89 L691.80,11.13 L691.80,14.37 L692.44,16.96 L693.72,18.25 L695.65,18.90 L696.29,18.90 L698.21,18.25 L699.50,16.96 L700.14,15.01 L700.14,14.37 L699.50,12.42 L698.21,11.13 L696.29,10.48 L695.65,10.48 L693.72,11.13 L692.44,12.42 L691.80,14.37 M705.91,7.89 L707.20,7.24 L709.12,5.30 L709.12,18.90 M725.80,5.30 L719.38,18.90 M716.82,5.30 L725.80,5.30 M730.29,9.83 L730.29,18.90 M730.29,12.42 L732.21,10.48 L733.50,9.83 L735.42,9.83 L736.70,10.48 L737.34,12.42 L737.34,18.90 M737.34,12.42 L739.27,10.48 L740.55,9.83 L742.48,9.83 L743.76,10.48 L744.40,12.42 L744.40,18.90" stroke="#000" stroke-width="1.4"/>
<path d="M8.50,35.10 L8.50,41.10 M8.50,41.10 L12.99,41.10 M18.97,37.10 L18.97,41.10 M18.97,37.96 L18.22,37.39 L17.48,37.10 L16.35,37.10 L15.61,37.39 L14.86,37.96 L14.48,38.81 L14.48,39.39 L14.86,40.24 L15.61,40.81 L16.35,41.10 L17.48,41.10 L18.22,40.81 L18.97,40.24 M21.96,37.10 L21.96,39.96 L22.34,40.81 L23.08,41.10 L24.21,41.10 L24.95,40.81 L26.08,39.96 M26.08,37.10 L26.08,41.10 M31.31,35.10 L30.56,35.10 L29.82,35.39 L29.44,36.24 L29.44,41.10 M28.32,37.10 L30.94,37.10 M33.93,37.10 L33.56,37.39 L33.93,37.67 L34.30,37.39 L33.93,37.10 M33.93,40.53 L33.56,40.81 L33.93,41.10 L34.30,40.81 L33.93,40.53 M44.03,36.24 L44.78,35.96 L45.90,35.10 L45.90,41.10 M50.76,36.53 L50.76,36.24 L51.13,35.67 L51.51,35.39 L52.25,35.10 L53.75,35.10 L54.50,35.39 L54.87,35.67 L55.25,36.24 L55.25,36.81 L54.87,37.39 L54.12,38.24 L50.38,41.10 L55.62,41.10 M63.10,35.10 L57.86,41.10 M57.86,35.10 L63.10,35.10 M57.86,41.10 L63.10,41.10" stroke="#000" stroke-width="1.0"/>
<path d="M97.25,62.36 L97.25,61.99 L97.59,61.24 L97.94,60.87 L98.63,60.50 L100.01,60.50 L100.70,60.87 L101.04,61.24 L101.39,61.99 L101.39,62.73 L101.04,63.47 L100.35,64.59 L96.90,68.30 L101.73,68.30 M108.29,61.61 L107.95,60.87 L106.91,60.50 L106.22,60.50 L105.19,60.87 L104.50,61.99 L104.15,63.84 L104.15,65.70 L104.50,67.19 L105.19,67.93 L106.22,68.30 L106.57,68.30 L107.60,67.93 L108.29,67.19 L108.64,66.07 L108.64,65.70 L108.29,64.59 L107.60,63.84 L106.57,63.47 L106.22,63.47 L105.19,63.84 L104.50,64.59 L104.15,65.70 M112.78,60.50 L110.02,68.30 M112.78,60.50 L115.54,68.30 M111.06,65.70 L114.51,65.70 M117.27,60.50 L117.27,66.07 L117.62,67.19 L118.31,67.93 L119.34,68.30 L120.03,68.30 L121.07,67.93 L121.76,67.19 L122.10,66.07 L122.10,60.50 M129.70,62.36 L129.35,61.61 L128.66,60.87 L127.97,60.50 L126.59,60.50 L125.90,60.87 L125.21,61.61 L124.87,62.36 L124.52,63.47 L124.52,65.33 L124.87,66.44 L125.21,67.19 L125.90,67.93 L126.59,68.30 L127.97,68.30 L128.66,67.93 L129.35,67.19 L129.70,66.44 L129.70,65.33 M127.97,65.33 L129.70,65.33" stroke="#000" stroke-width="1.0"/>
<path d="M97.25,561.96 L97.25,561.59 L97.59,560.84 L97.94,560.47 L98.63,560.10 L100.01,560.10 L100.70,560.47 L101.04,560.84 L101.39,561.59 L101.39,562.33 L101.04,563.07 L100.35,564.19 L96.90,567.90 L101.73,567.90 M108.29,561.21 L107.95,560.47 L106.91,560.10 L106.22,560.10 L105.19,560.47 L104.50,561.59 L104.15,563.44 L104.15,565.30 L104.50,566.79 L105.19,567.53 L106.22,567.90 L106.57,567.90 L107.60,567.53 L108.29,566.79 L108.64,565.67 L108.64,565.30 L108.29,564.19 L107.60,563.44 L106.57,563.07 L106.22,563.07 L105.19,563.44 L104.50,564.19 L104.15,565.30 M112.78,560.10 L110.02,567.90 M112.78,560.10 L115.54,567.90 M111.06,565.30 L114.51,565.30 M117.27,560.10 L117.27,565.67 L117.62,566.79 L118.31,567.53 L119.34,567.90 L120.03,567.90 L121.07,567.53 L121.76,566.79 L122.10,565.67 L122.10,560.10 M129.70,561.96 L129.35,561.21 L128.66,560.47 L127.97,560.10 L126.59,560.10 L125.90,560.47 L125.21,561.21 L124.87,561.96 L124.52,563.07 L124.52,564.93 L124.87,566.04 L125.21,566.79 L125.90,567.53 L126.59,567.90 L127.97,567.90 L128.66,567.53 L129.35,566.79 L129.70,566.04 L129.70,564.93 M127.97,564.93 L129.70,564.93" stroke="#000" stroke-width="1.0"/>
<path d="M166.80,62.36 L166.80,61.99 L167.14,61.24 L167.49,60.87 L168.18,60.50 L169.56,60.50 L170.25,60.87 L170.59,61.24 L170.94,61.99 L170.94,62.73 L170.59,63.47 L169.90,64.59 L166.45,68.30 L171.28,68.30 M178.19,60.50 L174.74,68.30 M173.36,60.50 L178.19,60.50 M182.33,60.50 L179.57,68.30 M182.33,60.50 L185.09,68.30 M180.61,65.70 L184.06,65.70 M186.82,60.50 L186.82,66.07 L187.17,67.19 L187.86,67.93 L188.89,68.30 L189.58,68.30 L190.62,67.93 L191.31,67.19 L191.65,66.07 L191.65,60.50 M199.25,62.36 L198.90,61.61 L198.21,60.87 L197.52,60.50 L196.14,60.50 L195.45,60.87 L194.76,61.61 L194.42,62.36 L194.07,63.47 L194.07,65.33 L194.42,66.44 L194.76,67.19 L195.45,67.93 L196.14,68.30 L197.52,68.30 L198.21,67.93 L198.90,67.19 L199.25,66.44 L199.25,65.33 M197.52,65.33 L199.25,65.33" stroke="#000" stroke-width="1.0"/>
<path d="M166.80,561.96 L166.80,561.59 L167.14,560.84 L167.49,560.47 L168.18,560.10 L169.56,560.10 L170.25,560.47 L170.59,560.84 L170.94,561.59 L170.94,562.33 L170.59,563.07 L169.90,564.19 L166.45,567.90 L171.28,567.90 M178.19,560.10 L174.74,567.90 M173.36,560.10 L178.19,560.10 M182.33,560.10 L179.57,567.90 M182.33,560.10 L185.09,567.90 M180.61,565.30 L184.06,565.30 M186.82,560.10 L186.82,565.67 L187.17,566.79 L187.86,567.53 L188.89,567.90 L189.58,567.90 L190.62,567.53 L191.31,566.79 L191.65,565.67 L191.65,560.10 M199.25,561.96 L198.90,561.21 L198.21,560.47 L197.52,560.10 L196.14,560.10 L195.45,560.47 L194.76,561.21 L194.42,561.96 L194.07,563.07 L194.07,564.93 L194.42,566.04 L194.76,566.79 L195.45,567.53 L196.14,567.90 L197.52,567.90 L198.21,567.53 L198.90,566.79 L199.25,566.04 L199.25,564.93 M197.52,564.93 L199.25,564.93" stroke="#000" stroke-width="1.0"/>
<path d="M236.35,62.36 L236.35,61.99 L236.69,61.24 L237.04,60.87 L237.73,60.50 L239.11,60.50 L239.80,60.87 L240.14,61.24 L240.49,61.99 L240.49,62.73 L240.14,63.47 L239.45,64.59 L236.00,68.30 L240.83,68.30 M244.63,60.50 L243.60,60.87 L243.25,61.61 L243.25,62.36 L243.60,63.10 L244.29,63.47 L245.67,63.84 L246.70,64.21 L247.39,64.96 L247.74,65.70 L247.74,66.81 L247.39,67.56 L247.05,67.93 L246.01,68.30 L244.63,68.30 L243.60,67.93 L243.25,67.56 L242.91,66.81 L242.91,65.70 L243.25,64.96 L243.94,64.21 L244.98,63.84 L246.36,63.47 L247.05,63.10 L247.39,62.36 L247.39,61.61 L247.05,60.87 L246.01,60.50 L244.63,60.50 M251.88,60.50 L249.12,68.30 M251.88,60.50 L254.64,68.30 M250.16,65.70 L253.61,65.70 M256.37,60.50 L256.37,66.07 L256.72,67.19 L257.41,67.93 L258.44,68.30 L259.13,68.30 L260.17,67.93 L260.86,67.19 L261.20,66.07 L261.20,60.50 M268.80,62.36 L268.45,61.61 L267.76,60.87 L267.07,60.50 L265.69,60.50 L265.00,60.87 L264.31,61.61 L263.97,62.36 L263.62,63.47 L263.62,65.33 L263.97,66.44 L264.31,67.19 L265.00,67.93 L265.69,68.30 L267.07,68.30 L267.76,67.93 L268.45,67.19 L268.80,66.44 L268.80,65.33 M267.07,65.33 L268.80,65.33" stroke="#000" stroke-width="1.0"/>
<path d="M236.35,561.96 L236.35,561.59 L236.69,560.84 L237.04,560.47 L237.73,560.10 L239.11,560.10 L239.80,560.47 L240.14,560.84 L240.49,561.59 L240.49,562.33 L240.14,563.07 L239.45,564.19 L236.00,567.90 L240.83,567.90 M244.63,560.10 L243.60,560.47 L243.25,561.21 L243.25,561.96 L243.60,562.70 L244.29,563.07 L245.67,563.44 L246.70,563.81 L247.39,564.56 L247.74,565.30 L247.74,566.41 L247.39,567.16 L247.05,567.53 L246.01,567.90 L244.63,567.90 L243.60,567.53 L243.25,567.16 L242.91,566.41 L242.91,565.30 L243.25,564.56 L243.94,563.81 L244.98,563.44 L246.36,563.07 L247.05,562.70 L247.39,561.96 L247.39,561.21 L247.05,560.47 L246.01,560.10 L244.63,560.10 M251.88,560.10 L249.12,567.90 M251.88,560.10 L254.64,567.90 M250.16,565.30 L253.61,565.30 M256.37,560.10 L256.37,565.67 L256.72,566.79 L257.41,567.53 L258.44,567.90 L259.13,567.90 L260.17,567.53 L260.86,566.79 L261.20,565.67 L261.20,560.10 M268.80,561.96 L268.45,561.21 L267.76,560.47 L267.07,560.10 L265.69,560.10 L265.00,560.47 L264.31,561.21 L263.97,561.96 L263.62,563.07 L263.62,564.93 L263.97,566.04 L264.31,566.79 L265.00,567.53 L265.69,567.90 L267.07,567.90 L267.76,567.53 L268.45,566.79 L268.80,566.04 L268.80,564.93 M267.07,564.93 L268.80,564.93" stroke="#000" stroke-width="1.0"/>
<path d="M305.90,62.36 L305.90,61.99 L306.24,61.24 L306.59,60.87 L307.28,60.50 L308.66,60.50 L309.35,60.87 L309.69,61.24 L310.04,61.99 L310.04,62.73 L309.69,63.47 L309.00,64.59 L305.55,68.30 L310.38,68.30 M316.94,63.10 L316.60,64.21 L315.91,64.96 L314.87,65.33 L314.53,65.33 L313.49,64.96 L312.80,64.21 L312.46,63.10 L312.46,62.73 L312.80,61.61 L313.49,60.87 L314.53,60.50 L314.87,60.50 L315.91,60.87 L316.60,61.61 L316.94,63.10 L316.94,64.96 L316.60,66.81 L315.91,67.93 L314.87,68.30 L314.18,68.30 L313.15,67.93 L312.80,67.19 M321.43,60.50 L318.67,68.30 M321.43,60.50 L324.19,68.30 M319.71,65.70 L323.16,65.70 M325.92,60.50 L325.92,66.07 L326.27,67.19 L326.96,67.93 L327.99,68.30 L328.68,68.30 L329.72,67.93 L330.41,67.19 L330.75,66.07 L330.75,60.50 M338.35,62.36 L338.00,61.61 L337.31,60.87 L336.62,60.50 L335.24,60.50 L334.55,60.87 L333.86,61.61 L333.52,62.36 L333.17,63.47 L333.17,65.33 L333.52,66.44 L333.86,67.19 L334.55,67.93 L335.24,68.30 L336.62,68.30 L337.31,67.93 L338.00,67.19 L338.35,66.44 L338.35,65.33 M336.62,65.33 L338.35,65.33" stroke="#000" stroke-width="1.0"/>
<path d="M305.90,561.96 L305.90,561.59 L306.24,560.84 L306.59,560.47 L307.28,560.10 L308.66,560.10 L309.35,560.47 L309.69,560.84 L310.04,561.59 L310.04,562.33 L309.69,563.07 L309.00,564.19 L305.55,567.90 L310.38,567.90 M316.94,562.70 L316.60,563.81 L315.91,564.56 L314.87,564.93 L314.53,564.93 L313.49,564.56 L312.80,563.81 L312.46,562.70 L312.46,562.33 L312.80,561.21 L313.49,560.47 L314.53,560.10 L314.87,560.10 L315.91,560.47 L316.60,561.21 L316.94,562.70 L316.94,564.56 L316.60,566.41 L315.91,567.53 L314.87,567.90 L314.18,567.90 L313.15,567.53 L312.80,566.79 M321.43,560.10 L318.67,567.90 M321.43,560.10 L324.19,567.90 M319.71,565.30 L323.16,565.30 M325.92,560.10 L325.92,565.67 L326.27,566.79 L326.96,567.53 L327.99,567.90 L328.68,567.90 L329.72,567.53 L330.41,566.79 L330.75,565.67 L330.75,560.10 M338.35,561.96 L338.00,561.21 L337.31,560.47 L336.62,560.10 L335.24,560.10 L334.55,560.47 L333.86,561.21 L333.52,561.96 L333.17,563.07 L333.17,564.93 L333.52,566.04 L333.86,566.79 L334.55,567.53 L335.24,567.90 L336.62,567.90 L337.31,567.53 L338.00,566.79 L338.35,566.04 L338.35,564.93 M336.62,564.93 L338.35,564.93" stroke="#000" stroke-width="1.0"/>
<path d="M375.79,60.50 L379.59,60.50 L377.52,63.47 L378.55,63.47 L379.24,63.84 L379.59,64.21 L379.93,65.33 L379.93,66.07 L379.59,67.19 L378.90,67.93 L377.86,68.30 L376.83,68.30 L375.79,67.93 L375.45,67.56 L375.10,66.81 M384.08,60.50 L383.04,60.87 L382.35,61.99 L382.01,63.84 L382.01,64.96 L382.35,66.81 L383.04,67.93 L384.08,68.30 L384.77,68.30 L385.80,67.93 L386.49,66.81 L386.84,64.96 L386.84,63.84 L386.49,61.99 L385.80,60.87 L384.77,60.50 L384.08,60.50 M390.98,60.50 L388.22,68.30 M390.98,60.50 L393.74,68.30 M389.26,65.70 L392.71,65.70 M395.47,60.50 L395.47,66.07 L395.82,67.19 L396.51,67.93 L397.54,68.30 L398.23,68.30 L399.27,67.93 L399.96,67.19 L400.30,66.07 L400.30,60.50 M407.90,62.36 L407.55,61.61 L406.86,60.87 L406.17,60.50 L404.79,60.50 L404.10,60.87 L403.41,61.61 L403.07,62.36 L402.72,63.47 L402.72,65.33 L403.07,66.44 L403.41,67.19 L404.10,67.93 L404.79,68.30 L406.17,68.30 L406.86,67.93 L407.55,67.19 L407.90,66.44 L407.90,65.33 M406.17,65.33 L407.90,65.33" stroke="#000" stroke-width="1.0"/>
<path d="M375.79,560.10 L379.59,560.10 L377.52,563.07 L378.55,563.07 L379.24,563.44 L379.59,563.81 L379.93,564.93 L379.93,565.67 L379.59,566.79 L378.90,567.53 L377.86,567.90 L376.83,567.90 L375.79,567.53 L375.45,567.16 L375.10,566.41 M384.08,560.10 L383.04,560.47 L382.35,561.59 L382.01,563.44 L382.01,564.56 L382.35,566.41 L383.04,567.53 L384.08,567.90 L384.77,567.90 L385.80,567.53 L386.49,566.41 L386.84,564.56 L386.84,563.44 L386.49,561.59 L385.80,560.47 L384.77,560.10 L384.08,560.10 M390.98,560.10 L388.22,567.90 M390.98,560.10 L393.74,567.90 M389.26,565.30 L392.71,565.30 M395.47,560.10 L395.47,565.67 L395.82,566.79 L396.51,567.53 L397.54,567.90 L398.23,567.90 L399.27,567.53 L399.96,566.79 L400.30,565.67 L400.30,560.10 M407.90,561.96 L407.55,561.21 L406.86,560.47 L406.17,560.10 L404.79,560.10 L404.10,560.47 L403.41,561.21 L403.07,561.96 L402.72,563.07 L402.72,564.93 L403.07,566.04 L403.41,566.79 L404.10,567.53 L404.79,567.90 L406.17,567.90 L406.86,567.53 L407.55,566.79 L407.90,566.04 L407.90,564.93 M406.17,564.93 L407.90,564.93" stroke="#000" stroke-width="1.0"/>
<path d="M445.34,60.50 L449.14,60.50 L447.07,63.47 L448.10,63.47 L448.79,63.84 L449.14,64.21 L449.48,65.33 L449.48,66.07 L449.14,67.19 L448.45,67.93 L447.41,68.30 L446.38,68.30 L445.34,67.93 L445.00,67.56 L444.65,66.81 M452.59,61.99 L453.28,61.61 L454.32,60.50 L454.32,68.30 M460.53,60.50 L457.77,68.30 M460.53,60.50 L463.29,68.30 M458.81,65.70 L462.26,65.70 M465.02,60.50 L465.02,66.07 L465.37,67.19 L466.06,67.93 L467.09,68.30 L467.78,68.30 L468.82,67.93 L469.51,67.19 L469.85,66.07 L469.85,60.50 M477.45,62.36 L477.10,61.61 L476.41,60.87 L475.72,60.50 L474.34,60.50 L473.65,60.87 L472.96,61.61 L472.62,62.36 L472.27,63.47 L472.27,65.33 L472.62,66.44 L472.96,67.19 L473.65,67.93 L474.34,68.30 L475.72,68.30 L476.41,67.93 L477.10,67.19 L477.45,66.44 L477.45,65.33 M475.72,65.33 L477.45,65.33" stroke="#000" stroke-width="1.0"/>
<path d="M445.34,560.10 L449.14,560.10 L447.07,563.07 L448.10,563.07 L448.79,563.44 L449.14,563.81 L449.48,564.93 L449.48,565.67 L449.14,566.79 L448.45,567.53 L447.41,567.90 L446.38,567.90 L445.34,567.53 L445.00,567.16 L444.65,566.41 M452.59,561.59 L453.28,561.21 L454.32,560.10 L454.32,567.90 M460.53,560.10 L457.77,567.90 M460.53,560.10 L463.29,567.90 M458.81,565.30 L462.26,565.30 M465.02,560.10 L465.02,565.67 L465.37,566.79 L466.06,567.53 L467.09,567.90 L467.78,567.90 L468.82,567.53 L469.51,566.79 L469.85,565.67 L469.85,560.10 M477.45,561.96 L477.10,561.21 L476.41,560.47 L475.72,560.10 L474.34,560.10 L473.65,560.47 L472.96,561.21 L472.62,561.96 L472.27,563.07 L472.27,564.93 L472.62,566.04 L472.96,566.79 L473.65,567.53 L474.34,567.90 L475.72,567.90 L476.41,567.53 L477.10,566.79 L477.45,566.04 L477.45,564.93 M475.72,564.93 L477.45,564.93" stroke="#000" stroke-width="1.0"/>
<path d="M518.00,61.99 L518.74,61.61 L519.85,60.50 L519.85,68.30 M529.44,61.61 L528.70,60.87 L527.59,60.50 L526.12,60.50 L525.01,60.87 L524.27,61.61 L524.27,62.36 L524.64,63.10 L525.01,63.47 L525.75,63.84 L527.96,64.59 L528.70,64.96 L529.07,65.33 L529.44,66.07 L529.44,67.19 L528.70,67.93 L527.59,68.30 L526.12,68.30 L525.01,67.93 L524.27,67.19 M532.02,60.50 L532.02,68.30 M532.02,60.50 L536.82,60.50 M532.02,64.21 L534.97,64.21 M532.02,68.30 L536.82,68.30 M539.03,60.50 L539.03,68.30 M539.03,60.50 L542.35,60.50 L543.46,60.87 L543.83,61.24 L544.20,61.99 L544.20,63.10 L543.83,63.84 L543.46,64.21 L542.35,64.59 L539.03,64.59" stroke="#000" stroke-width="1.0"/>
<path d="M518.00,561.59 L518.74,561.21 L519.85,560.10 L519.85,567.90 M529.44,561.21 L528.70,560.47 L527.59,560.10 L526.12,560.10 L525.01,560.47 L524.27,561.21 L524.27,561.96 L524.64,562.70 L525.01,563.07 L525.75,563.44 L527.96,564.19 L528.70,564.56 L529.07,564.93 L529.44,565.67 L529.44,566.79 L528.70,567.53 L527.59,567.90 L526.12,567.90 L525.01,567.53 L524.27,566.79 M532.02,560.10 L532.02,567.90 M532.02,560.10 L536.82,560.10 M532.02,563.81 L534.97,563.81 M532.02,567.90 L536.82,567.90 M539.03,560.10 L539.03,567.90 M539.03,560.10 L542.35,560.10 L543.46,560.47 L543.83,560.84 L544.20,561.59 L544.20,562.70 L543.83,563.44 L543.46,563.81 L542.35,564.19 L539.03,564.19" stroke="#000" stroke-width="1.0"/>
<path d="M587.40,62.36 L587.40,61.99 L587.76,61.24 L588.11,60.87 L588.82,60.50 L590.24,60.50 L590.94,60.87 L591.30,61.24 L591.65,61.99 L591.65,62.73 L591.30,63.47 L590.59,64.59 L587.05,68.30 L592.01,68.30 M599.09,61.61 L598.38,60.87 L597.32,60.50 L595.90,60.50 L594.84,60.87 L594.13,61.61 L594.13,62.36 L594.49,63.10 L594.84,63.47 L595.55,63.84 L597.67,64.59 L598.38,64.96 L598.73,65.33 L599.09,66.07 L599.09,67.19 L598.38,67.93 L597.32,68.30 L595.90,68.30 L594.84,67.93 L594.13,67.19 M601.57,60.50 L601.57,68.30 M601.57,60.50 L606.17,60.50 M601.57,64.21 L604.40,64.21 M601.57,68.30 L606.17,68.30 M608.29,60.50 L608.29,68.30 M608.29,60.50 L611.48,60.50 L612.54,60.87 L612.90,61.24 L613.25,61.99 L613.25,63.10 L612.90,63.84 L612.54,64.21 L611.48,64.59 L608.29,64.59" stroke="#000" stroke-width="1.0"/>
<path d="M587.40,561.96 L587.40,561.59 L587.76,560.84 L588.11,560.47 L588.82,560.10 L590.24,560.10 L590.94,560.47 L591.30,560.84 L591.65,561.59 L591.65,562.33 L591.30,563.07 L590.59,564.19 L587.05,567.90 L592.01,567.90 M599.09,561.21 L598.38,560.47 L597.32,560.10 L595.90,560.10 L594.84,560.47 L594.13,561.21 L594.13,561.96 L594.49,562.70 L594.84,563.07 L595.55,563.44 L597.67,564.19 L598.38,564.56 L598.73,564.93 L599.09,565.67 L599.09,566.79 L598.38,567.53 L597.32,567.90 L595.90,567.90 L594.84,567.53 L594.13,566.79 M601.57,560.10 L601.57,567.90 M601.57,560.10 L606.17,560.10 M601.57,563.81 L604.40,563.81 M601.57,567.90 L606.17,567.90 M608.29,560.10 L608.29,567.90 M608.29,560.10 L611.48,560.10 L612.54,560.47 L612.90,560.84 L613.25,561.59 L613.25,562.70 L612.90,563.44 L612.54,563.81 L611.48,564.19 L608.29,564.19" stroke="#000" stroke-width="1.0"/>
<path d="M657.31,60.50 L661.20,60.50 L659.08,63.47 L660.14,63.47 L660.85,63.84 L661.20,64.21 L661.56,65.33 L661.56,66.07 L661.20,67.19 L660.49,67.93 L659.43,68.30 L658.37,68.30 L657.31,67.93 L656.95,67.56 L656.60,66.81 M668.64,61.61 L667.93,60.87 L666.87,60.50 L665.45,60.50 L664.39,60.87 L663.68,61.61 L663.68,62.36 L664.04,63.10 L664.39,63.47 L665.10,63.84 L667.22,64.59 L667.93,64.96 L668.28,65.33 L668.64,66.07 L668.64,67.19 L667.93,67.93 L666.87,68.30 L665.45,68.30 L664.39,67.93 L663.68,67.19 M671.12,60.50 L671.12,68.30 M671.12,60.50 L675.72,60.50 M671.12,64.21 L673.95,64.21 M671.12,68.30 L675.72,68.30 M677.84,60.50 L677.84,68.30 M677.84,60.50 L681.03,60.50 L682.09,60.87 L682.45,61.24 L682.80,61.99 L682.80,63.10 L682.45,63.84 L682.09,64.21 L681.03,64.59 L677.84,64.59" stroke="#000" stroke-width="1.0"/>
<path d="M657.31,560.10 L661.20,560.10 L659.08,563.07 L660.14,563.07 L660.85,563.44 L661.20,563.81 L661.56,564.93 L661.56,565.67 L661.20,566.79 L660.49,567.53 L659.43,567.90 L658.37,567.90 L657.31,567.53 L656.95,567.16 L656.60,566.41 M668.64,561.21 L667.93,560.47 L666.87,560.10 L665.45,560.10 L664.39,560.47 L663.68,561.21 L663.68,561.96 L664.04,562.70 L664.39,563.07 L665.10,563.44 L667.22,564.19 L667.93,564.56 L668.28,564.93 L668.64,565.67 L668.64,566.79 L667.93,567.53 L666.87,567.90 L665.45,567.90 L664.39,567.53 L663.68,566.79 M671.12,560.10 L671.12,567.90 M671.12,560.10 L675.72,560.10 M671.12,563.81 L673.95,563.81 M671.12,567.90 L675.72,567.90 M677.84,560.10 L677.84,567.90 M677.84,560.10 L681.03,560.10 L682.09,560.47 L682.45,560.84 L682.80,561.59 L682.80,562.70 L682.45,563.44 L682.09,563.81 L681.03,564.19 L677.84,564.19" stroke="#000" stroke-width="1.0"/>
<path d="M729.69,60.50 L726.15,65.70 L731.46,65.70 M729.69,60.50 L729.69,68.30 M738.19,61.61 L737.48,60.87 L736.42,60.50 L735.00,60.50 L733.94,60.87 L733.23,61.61 L733.23,62.36 L733.59,63.10 L733.94,63.47 L734.65,63.84 L736.77,64.59 L737.48,64.96 L737.83,65.33 L738.19,66.07 L738.19,67.19 L737.48,67.93 L736.42,68.30 L735.00,68.30 L733.94,67.93 L733.23,67.19 M740.67,60.50 L740.67,68.30 M740.67,60.50 L745.27,60.50 M740.67,64.21 L743.50,64.21 M740.67,68.30 L745.27,68.30 M747.39,60.50 L747.39,68.30 M747.39,60.50 L750.58,60.50 L751.64,60.87 L752.00,61.24 L752.35,61.99 L752.35,63.10 L752.00,63.84 L751.64,64.21 L750.58,64.59 L747.39,64.59" stroke="#000" stroke-width="1.0"/>
<path d="M729.69,560.10 L726.15,565.30 L731.46,565.30 M729.69,560.10 L729.69,567.90 M738.19,561.21 L737.48,560.47 L736.42,560.10 L735.00,560.10 L733.94,560.47 L733.23,561.21 L733.23,561.96 L733.59,562.70 L733.94,563.07 L734.65,563.44 L736.77,564.19 L737.48,564.56 L737.83,564.93 L738.19,565.67 L738.19,566.79 L737.48,567.53 L736.42,567.90 L735.00,567.90 L733.94,567.53 L733.23,566.79 M740.67,560.10 L740.67,567.90 M740.67,560.10 L745.27,560.10 M740.67,563.81 L743.50,563.81 M740.67,567.90 L745.27,567.90 M747.39,560.10 L747.39,567.90 M747.39,560.10 L750.58,560.10 L751.64,560.47 L752.00,560.84 L752.35,561.59 L752.35,562.70 L752.00,563.44 L751.64,563.81 L750.58,564.19 L747.39,564.19" stroke="#000" stroke-width="1.0"/>
<path d="M100.86,49.66 L100.86,49.31 L101.22,48.60 L101.57,48.25 L102.29,47.90 L103.72,47.90 L104.44,48.25 L104.80,48.60 L105.16,49.31 L105.16,50.01 L104.80,50.72 L104.08,51.78 L100.50,55.30 L105.51,55.30 M109.81,47.90 L108.74,48.25 L108.02,49.31 L107.66,51.07 L107.66,52.13 L108.02,53.89 L108.74,54.95 L109.81,55.30 L110.53,55.30 L111.60,54.95 L112.32,53.89 L112.68,52.13 L112.68,51.07 L112.32,49.31 L111.60,48.25 L110.53,47.90 L109.81,47.90 M115.18,49.66 L115.18,49.31 L115.54,48.60 L115.90,48.25 L116.61,47.90 L118.05,47.90 L118.76,48.25 L119.12,48.60 L119.48,49.31 L119.48,50.01 L119.12,50.72 L118.41,51.78 L114.82,55.30 L119.84,55.30 M124.14,47.90 L123.06,48.25 L122.34,49.31 L121.99,51.07 L121.99,52.13 L122.34,53.89 L123.06,54.95 L124.14,55.30 L124.85,55.30 L125.93,54.95 L126.64,53.89 L127.00,52.13 L127.00,51.07 L126.64,49.31 L125.93,48.25 L124.85,47.90 L124.14,47.90" stroke="#000" stroke-width="1.0"/>
<path d="M100.86,574.16 L100.86,573.79 L101.22,573.04 L101.57,572.67 L102.29,572.30 L103.72,572.30 L104.44,572.67 L104.80,573.04 L105.16,573.79 L105.16,574.53 L104.80,575.27 L104.08,576.39 L100.50,580.10 L105.51,580.10 M109.81,572.30 L108.74,572.67 L108.02,573.79 L107.66,575.64 L107.66,576.76 L108.02,578.61 L108.74,579.73 L109.81,580.10 L110.53,580.10 L111.60,579.73 L112.32,578.61 L112.68,576.76 L112.68,575.64 L112.32,573.79 L111.60,572.67 L110.53,572.30 L109.81,572.30 M115.18,574.16 L115.18,573.79 L115.54,573.04 L115.90,572.67 L116.61,572.30 L118.05,572.30 L118.76,572.67 L119.12,573.04 L119.48,573.79 L119.48,574.53 L119.12,575.27 L118.41,576.39 L114.82,580.10 L119.84,580.10 M124.14,572.30 L123.06,572.67 L122.34,573.79 L121.99,575.64 L121.99,576.76 L122.34,578.61 L123.06,579.73 L124.14,580.10 L124.85,580.10 L125.93,579.73 L126.64,578.61 L127.00,576.76 L127.00,575.64 L126.64,573.79 L125.93,572.67 L124.85,572.30 L124.14,572.30" stroke="#000" stroke-width="1.0"/>
<path d="M56.80,155.99 L57.44,155.61 L58.40,154.50 L58.40,162.30 M64.15,154.50 L63.19,154.87 L62.55,155.99 L62.24,157.84 L62.24,158.96 L62.55,160.81 L63.19,161.93 L64.15,162.30 L64.79,162.30 L65.75,161.93 L66.39,160.81 L66.71,158.96 L66.71,157.84 L66.39,155.99 L65.75,154.87 L64.79,154.50 L64.15,154.50 M68.95,156.36 L68.95,155.99 L69.27,155.24 L69.59,154.87 L70.23,154.50 L71.51,154.50 L72.15,154.87 L72.47,155.24 L72.79,155.99 L72.79,156.73 L72.47,157.47 L71.83,158.59 L68.63,162.30 L73.11,162.30 M78.86,154.50 L75.66,154.50 L75.34,157.84 L75.66,157.47 L76.62,157.10 L77.58,157.10 L78.54,157.47 L79.18,158.21 L79.50,159.33 L79.50,160.07 L79.18,161.19 L78.54,161.93 L77.58,162.30 L76.62,162.30 L75.66,161.93 L75.34,161.56 L75.02,160.81" stroke="#000" stroke-width="1.0"/>
<path d="M56.80,169.59 L57.44,169.21 L58.40,168.10 L58.40,175.90 M64.15,168.10 L63.19,168.47 L62.55,169.59 L62.24,171.44 L62.24,172.56 L62.55,174.41 L63.19,175.53 L64.15,175.90 L64.79,175.90 L65.75,175.53 L66.39,174.41 L66.71,172.56 L66.71,171.44 L66.39,169.59 L65.75,168.47 L64.79,168.10 L64.15,168.10 M68.95,169.96 L68.95,169.59 L69.27,168.84 L69.59,168.47 L70.23,168.10 L71.51,168.10 L72.15,168.47 L72.47,168.84 L72.79,169.59 L72.79,170.33 L72.47,171.07 L71.83,172.19 L68.63,175.90 L73.11,175.90 M76.94,168.10 L75.98,168.47 L75.34,169.59 L75.02,171.44 L75.02,172.56 L75.34,174.41 L75.98,175.53 L76.94,175.90 L77.58,175.90 L78.54,175.53 L79.18,174.41 L79.50,172.56 L79.50,171.44 L79.18,169.59 L78.54,168.47 L77.58,168.10 L76.94,168.10" stroke="#000" stroke-width="1.0"/>
<path d="M56.80,183.09 L57.44,182.71 L58.40,181.60 L58.40,189.40 M64.15,181.60 L63.19,181.97 L62.55,183.09 L62.24,184.94 L62.24,186.06 L62.55,187.91 L63.19,189.03 L64.15,189.40 L64.79,189.40 L65.75,189.03 L66.39,187.91 L66.71,186.06 L66.71,184.94 L66.39,183.09 L65.75,181.97 L64.79,181.60 L64.15,181.60 M69.59,183.09 L70.23,182.71 L71.19,181.60 L71.19,189.40 M78.86,181.60 L75.66,181.60 L75.34,184.94 L75.66,184.57 L76.62,184.20 L77.58,184.20 L78.54,184.57 L79.18,185.31 L79.50,186.43 L79.50,187.17 L79.18,188.29 L78.54,189.03 L77.58,189.40 L76.62,189.40 L75.66,189.03 L75.34,188.66 L75.02,187.91" stroke="#000" stroke-width="1.0"/>
<path d="M56.80,196.59 L57.44,196.21 L58.40,195.10 L58.40,202.90 M64.15,195.10 L63.19,195.47 L62.55,196.59 L62.24,198.44 L62.24,199.56 L62.55,201.41 L63.19,202.53 L64.15,202.90 L64.79,202.90 L65.75,202.53 L66.39,201.41 L66.71,199.56 L66.71,198.44 L66.39,196.59 L65.75,195.47 L64.79,195.10 L64.15,195.10 M69.59,196.59 L70.23,196.21 L71.19,195.10 L71.19,202.90 M76.94,195.10 L75.98,195.47 L75.34,196.59 L75.02,198.44 L75.02,199.56 L75.34,201.41 L75.98,202.53 L76.94,202.90 L77.58,202.90 L78.54,202.53 L79.18,201.41 L79.50,199.56 L79.50,198.44 L79.18,196.59 L78.54,195.47 L77.58,195.10 L76.94,195.10" stroke="#000" stroke-width="1.0"/>
<path d="M56.80,210.09 L57.44,209.71 L58.40,208.60 L58.40,216.40 M64.15,208.60 L63.19,208.97 L62.55,210.09 L62.24,211.94 L62.24,213.06 L62.55,214.91 L63.19,216.03 L64.15,216.40 L64.79,216.40 L65.75,216.03 L66.39,214.91 L66.71,213.06 L66.71,211.94 L66.39,210.09 L65.75,208.97 L64.79,208.60 L64.15,208.60 M70.55,208.60 L69.59,208.97 L68.95,210.09 L68.63,211.94 L68.63,213.06 L68.95,214.91 L69.59,216.03 L70.55,216.40 L71.19,216.40 L72.15,216.03 L72.79,214.91 L73.11,213.06 L73.11,211.94 L72.79,210.09 L72.15,208.97 L71.19,208.60 L70.55,208.60 M78.86,208.60 L75.66,208.60 L75.34,211.94 L75.66,211.57 L76.62,211.20 L77.58,211.20 L78.54,211.57 L79.18,212.31 L79.50,213.43 L79.50,214.17 L79.18,215.29 L78.54,216.03 L77.58,216.40 L76.62,216.40 L75.66,216.03 L75.34,215.66 L75.02,214.91" stroke="#000" stroke-width="1.0"/>
<path d="M70.90,230.99 L71.45,230.61 L72.29,229.50 L72.29,237.30 M78.95,229.50 L76.17,229.50 L75.89,232.84 L76.17,232.47 L77.00,232.10 L77.84,232.10 L78.67,232.47 L79.22,233.21 L79.50,234.33 L79.50,235.07 L79.22,236.19 L78.67,236.93 L77.84,237.30 L77.00,237.30 L76.17,236.93 L75.89,236.56 L75.62,235.81" stroke="#000" stroke-width="1.0"/>
<path d="M70.90,250.29 L71.45,249.91 L72.29,248.80 L72.29,256.60 M77.28,248.80 L76.45,249.17 L75.89,250.29 L75.62,252.14 L75.62,253.26 L75.89,255.11 L76.45,256.23 L77.28,256.60 L77.84,256.60 L78.67,256.23 L79.22,255.11 L79.50,253.26 L79.50,252.14 L79.22,250.29 L78.67,249.17 L77.84,248.80 L77.28,248.80" stroke="#000" stroke-width="1.0"/>
<path d="M78.84,268.30 L75.56,268.30 L75.23,271.64 L75.56,271.27 L76.54,270.90 L77.53,270.90 L78.51,271.27 L79.17,272.01 L79.50,273.13 L79.50,273.87 L79.17,274.99 L78.51,275.73 L77.53,276.10 L76.54,276.10 L75.56,275.73 L75.23,275.36 L74.90,274.61" stroke="#000" stroke-width="1.0"/>
<path d="M76.87,287.60 L75.89,287.97 L75.23,289.09 L74.90,290.94 L74.90,292.06 L75.23,293.91 L75.89,295.03 L76.87,295.40 L77.53,295.40 L78.51,295.03 L79.17,293.91 L79.50,292.06 L79.50,290.94 L79.17,289.09 L78.51,287.97 L77.53,287.60 L76.87,287.60" stroke="#000" stroke-width="1.0"/>
<path d="M69.99,303.16 L69.99,302.79 L70.28,302.04 L70.56,301.67 L71.14,301.30 L72.29,301.30 L72.87,301.67 L73.16,302.04 L73.45,302.79 L73.45,303.53 L73.16,304.27 L72.58,305.39 L69.70,309.10 L73.74,309.10 M78.92,301.30 L76.04,301.30 L75.75,304.64 L76.04,304.27 L76.91,303.90 L77.77,303.90 L78.64,304.27 L79.21,305.01 L79.50,306.13 L79.50,306.87 L79.21,307.99 L78.64,308.73 L77.77,309.10 L76.91,309.10 L76.04,308.73 L75.75,308.36 L75.46,307.61" stroke="#000" stroke-width="1.0"/>
<path d="M69.99,317.36 L69.99,316.99 L70.28,316.24 L70.56,315.87 L71.14,315.50 L72.29,315.50 L72.87,315.87 L73.16,316.24 L73.45,316.99 L73.45,317.73 L73.16,318.47 L72.58,319.59 L69.70,323.30 L73.74,323.30 M77.19,315.50 L76.33,315.87 L75.75,316.99 L75.46,318.84 L75.46,319.96 L75.75,321.81 L76.33,322.93 L77.19,323.30 L77.77,323.30 L78.64,322.93 L79.21,321.81 L79.50,319.96 L79.50,318.84 L79.21,316.99 L78.64,315.87 L77.77,315.50 L77.19,315.50" stroke="#000" stroke-width="1.0"/>
<path d="M70.90,330.99 L71.45,330.61 L72.29,329.50 L72.29,337.30 M78.95,329.50 L76.17,329.50 L75.89,332.84 L76.17,332.47 L77.00,332.10 L77.84,332.10 L78.67,332.47 L79.22,333.21 L79.50,334.33 L79.50,335.07 L79.22,336.19 L78.67,336.93 L77.84,337.30 L77.00,337.30 L76.17,336.93 L75.89,336.56 L75.62,335.81" stroke="#000" stroke-width="1.0"/>
<path d="M70.90,344.99 L71.45,344.61 L72.29,343.50 L72.29,351.30 M77.28,343.50 L76.45,343.87 L75.89,344.99 L75.62,346.84 L75.62,347.96 L75.89,349.81 L76.45,350.93 L77.28,351.30 L77.84,351.30 L78.67,350.93 L79.22,349.81 L79.50,347.96 L79.50,346.84 L79.22,344.99 L78.67,343.87 L77.84,343.50 L77.28,343.50" stroke="#000" stroke-width="1.0"/>
<path d="M78.84,357.50 L75.56,357.50 L75.23,360.84 L75.56,360.47 L76.54,360.10 L77.53,360.10 L78.51,360.47 L79.17,361.21 L79.50,362.33 L79.50,363.07 L79.17,364.19 L78.51,364.93 L77.53,365.30 L76.54,365.30 L75.56,364.93 L75.23,364.56 L74.90,363.81" stroke="#000" stroke-width="1.0"/>
<path d="M71.14,378.50 L70.28,378.87 L69.99,379.61 L69.99,380.36 L70.28,381.10 L70.85,381.47 L72.01,381.84 L72.87,382.21 L73.45,382.96 L73.74,383.70 L73.74,384.81 L73.45,385.56 L73.16,385.93 L72.29,386.30 L71.14,386.30 L70.28,385.93 L69.99,385.56 L69.70,384.81 L69.70,383.70 L69.99,382.96 L70.56,382.21 L71.43,381.84 L72.58,381.47 L73.16,381.10 L73.45,380.36 L73.45,379.61 L73.16,378.87 L72.29,378.50 L71.14,378.50 M77.19,378.50 L76.33,378.87 L75.75,379.99 L75.46,381.84 L75.46,382.96 L75.75,384.81 L76.33,385.93 L77.19,386.30 L77.77,386.30 L78.64,385.93 L79.21,384.81 L79.50,382.96 L79.50,381.84 L79.21,379.99 L78.64,378.87 L77.77,378.50 L77.19,378.50" stroke="#000" stroke-width="1.0"/>
<path d="M73.26,394.61 L72.97,393.87 L72.08,393.50 L71.48,393.50 L70.59,393.87 L70.00,394.99 L69.70,396.84 L69.70,398.70 L70.00,400.19 L70.59,400.93 L71.48,401.30 L71.78,401.30 L72.67,400.93 L73.26,400.19 L73.56,399.07 L73.56,398.70 L73.26,397.59 L72.67,396.84 L71.78,396.47 L71.48,396.47 L70.59,396.84 L70.00,397.59 L69.70,398.70 M77.12,393.50 L76.23,393.87 L75.64,394.99 L75.34,396.84 L75.34,397.96 L75.64,399.81 L76.23,400.93 L77.12,401.30 L77.72,401.30 L78.61,400.93 L79.20,399.81 L79.50,397.96 L79.50,396.84 L79.20,394.99 L78.61,393.87 L77.72,393.50 L77.12,393.50" stroke="#000" stroke-width="1.0"/>
<path d="M72.58,408.50 L69.70,413.70 L74.02,413.70 M72.58,408.50 L72.58,416.30 M77.19,408.50 L76.33,408.87 L75.75,409.99 L75.46,411.84 L75.46,412.96 L75.75,414.81 L76.33,415.93 L77.19,416.30 L77.77,416.30 L78.64,415.93 L79.21,414.81 L79.50,412.96 L79.50,411.84 L79.21,409.99 L78.64,408.87 L77.77,408.50 L77.19,408.50" stroke="#000" stroke-width="1.0"/>
<path d="M69.99,425.36 L69.99,424.99 L70.28,424.24 L70.56,423.87 L71.14,423.50 L72.29,423.50 L72.87,423.87 L73.16,424.24 L73.45,424.99 L73.45,425.73 L73.16,426.47 L72.58,427.59 L69.70,431.30 L73.74,431.30 M77.19,423.50 L76.33,423.87 L75.75,424.99 L75.46,426.84 L75.46,427.96 L75.75,429.81 L76.33,430.93 L77.19,431.30 L77.77,431.30 L78.64,430.93 L79.21,429.81 L79.50,427.96 L79.50,426.84 L79.21,424.99 L78.64,423.87 L77.77,423.50 L77.19,423.50" stroke="#000" stroke-width="1.0"/>
<path d="M70.90,453.19 L71.45,452.81 L72.29,451.70 L72.29,459.50 M78.95,451.70 L76.17,451.70 L75.89,455.04 L76.17,454.67 L77.00,454.30 L77.84,454.30 L78.67,454.67 L79.22,455.41 L79.50,456.53 L79.50,457.27 L79.22,458.39 L78.67,459.13 L77.84,459.50 L77.00,459.50 L76.17,459.13 L75.89,458.76 L75.62,458.01" stroke="#000" stroke-width="1.0"/>
<path d="M70.90,485.19 L71.45,484.81 L72.29,483.70 L72.29,491.50 M77.28,483.70 L76.45,484.07 L75.89,485.19 L75.62,487.04 L75.62,488.16 L75.89,490.01 L76.45,491.13 L77.28,491.50 L77.84,491.50 L78.67,491.13 L79.22,490.01 L79.50,488.16 L79.50,487.04 L79.22,485.19 L78.67,484.07 L77.84,483.70 L77.28,483.70" stroke="#000" stroke-width="1.0"/>
<path d="M78.84,516.60 L75.56,516.60 L75.23,519.94 L75.56,519.57 L76.54,519.20 L77.53,519.20 L78.51,519.57 L79.17,520.31 L79.50,521.43 L79.50,522.17 L79.17,523.29 L78.51,524.03 L77.53,524.40 L76.54,524.40 L75.56,524.03 L75.23,523.66 L74.90,522.91" stroke="#000" stroke-width="1.0"/>
<path d="M76.87,548.70 L75.89,549.07 L75.23,550.19 L74.90,552.04 L74.90,553.16 L75.23,555.01 L75.89,556.13 L76.87,556.50 L77.53,556.50 L78.51,556.13 L79.17,555.01 L79.50,553.16 L79.50,552.04 L79.17,550.19 L78.51,549.07 L77.53,548.70 L76.87,548.70" stroke="#000" stroke-width="1.0"/>
<rect x="29.2" y="83.8" width="16.9" height="53" fill="#00a0ff" stroke="none"/>
<path d="M0.50,-9.30 L2.01,-0.50 M3.53,-9.30 L2.01,-0.50 M3.53,-9.30 L5.04,-0.50 M6.56,-9.30 L5.04,-0.50 M9.59,-6.37 L8.98,-5.95 L8.38,-5.11 L8.07,-3.85 L8.07,-3.01 L8.38,-1.76 L8.98,-0.92 L9.59,-0.50 L10.50,-0.50 L11.10,-0.92 L11.71,-1.76 L12.01,-3.01 L12.01,-3.85 L11.71,-5.11 L11.10,-5.95 L10.50,-6.37 L9.59,-6.37 M14.13,-9.30 L14.13,-0.50 M16.56,-9.30 L16.56,-0.50 M19.59,-6.37 L16.56,-2.18 M17.77,-3.85 L19.89,-0.50 M21.41,-3.85 L25.04,-3.85 L25.04,-4.69 L24.74,-5.53 L24.44,-5.95 L23.83,-6.37 L22.92,-6.37 L22.32,-5.95 L21.71,-5.11 L21.41,-3.85 L21.41,-3.01 L21.71,-1.76 L22.32,-0.92 L22.92,-0.50 L23.83,-0.50 L24.44,-0.92 L25.04,-1.76 M27.16,-6.37 L27.16,-0.50 M27.16,-4.69 L28.07,-5.95 L28.68,-6.37 L29.59,-6.37 L30.19,-5.95 L30.50,-4.69 L30.50,-0.50 M39.89,-10.98 L39.28,-10.14 L38.68,-8.88 L38.07,-7.20 L37.77,-5.11 L37.77,-3.43 L38.07,-1.34 L38.68,0.34 L39.28,1.60 L39.89,2.43 M47.16,-9.30 L41.71,-0.50 M43.22,-9.30 L43.83,-8.46 L43.83,-7.62 L43.53,-6.79 L42.92,-6.37 L42.31,-6.37 L41.71,-7.20 L41.71,-8.04 L42.01,-8.88 L42.62,-9.30 L43.22,-9.30 L43.83,-8.88 L44.74,-8.46 L45.65,-8.46 L46.56,-8.88 L47.16,-9.30 M45.95,-3.43 L45.34,-3.01 L45.04,-2.18 L45.04,-1.34 L45.65,-0.50 L46.25,-0.50 L46.86,-0.92 L47.16,-1.76 L47.16,-2.60 L46.56,-3.43 L45.95,-3.43 M48.98,-10.98 L49.59,-10.14 L50.19,-8.88 L50.80,-7.20 L51.10,-5.11 L51.10,-3.43 L50.80,-1.34 L50.19,0.34 L49.59,1.60 L48.98,2.43" transform="translate(41.80 136.20) rotate(-90)" stroke="#fff" stroke-width="1.0"/>
<path d="M0.50,-9.10 L0.50,-0.50 M0.50,-0.50 L4.40,-0.50 M10.89,-3.78 L14.79,-3.78 L14.79,-4.60 L14.47,-5.41 L14.14,-5.82 L13.49,-6.23 L12.52,-6.23 L11.87,-5.82 L11.22,-5.00 L10.89,-3.78 L10.89,-2.96 L11.22,-1.73 L11.87,-0.91 L12.52,-0.50 L13.49,-0.50 L14.14,-0.91 L14.79,-1.73 M21.61,-6.23 L23.56,-0.50 M25.51,-6.23 L23.56,-0.50 M32.33,-3.78 L36.23,-3.78 L36.23,-4.60 L35.90,-5.41 L35.58,-5.82 L34.93,-6.23 L33.96,-6.23 L33.31,-5.82 L32.66,-5.00 L32.33,-3.78 L32.33,-2.96 L32.66,-1.73 L33.31,-0.91 L33.96,-0.50 L34.93,-0.50 L35.58,-0.91 L36.23,-1.73 M43.70,-9.10 L43.70,-0.50" transform="translate(59.20 133.40) rotate(-90)" stroke="#000" stroke-width="1.0"/>
<path d="M62.30,82.80 L62.30,90.80 M66.38,82.80 L66.38,90.80 M62.30,86.61 L66.38,86.61 M69.88,85.47 L69.29,85.85 L68.71,86.61 L68.42,87.75 L68.42,88.51 L68.71,89.66 L69.29,90.42 L69.88,90.80 L70.75,90.80 L71.33,90.42 L71.92,89.66 L72.21,88.51 L72.21,87.75 L71.92,86.61 L71.33,85.85 L70.75,85.47 L69.88,85.47 M77.45,86.61 L76.87,85.85 L76.29,85.47 L75.41,85.47 L74.83,85.85 L74.25,86.61 L73.96,87.75 L73.96,88.51 L74.25,89.66 L74.83,90.42 L75.41,90.80 L76.29,90.80 L76.87,90.42 L77.45,89.66 M79.49,82.80 L79.49,90.80 M79.49,86.99 L80.37,85.85 L80.95,85.47 L81.83,85.47 L82.41,85.85 L82.70,86.99 L82.70,90.80" stroke="#000" stroke-width="1.0"/>
<path d="M62.30,107.50 L62.30,115.50 M62.30,107.50 L64.61,115.50 M66.93,107.50 L64.61,115.50 M66.93,107.50 L66.93,115.50 M68.95,107.50 L69.24,107.88 L69.53,107.50 L69.24,107.12 L68.95,107.50 M69.24,110.17 L69.24,115.50 M71.84,107.50 L71.84,113.98 L72.13,115.12 L72.71,115.50 L73.29,115.50 M70.98,110.17 L73.00,110.17 M75.31,107.50 L75.31,113.98 L75.60,115.12 L76.18,115.50 L76.76,115.50 M74.45,110.17 L76.47,110.17 M78.21,112.45 L81.68,112.45 L81.68,111.69 L81.39,110.93 L81.10,110.55 L80.52,110.17 L79.65,110.17 L79.07,110.55 L78.49,111.31 L78.21,112.45 L78.21,113.21 L78.49,114.36 L79.07,115.12 L79.65,115.50 L80.52,115.50 L81.10,115.12 L81.68,114.36 M83.70,107.50 L83.70,115.50" stroke="#000" stroke-width="1.0"/>
<path d="M68.06,131.90 L68.06,140.10 M66.10,131.90 L70.03,131.90 M71.15,131.90 L71.43,132.29 L71.71,131.90 L71.43,131.51 L71.15,131.90 M71.43,134.63 L71.43,140.10 M73.39,136.98 L76.75,136.98 L76.75,136.20 L76.47,135.41 L76.19,135.02 L75.63,134.63 L74.79,134.63 L74.23,135.02 L73.67,135.80 L73.39,136.98 L73.39,137.76 L73.67,138.93 L74.23,139.71 L74.79,140.10 L75.63,140.10 L76.19,139.71 L76.75,138.93 M80.40,131.90 L79.84,131.90 L79.28,132.29 L79.00,133.46 L79.00,140.10 M78.16,134.63 L80.12,134.63" stroke="#000" stroke-width="1.0"/>
<path d="M0.50,-9.50 L0.50,-0.50 M0.50,-9.50 L3.16,-9.50 L4.05,-9.07 L4.35,-8.64 L4.64,-7.79 L4.64,-6.93 L4.35,-6.07 L4.05,-5.64 L3.16,-5.21 M0.50,-5.21 L3.16,-5.21 L4.05,-4.79 L4.35,-4.36 L4.64,-3.50 L4.64,-2.21 L4.35,-1.36 L4.05,-0.93 L3.16,-0.50 L0.50,-0.50 M7.90,-6.50 L7.31,-6.07 L6.72,-5.21 L6.42,-3.93 L6.42,-3.07 L6.72,-1.79 L7.31,-0.93 L7.90,-0.50 L8.79,-0.50 L9.38,-0.93 L9.97,-1.79 L10.27,-3.07 L10.27,-3.93 L9.97,-5.21 L9.38,-6.07 L8.79,-6.50 L7.90,-6.50 M15.60,-9.50 L15.60,-0.50 M15.60,-5.21 L15.01,-6.07 L14.41,-6.50 L13.52,-6.50 L12.93,-6.07 L12.34,-5.21 L12.04,-3.93 L12.04,-3.07 L12.34,-1.79 L12.93,-0.93 L13.52,-0.50 L14.41,-0.50 L15.01,-0.93 L15.60,-1.79 M17.67,-3.93 L21.22,-3.93 L21.22,-4.79 L20.93,-5.64 L20.63,-6.07 L20.04,-6.50 L19.15,-6.50 L18.56,-6.07 L17.97,-5.21 L17.67,-3.93 L17.67,-3.07 L17.97,-1.79 L18.56,-0.93 L19.15,-0.50 L20.04,-0.50 L20.63,-0.93 L21.22,-1.79 M23.29,-6.50 L23.29,-0.50 M23.29,-4.79 L24.18,-6.07 L24.77,-6.50 L25.66,-6.50 L26.25,-6.07 L26.55,-4.79 L26.55,-0.50 M32.17,-9.50 L32.17,-0.50 M32.17,-5.21 L31.58,-6.07 L30.99,-6.50 L30.10,-6.50 L29.51,-6.07 L28.92,-5.21 L28.62,-3.93 L28.62,-3.07 L28.92,-1.79 L29.51,-0.93 L30.10,-0.50 L30.99,-0.50 L31.58,-0.93 L32.17,-1.79 M34.54,-6.50 L34.54,-0.50 M34.54,-3.93 L34.84,-5.21 L35.43,-6.07 L36.02,-6.50 L36.91,-6.50 M38.39,-6.50 L38.39,-2.21 L38.69,-0.93 L39.28,-0.50 L40.17,-0.50 L40.76,-0.93 L41.65,-2.21 M41.65,-6.50 L41.65,-0.50 M47.27,-5.21 L46.68,-6.07 L46.09,-6.50 L45.20,-6.50 L44.61,-6.07 L44.02,-5.21 L43.72,-3.93 L43.72,-3.07 L44.02,-1.79 L44.61,-0.93 L45.20,-0.50 L46.09,-0.50 L46.68,-0.93 L47.27,-1.79 M49.34,-9.50 L49.34,-0.50 M52.30,-6.50 L49.34,-2.21 M50.53,-3.93 L52.60,-0.50" transform="translate(27.30 210.90) rotate(-90)" stroke="#000" stroke-width="1.0"/>
<path d="M2.63,-10.86 L2.02,-10.03 L1.41,-8.79 L0.80,-7.13 L0.50,-5.06 L0.50,-3.40 L0.80,-1.33 L1.41,0.33 L2.02,1.57 L2.63,2.40 M4.75,-9.20 L4.75,-0.50 M4.75,-4.64 L5.66,-5.89 L6.27,-6.30 L7.18,-6.30 L7.79,-5.89 L8.09,-4.64 L8.09,-0.50 M10.53,-9.20 L10.53,-0.50 M10.53,-9.20 L13.26,-9.20 L14.17,-8.79 L14.47,-8.37 L14.78,-7.54 L14.78,-6.30 L14.47,-5.47 L14.17,-5.06 L13.26,-4.64 L10.53,-4.64 M20.25,-6.30 L20.25,-0.50 M20.25,-5.06 L19.64,-5.89 L19.03,-6.30 L18.12,-6.30 L17.51,-5.89 L16.91,-5.06 L16.60,-3.81 L16.60,-2.99 L16.91,-1.74 L17.51,-0.91 L18.12,-0.50 L19.03,-0.50 L19.64,-0.91 L20.25,-1.74 M22.37,-10.86 L22.98,-10.03 L23.59,-8.79 L24.20,-7.13 L24.50,-5.06 L24.50,-3.40 L24.20,-1.33 L23.59,0.33 L22.98,1.57 L22.37,2.40" transform="translate(52.00 197.50) rotate(-90)" stroke="#000" stroke-width="1.0"/>
<path d="M0.50,-9.70 L1.98,-0.50 M3.46,-9.70 L1.98,-0.50 M3.46,-9.70 L4.94,-0.50 M6.42,-9.70 L4.94,-0.50 M7.89,-9.70 L8.19,-9.26 L8.49,-9.70 L8.19,-10.14 L7.89,-9.70 M8.19,-6.63 L8.19,-0.50 M10.56,-6.63 L10.56,-0.50 M10.56,-4.88 L11.44,-6.20 L12.04,-6.63 L12.92,-6.63 L13.51,-6.20 L13.81,-4.88 L13.81,-0.50 M19.43,-9.70 L19.43,-0.50 M19.43,-5.32 L18.84,-6.20 L18.25,-6.63 L17.36,-6.63 L16.77,-6.20 L16.18,-5.32 L15.88,-4.00 L15.88,-3.13 L16.18,-1.81 L16.77,-0.94 L17.36,-0.50 L18.25,-0.50 L18.84,-0.94 L19.43,-1.81 M30.67,-7.51 L30.37,-8.39 L29.78,-9.26 L29.19,-9.70 L28.01,-9.70 L27.42,-9.26 L26.82,-8.39 L26.53,-7.51 L26.23,-6.20 L26.23,-4.00 L26.53,-2.69 L26.82,-1.81 L27.42,-0.94 L28.01,-0.50 L29.19,-0.50 L29.78,-0.94 L30.37,-1.81 L30.67,-2.69 L30.67,-4.00 M29.19,-4.00 L30.67,-4.00 M32.44,-4.00 L35.99,-4.00 L35.99,-4.88 L35.70,-5.76 L35.40,-6.20 L34.81,-6.63 L33.92,-6.63 L33.33,-6.20 L32.74,-5.32 L32.44,-4.00 L32.44,-3.13 L32.74,-1.81 L33.33,-0.94 L33.92,-0.50 L34.81,-0.50 L35.40,-0.94 L35.99,-1.81 M41.02,-5.32 L40.73,-6.20 L39.84,-6.63 L38.95,-6.63 L38.06,-6.20 L37.77,-5.32 L38.06,-4.44 L38.65,-4.00 L40.13,-3.57 L40.73,-3.13 L41.02,-2.25 L41.02,-1.81 L40.73,-0.94 L39.84,-0.50 L38.95,-0.50 L38.06,-0.94 L37.77,-1.81 M46.35,-5.32 L45.75,-6.20 L45.16,-6.63 L44.27,-6.63 L43.68,-6.20 L43.09,-5.32 L42.80,-4.00 L42.80,-3.13 L43.09,-1.81 L43.68,-0.94 L44.27,-0.50 L45.16,-0.50 L45.75,-0.94 L46.35,-1.81 M48.42,-9.70 L48.42,-0.50 M48.42,-4.88 L49.30,-6.20 L49.89,-6.63 L50.78,-6.63 L51.37,-6.20 L51.67,-4.88 L51.67,-0.50 M53.74,-6.63 L54.92,-0.50 M56.11,-6.63 L54.92,-0.50 M56.11,-6.63 L57.29,-0.50 M58.47,-6.63 L57.29,-0.50 M60.25,-9.70 L60.54,-9.26 L60.84,-9.70 L60.54,-10.14 L60.25,-9.70 M60.54,-6.63 L60.54,-0.50 M63.20,-1.38 L62.91,-0.94 L63.20,-0.50 L63.50,-0.94 L63.20,-1.38" transform="translate(27.30 291.00) rotate(-90)" stroke="#00c800" stroke-width="1.0"/>
<path d="M0.50,-9.10 L1.98,-0.50 M3.46,-9.10 L1.98,-0.50 M3.46,-9.10 L4.94,-0.50 M6.42,-9.10 L4.94,-0.50 M7.90,-9.10 L8.19,-8.69 L8.49,-9.10 L8.19,-9.51 L7.90,-9.10 M8.19,-6.23 L8.19,-0.50 M10.56,-6.23 L10.56,-0.50 M10.56,-4.60 L11.45,-5.82 L12.04,-6.23 L12.93,-6.23 L13.52,-5.82 L13.81,-4.60 L13.81,-0.50 M19.44,-9.10 L19.44,-0.50 M19.44,-5.00 L18.84,-5.82 L18.25,-6.23 L17.37,-6.23 L16.77,-5.82 L16.18,-5.00 L15.89,-3.78 L15.89,-2.96 L16.18,-1.73 L16.77,-0.91 L17.37,-0.50 L18.25,-0.50 L18.84,-0.91 L19.44,-1.73 M23.58,-9.10 L22.99,-9.10 L22.40,-8.69 L22.10,-7.46 L22.10,-0.50 M21.21,-6.23 L23.28,-6.23 M28.61,-6.23 L28.61,-0.50 M28.61,-5.00 L28.02,-5.82 L27.43,-6.23 L26.54,-6.23 L25.95,-5.82 L25.35,-5.00 L25.06,-3.78 L25.06,-2.96 L25.35,-1.73 L25.95,-0.91 L26.54,-0.50 L27.43,-0.50 L28.02,-0.91 L28.61,-1.73 M30.98,-9.10 L30.98,-0.50 M30.98,-4.60 L31.86,-5.82 L32.46,-6.23 L33.34,-6.23 L33.93,-5.82 L34.23,-4.60 L34.23,-0.50 M36.60,-6.23 L36.60,-0.50 M36.60,-4.60 L37.49,-5.82 L38.08,-6.23 L38.96,-6.23 L39.56,-5.82 L39.85,-4.60 L39.85,-0.50 M41.92,-3.78 L45.47,-3.78 L45.47,-4.60 L45.18,-5.41 L44.88,-5.82 L44.29,-6.23 L43.40,-6.23 L42.81,-5.82 L42.22,-5.00 L41.92,-3.78 L41.92,-2.96 L42.22,-1.73 L42.81,-0.91 L43.40,-0.50 L44.29,-0.50 L44.88,-0.91 L45.47,-1.73 M47.55,-6.23 L47.55,-0.50 M47.55,-4.60 L48.43,-5.82 L49.02,-6.23 L49.91,-6.23 L50.50,-5.82 L50.80,-4.60 L50.80,-0.50" transform="translate(41.40 284.00) rotate(-90)" stroke="#000" stroke-width="1.0"/>
<path d="M2.56,-11.10 L1.97,-10.25 L1.38,-8.98 L0.79,-7.28 L0.50,-5.16 L0.50,-3.47 L0.79,-1.35 L1.38,0.35 L1.97,1.62 L2.56,2.47 M4.61,-9.40 L4.61,-0.50 M7.55,-6.43 L4.61,-2.20 M5.79,-3.89 L7.85,-0.50 M9.90,-9.40 L9.90,-2.20 L10.20,-0.92 L10.79,-0.50 L11.37,-0.50 M9.02,-6.43 L11.08,-6.43 M12.84,-11.10 L13.43,-10.25 L14.02,-8.98 L14.61,-7.28 L14.90,-5.16 L14.90,-3.47 L14.61,-1.35 L14.02,0.35 L13.43,1.62 L12.84,2.47" transform="translate(58.60 266.00) rotate(-90)" stroke="#000" stroke-width="1.0"/>
<path d="M2.62,-9.70 L2.62,-0.50 M0.50,-9.70 L4.74,-9.70 M6.26,-4.44 L11.71,-4.44 M14.14,-9.70 L14.14,-0.50 M14.14,-9.70 L16.56,-0.50 M18.99,-9.70 L16.56,-0.50 M18.99,-9.70 L18.99,-0.50 M21.11,-9.70 L21.41,-9.26 L21.71,-9.70 L21.41,-10.14 L21.11,-9.70 M21.41,-6.63 L21.41,-0.50 M23.84,-6.63 L23.84,-0.50 M23.84,-4.88 L24.74,-6.20 L25.35,-6.63 L26.26,-6.63 L26.87,-6.20 L27.17,-4.88 L27.17,-0.50 M30.20,-0.94 L29.90,-0.50 L29.59,-0.94 L29.90,-1.38 L30.20,-0.94 L30.20,-0.06 L29.90,0.81 L29.59,1.25" transform="translate(27.30 366.90) rotate(-90)" stroke="#1e3cff" stroke-width="1.0"/>
<path d="M0.50,-9.70 L0.50,-0.50 M0.50,-9.70 L2.79,-0.50 M5.09,-9.70 L2.79,-0.50 M5.09,-9.70 L5.09,-0.50 M10.54,-6.63 L10.54,-0.50 M10.54,-5.32 L9.96,-6.20 L9.39,-6.63 L8.53,-6.63 L7.96,-6.20 L7.38,-5.32 L7.10,-4.00 L7.10,-3.13 L7.38,-1.81 L7.96,-0.94 L8.53,-0.50 L9.39,-0.50 L9.96,-0.94 L10.54,-1.81 M12.55,-6.63 L15.70,-0.50 M15.70,-6.63 L12.55,-0.50" transform="translate(27.30 331.00) rotate(-90)" stroke="#fa3c3c" stroke-width="1.0"/>
<path d="M2.54,-9.10 L2.54,-0.50 M0.50,-9.10 L4.59,-9.10 M9.26,-6.23 L9.26,-0.50 M9.26,-5.00 L8.68,-5.82 L8.09,-6.23 L7.22,-6.23 L6.63,-5.82 L6.05,-5.00 L5.76,-3.78 L5.76,-2.96 L6.05,-1.73 L6.63,-0.91 L7.22,-0.50 L8.09,-0.50 L8.68,-0.91 L9.26,-1.73 M11.59,-6.23 L11.59,-2.14 L11.89,-0.91 L12.47,-0.50 L13.35,-0.50 L13.93,-0.91 L14.81,-2.14 M14.81,-6.23 L14.81,-0.50 M17.14,-6.23 L17.14,2.37 M17.14,-5.00 L17.73,-5.82 L18.31,-6.23 L19.19,-6.23 L19.77,-5.82 L20.35,-5.00 L20.65,-3.78 L20.65,-2.96 L20.35,-1.73 L19.77,-0.91 L19.19,-0.50 L18.31,-0.50 L17.73,-0.91 L17.14,-1.73 M22.69,-6.23 L22.69,-2.14 L22.98,-0.91 L23.57,-0.50 L24.44,-0.50 L25.03,-0.91 L25.90,-2.14 M25.90,-6.23 L25.90,-0.50 M28.24,-6.23 L28.24,-0.50 M28.24,-4.60 L29.11,-5.82 L29.70,-6.23 L30.57,-6.23 L31.16,-5.82 L31.45,-4.60 L31.45,-0.50 M33.78,-9.10 L33.78,-0.50 M36.70,-6.23 L33.78,-2.14 M34.95,-3.78 L37.00,-0.50 M39.04,-9.10 L39.04,-2.14 L39.33,-0.91 L39.92,-0.50 L40.50,-0.50 M38.16,-6.23 L40.21,-6.23" transform="translate(41.40 356.70) rotate(-90)" stroke="#000" stroke-width="1.0"/>
<path d="M2.51,-11.10 L1.94,-10.25 L1.36,-8.98 L0.79,-7.28 L0.50,-5.16 L0.50,-3.47 L0.79,-1.35 L1.36,0.35 L1.94,1.62 L2.51,2.47 M8.56,-7.28 L8.27,-8.13 L7.70,-8.98 L7.12,-9.40 L5.97,-9.40 L5.39,-8.98 L4.82,-8.13 L4.53,-7.28 L4.24,-6.01 L4.24,-3.89 L4.53,-2.62 L4.82,-1.77 L5.39,-0.92 L5.97,-0.50 L7.12,-0.50 L7.70,-0.92 L8.27,-1.77 L8.56,-2.62 M10.29,-11.10 L10.86,-10.25 L11.44,-8.98 L12.01,-7.28 L12.30,-5.16 L12.30,-3.47 L12.01,-1.35 L11.44,0.35 L10.86,1.62 L10.29,2.47" transform="translate(58.60 337.80) rotate(-90)" stroke="#000" stroke-width="1.0"/>
<path d="M0.80,-7.51 L0.80,-7.95 L1.11,-8.82 L1.41,-9.26 L2.02,-9.70 L3.23,-9.70 L3.83,-9.26 L4.14,-8.82 L4.44,-7.95 L4.44,-7.07 L4.14,-6.20 L3.53,-4.88 L0.50,-0.50 L4.74,-0.50 M6.86,-6.63 L6.86,-0.50 M6.86,-4.88 L7.77,-6.20 L8.38,-6.63 L9.29,-6.63 L9.89,-6.20 L10.20,-4.88 L10.20,-0.50 M10.20,-4.88 L11.11,-6.20 L11.71,-6.63 L12.62,-6.63 L13.23,-6.20 L13.53,-4.88 L13.53,-0.50 M20.80,-9.70 L20.80,-0.50 M20.80,-9.70 L23.53,-9.70 L24.44,-9.26 L24.74,-8.82 L25.04,-7.95 L25.04,-7.07 L24.74,-6.20 L24.44,-5.76 L23.53,-5.32 L20.80,-5.32 M22.92,-5.32 L25.04,-0.50 M27.17,-9.70 L27.17,-0.50 M27.17,-9.70 L31.10,-9.70 M27.17,-5.32 L29.59,-5.32 M39.59,-11.45 L38.98,-10.58 L38.38,-9.26 L37.77,-7.51 L37.47,-5.32 L37.47,-3.57 L37.77,-1.38 L38.38,0.38 L38.98,1.69 L39.59,2.57 M46.86,-9.70 L41.41,-0.50 M42.92,-9.70 L43.53,-8.82 L43.53,-7.95 L43.22,-7.07 L42.62,-6.63 L42.01,-6.63 L41.41,-7.51 L41.41,-8.39 L41.71,-9.26 L42.32,-9.70 L42.92,-9.70 L43.53,-9.26 L44.44,-8.82 L45.35,-8.82 L46.25,-9.26 L46.86,-9.70 M45.65,-3.57 L45.04,-3.13 L44.74,-2.25 L44.74,-1.38 L45.35,-0.50 L45.95,-0.50 L46.56,-0.94 L46.86,-1.81 L46.86,-2.69 L46.25,-3.57 L45.65,-3.57 M48.68,-11.45 L49.28,-10.58 L49.89,-9.26 L50.50,-7.51 L50.80,-5.32 L50.80,-3.57 L50.50,-1.38 L49.89,0.38 L49.28,1.69 L48.68,2.57" transform="translate(27.30 431.00) rotate(-90)" stroke="#00c800" stroke-width="1.0"/>
<path d="M0.50,-8.90 L0.50,-0.50 M0.50,-8.90 L4.67,-0.50 M4.67,-8.90 L4.67,-0.50 M6.76,-8.90 L7.05,-8.50 L7.35,-8.90 L7.05,-9.30 L6.76,-8.90 M7.05,-6.10 L7.05,-0.50 M9.14,-3.70 L12.71,-3.70 L12.71,-4.50 L12.42,-5.30 L12.12,-5.70 L11.52,-6.10 L10.63,-6.10 L10.03,-5.70 L9.44,-4.90 L9.14,-3.70 L9.14,-2.90 L9.44,-1.70 L10.03,-0.90 L10.63,-0.50 L11.52,-0.50 L12.12,-0.90 L12.71,-1.70 M18.08,-8.90 L18.08,-0.50 M18.08,-4.90 L17.48,-5.70 L16.88,-6.10 L15.99,-6.10 L15.39,-5.70 L14.80,-4.90 L14.50,-3.70 L14.50,-2.90 L14.80,-1.70 L15.39,-0.90 L15.99,-0.50 L16.88,-0.50 L17.48,-0.90 L18.08,-1.70 M20.16,-3.70 L23.74,-3.70 L23.74,-4.50 L23.44,-5.30 L23.14,-5.70 L22.54,-6.10 L21.65,-6.10 L21.05,-5.70 L20.46,-4.90 L20.16,-3.70 L20.16,-2.90 L20.46,-1.70 L21.05,-0.90 L21.65,-0.50 L22.54,-0.50 L23.14,-0.90 L23.74,-1.70 M25.82,-6.10 L25.82,-0.50 M25.82,-3.70 L26.12,-4.90 L26.71,-5.70 L27.31,-6.10 L28.20,-6.10 M32.67,-4.90 L32.37,-5.70 L31.48,-6.10 L30.59,-6.10 L29.69,-5.70 L29.40,-4.90 L29.69,-4.10 L30.29,-3.70 L31.78,-3.30 L32.37,-2.90 L32.67,-2.10 L32.67,-1.70 L32.37,-0.90 L31.48,-0.50 L30.59,-0.50 L29.69,-0.90 L29.40,-1.70 M38.03,-4.90 L37.44,-5.70 L36.84,-6.10 L35.95,-6.10 L35.35,-5.70 L34.76,-4.90 L34.46,-3.70 L34.46,-2.90 L34.76,-1.70 L35.35,-0.90 L35.95,-0.50 L36.84,-0.50 L37.44,-0.90 L38.03,-1.70 M40.12,-8.90 L40.12,-0.50 M40.12,-4.50 L41.01,-5.70 L41.61,-6.10 L42.50,-6.10 L43.10,-5.70 L43.40,-4.50 L43.40,-0.50 M45.78,-8.90 L45.78,-0.50 M51.44,-6.10 L51.44,-0.50 M51.44,-4.90 L50.84,-5.70 L50.25,-6.10 L49.35,-6.10 L48.76,-5.70 L48.16,-4.90 L47.87,-3.70 L47.87,-2.90 L48.16,-1.70 L48.76,-0.90 L49.35,-0.50 L50.25,-0.50 L50.84,-0.90 L51.44,-1.70 M57.10,-6.10 L57.10,0.30 L56.80,1.50 L56.50,1.90 L55.91,2.30 L55.01,2.30 L54.42,1.90 M57.10,-4.90 L56.50,-5.70 L55.91,-6.10 L55.01,-6.10 L54.42,-5.70 L53.82,-4.90 L53.53,-3.70 L53.53,-2.90 L53.82,-1.70 L54.42,-0.90 L55.01,-0.50 L55.91,-0.50 L56.50,-0.90 L57.10,-1.70" transform="translate(27.10 526.40) rotate(-90)" stroke="#000" stroke-width="1.0"/>
<path d="M2.63,-10.50 L2.02,-9.70 L1.41,-8.50 L0.80,-6.90 L0.50,-4.90 L0.50,-3.30 L0.80,-1.30 L1.41,0.30 L2.02,1.50 L2.63,2.30 M4.75,-6.10 L4.75,-0.50 M4.75,-4.50 L5.66,-5.70 L6.27,-6.10 L7.18,-6.10 L7.79,-5.70 L8.09,-4.50 L8.09,-0.50 M8.09,-4.50 L9.01,-5.70 L9.61,-6.10 L10.52,-6.10 L11.13,-5.70 L11.44,-4.50 L11.44,-0.50 M13.87,-6.10 L13.87,-0.50 M13.87,-4.50 L14.78,-5.70 L15.38,-6.10 L16.30,-6.10 L16.90,-5.70 L17.21,-4.50 L17.21,-0.50 M17.21,-4.50 L18.12,-5.70 L18.73,-6.10 L19.64,-6.10 L20.24,-5.70 L20.55,-4.50 L20.55,-0.50 M22.67,-10.50 L23.28,-9.70 L23.89,-8.50 L24.50,-6.90 L24.80,-4.90 L24.80,-3.30 L24.50,-1.30 L23.89,0.30 L23.28,1.50 L22.67,2.30" transform="translate(48.60 510.00) rotate(-90)" stroke="#000" stroke-width="1.0"/>
<path d="M80.02,592.09 L79.14,591.13 L77.82,590.65 L76.06,590.65 L74.73,591.13 L73.85,592.09 L73.85,593.05 L74.29,594.02 L74.73,594.50 L75.61,594.98 L78.26,595.94 L79.14,596.42 L79.58,596.90 L80.02,597.86 L80.02,599.31 L79.14,600.27 L77.82,600.75 L76.06,600.75 L74.73,600.27 L73.85,599.31 M84.88,594.02 L83.99,594.50 L83.11,595.46 L82.67,596.90 L82.67,597.86 L83.11,599.31 L83.99,600.27 L84.88,600.75 L86.20,600.75 L87.08,600.27 L87.96,599.31 L88.40,597.86 L88.40,596.90 L87.96,595.46 L87.08,594.50 L86.20,594.02 L84.88,594.02 M91.49,594.02 L91.49,600.75 M91.49,595.94 L92.81,594.50 L93.70,594.02 L95.02,594.02 L95.90,594.50 L96.34,595.94 L96.34,600.75 M99.87,594.02 L99.87,600.75 M99.87,595.94 L101.19,594.50 L102.07,594.02 L103.40,594.02 L104.28,594.50 L104.72,595.94 L104.72,600.75 M107.81,596.90 L113.10,596.90 L113.10,595.94 L112.66,594.98 L112.22,594.50 L111.34,594.02 L110.01,594.02 L109.13,594.50 L108.25,595.46 L107.81,596.90 L107.81,597.86 L108.25,599.31 L109.13,600.27 L110.01,600.75 L111.34,600.75 L112.22,600.27 L113.10,599.31 M116.19,594.02 L116.19,600.75 M116.19,595.94 L117.51,594.50 L118.39,594.02 L119.71,594.02 L120.60,594.50 L121.04,595.94 L121.04,600.75 M129.42,594.02 L129.42,600.75 M129.42,595.46 L128.53,594.50 L127.65,594.02 L126.33,594.02 L125.45,594.50 L124.57,595.46 L124.12,596.90 L124.12,597.86 L124.57,599.31 L125.45,600.27 L126.33,600.75 L127.65,600.75 L128.53,600.27 L129.42,599.31 M132.94,594.02 L132.94,598.83 L133.39,600.27 L134.27,600.75 L135.59,600.75 L136.47,600.27 L137.80,598.83 M137.80,594.02 L137.80,600.75 M143.97,590.65 L143.09,590.65 L142.21,591.13 L141.76,592.57 L141.76,600.75 M140.44,594.02 L143.53,594.02 M151.47,594.02 L151.47,601.71 L151.03,603.15 L150.59,603.64 L149.70,604.12 L148.38,604.12 L147.50,603.64 M151.47,595.46 L150.59,594.50 L149.70,594.02 L148.38,594.02 L147.50,594.50 L146.62,595.46 L146.17,596.90 L146.17,597.86 L146.62,599.31 L147.50,600.27 L148.38,600.75 L149.70,600.75 L150.59,600.27 L151.47,599.31 M159.85,594.02 L159.85,600.75 M159.85,595.46 L158.96,594.50 L158.08,594.02 L156.76,594.02 L155.88,594.50 L155.00,595.46 L154.55,596.90 L154.55,597.86 L155.00,599.31 L155.88,600.27 L156.76,600.75 L158.08,600.75 L158.96,600.27 L159.85,599.31 M163.37,594.02 L163.37,600.75 M163.37,595.94 L164.70,594.50 L165.58,594.02 L166.90,594.02 L167.78,594.50 L168.23,595.94 L168.23,600.75 M176.60,594.02 L176.60,601.71 L176.16,603.15 L175.72,603.64 L174.84,604.12 L173.52,604.12 L172.64,603.64 M176.60,595.46 L175.72,594.50 L174.84,594.02 L173.52,594.02 L172.64,594.50 L171.75,595.46 L171.31,596.90 L171.31,597.86 L171.75,599.31 L172.64,600.27 L173.52,600.75 L174.84,600.75 L175.72,600.27 L176.60,599.31 M187.19,590.65 L187.19,600.75 M187.19,595.94 L188.51,594.50 L189.39,594.02 L190.72,594.02 L191.60,594.50 L192.04,595.94 L192.04,600.75 M195.13,596.90 L200.42,596.90 L200.42,595.94 L199.98,594.98 L199.54,594.50 L198.65,594.02 L197.33,594.02 L196.45,594.50 L195.57,595.46 L195.13,596.90 L195.13,597.86 L195.57,599.31 L196.45,600.27 L197.33,600.75 L198.65,600.75 L199.54,600.27 L200.42,599.31 M203.51,594.02 L203.51,598.83 L203.95,600.27 L204.83,600.75 L206.15,600.75 L207.03,600.27 L208.36,598.83 M208.36,594.02 L208.36,600.75 M212.33,590.65 L212.33,598.83 L212.77,600.27 L213.65,600.75 L214.53,600.75 M211.00,594.02 L214.09,594.02 M216.74,596.90 L222.03,596.90 L222.03,595.94 L221.59,594.98 L221.15,594.50 L220.26,594.02 L218.94,594.02 L218.06,594.50 L217.18,595.46 L216.74,596.90 L216.74,597.86 L217.18,599.31 L218.06,600.27 L218.94,600.75 L220.26,600.75 L221.15,600.27 L222.03,599.31 M234.38,590.65 L233.05,591.13 L232.17,592.57 L231.73,594.98 L231.73,596.42 L232.17,598.83 L233.05,600.27 L234.38,600.75 L235.26,600.75 L236.58,600.27 L237.46,598.83 L237.90,596.42 L237.90,594.98 L237.46,592.57 L236.58,591.13 L235.26,590.65 L234.38,590.65 M244.96,590.65 L240.55,597.38 L247.17,597.38 M244.96,590.65 L244.96,600.75 M250.25,594.02 L249.81,594.50 L250.25,594.98 L250.69,594.50 L250.25,594.02 M250.25,599.79 L249.81,600.27 L250.25,600.75 L250.69,600.27 L250.25,599.79 M254.22,593.05 L254.22,592.57 L254.66,591.61 L255.10,591.13 L255.99,590.65 L257.75,590.65 L258.63,591.13 L259.07,591.61 L259.51,592.57 L259.51,593.54 L259.07,594.50 L258.19,595.94 L253.78,600.75 L259.95,600.75 M263.04,593.05 L263.04,592.57 L263.48,591.61 L263.92,591.13 L264.81,590.65 L266.57,590.65 L267.45,591.13 L267.89,591.61 L268.33,592.57 L268.33,593.54 L267.89,594.50 L267.01,595.94 L262.60,600.75 L268.77,600.75 M278.92,590.65 L278.92,597.86 L279.36,599.31 L280.24,600.27 L281.56,600.75 L282.45,600.75 L283.77,600.27 L284.65,599.31 L285.09,597.86 L285.09,590.65 M290.38,590.65 L290.38,600.75 M287.30,590.65 L293.47,590.65 M301.85,593.05 L301.41,592.09 L300.53,591.13 L299.64,590.65 L297.88,590.65 L297.00,591.13 L296.12,592.09 L295.68,593.05 L295.23,594.50 L295.23,596.90 L295.68,598.35 L296.12,599.31 L297.00,600.27 L297.88,600.75 L299.64,600.75 L300.53,600.27 L301.41,599.31 L301.85,598.35" stroke="#000" stroke-width="1.1"/>
<path d="M80.04,608.89 L79.16,607.93 L77.83,607.45 L76.06,607.45 L74.73,607.93 L73.85,608.89 L73.85,609.85 L74.29,610.82 L74.73,611.30 L75.62,611.78 L78.27,612.74 L79.16,613.22 L79.60,613.70 L80.04,614.66 L80.04,616.11 L79.16,617.07 L77.83,617.55 L76.06,617.55 L74.73,617.07 L73.85,616.11 M84.91,610.82 L84.02,611.30 L83.14,612.26 L82.70,613.70 L82.70,614.66 L83.14,616.11 L84.02,617.07 L84.91,617.55 L86.24,617.55 L87.12,617.07 L88.00,616.11 L88.45,614.66 L88.45,613.70 L88.00,612.26 L87.12,611.30 L86.24,610.82 L84.91,610.82 M91.54,610.82 L91.54,617.55 M91.54,612.74 L92.87,611.30 L93.76,610.82 L95.08,610.82 L95.97,611.30 L96.41,612.74 L96.41,617.55 M99.95,610.82 L99.95,617.55 M99.95,612.74 L101.27,611.30 L102.16,610.82 L103.49,610.82 L104.37,611.30 L104.81,612.74 L104.81,617.55 M107.91,613.70 L113.22,613.70 L113.22,612.74 L112.78,611.78 L112.33,611.30 L111.45,610.82 L110.12,610.82 L109.24,611.30 L108.35,612.26 L107.91,613.70 L107.91,614.66 L108.35,616.11 L109.24,617.07 L110.12,617.55 L111.45,617.55 L112.33,617.07 L113.22,616.11 M116.31,610.82 L116.31,617.55 M116.31,612.74 L117.64,611.30 L118.53,610.82 L119.85,610.82 L120.74,611.30 L121.18,612.74 L121.18,617.55 M124.72,610.82 L124.72,615.63 L125.16,617.07 L126.05,617.55 L127.37,617.55 L128.26,617.07 L129.58,615.63 M129.58,610.82 L129.58,617.55 M133.12,610.82 L133.12,617.55 M133.12,612.74 L134.45,611.30 L135.33,610.82 L136.66,610.82 L137.55,611.30 L137.99,612.74 L137.99,617.55 M141.97,607.45 L141.97,615.63 L142.41,617.07 L143.30,617.55 L144.18,617.55 M140.64,610.82 L143.74,610.82 M146.39,613.70 L151.70,613.70 L151.70,612.74 L151.26,611.78 L150.82,611.30 L149.93,610.82 L148.60,610.82 L147.72,611.30 L146.84,612.26 L146.39,613.70 L146.39,614.66 L146.84,616.11 L147.72,617.07 L148.60,617.55 L149.93,617.55 L150.82,617.07 L151.70,616.11 M154.80,610.82 L154.80,617.55 M154.80,613.70 L155.24,612.26 L156.12,611.30 L157.01,610.82 L158.34,610.82 M165.41,610.82 L165.41,618.51 L164.97,619.95 L164.53,620.44 L163.64,620.92 L162.32,620.92 L161.43,620.44 M165.41,612.26 L164.53,611.30 L163.64,610.82 L162.32,610.82 L161.43,611.30 L160.55,612.26 L160.11,613.70 L160.11,614.66 L160.55,616.11 L161.43,617.07 L162.32,617.55 L163.64,617.55 L164.53,617.07 L165.41,616.11 M173.82,610.82 L173.82,617.55 M173.82,612.26 L172.93,611.30 L172.05,610.82 L170.72,610.82 L169.84,611.30 L168.95,612.26 L168.51,613.70 L168.51,614.66 L168.95,616.11 L169.84,617.07 L170.72,617.55 L172.05,617.55 L172.93,617.07 L173.82,616.11 M177.36,610.82 L177.36,617.55 M177.36,612.74 L178.68,611.30 L179.57,610.82 L180.90,610.82 L181.78,611.30 L182.22,612.74 L182.22,617.55 M190.63,610.82 L190.63,618.51 L190.18,619.95 L189.74,620.44 L188.86,620.92 L187.53,620.92 L186.65,620.44 M190.63,612.26 L189.74,611.30 L188.86,610.82 L187.53,610.82 L186.65,611.30 L185.76,612.26 L185.32,613.70 L185.32,614.66 L185.76,616.11 L186.65,617.07 L187.53,617.55 L188.86,617.55 L189.74,617.07 L190.63,616.11 M201.24,607.45 L201.24,617.55 M201.24,612.74 L202.57,611.30 L203.45,610.82 L204.78,610.82 L205.67,611.30 L206.11,612.74 L206.11,617.55 M209.20,613.70 L214.51,613.70 L214.51,612.74 L214.07,611.78 L213.63,611.30 L212.74,610.82 L211.42,610.82 L210.53,611.30 L209.65,612.26 L209.20,613.70 L209.20,614.66 L209.65,616.11 L210.53,617.07 L211.42,617.55 L212.74,617.55 L213.63,617.07 L214.51,616.11 M217.61,610.82 L217.61,615.63 L218.05,617.07 L218.94,617.55 L220.26,617.55 L221.15,617.07 L222.47,615.63 M222.47,610.82 L222.47,617.55 M226.46,607.45 L226.46,615.63 L226.90,617.07 L227.78,617.55 L228.67,617.55 M225.13,610.82 L228.23,610.82 M230.88,613.70 L236.19,613.70 L236.19,612.74 L235.74,611.78 L235.30,611.30 L234.42,610.82 L233.09,610.82 L232.21,611.30 L231.32,612.26 L230.88,613.70 L230.88,614.66 L231.32,616.11 L232.21,617.07 L233.09,617.55 L234.42,617.55 L235.30,617.07 L236.19,616.11 M247.25,609.37 L248.13,608.89 L249.46,607.45 L249.46,617.55 M256.98,607.45 L255.65,607.93 L255.21,608.89 L255.21,609.85 L255.65,610.82 L256.53,611.30 L258.30,611.78 L259.63,612.26 L260.52,613.22 L260.96,614.18 L260.96,615.63 L260.52,616.59 L260.07,617.07 L258.75,617.55 L256.98,617.55 L255.65,617.07 L255.21,616.59 L254.77,615.63 L254.77,614.18 L255.21,613.22 L256.09,612.26 L257.42,611.78 L259.19,611.30 L260.07,610.82 L260.52,609.85 L260.52,608.89 L260.07,607.93 L258.75,607.45 L256.98,607.45 M264.50,610.82 L264.05,611.30 L264.50,611.78 L264.94,611.30 L264.50,610.82 M264.50,616.59 L264.05,617.07 L264.50,617.55 L264.94,617.07 L264.50,616.59 M270.69,607.45 L269.36,607.93 L268.48,609.37 L268.04,611.78 L268.04,613.22 L268.48,615.63 L269.36,617.07 L270.69,617.55 L271.57,617.55 L272.90,617.07 L273.79,615.63 L274.23,613.22 L274.23,611.78 L273.79,609.37 L272.90,607.93 L271.57,607.45 L270.69,607.45 M283.07,607.45 L278.65,617.55 M276.88,607.45 L283.07,607.45 M293.25,607.45 L293.25,614.66 L293.69,616.11 L294.58,617.07 L295.90,617.55 L296.79,617.55 L298.11,617.07 L299.00,616.11 L299.44,614.66 L299.44,607.45 M304.75,607.45 L304.75,617.55 M301.65,607.45 L307.85,607.45 M316.25,609.85 L315.81,608.89 L314.92,607.93 L314.04,607.45 L312.27,607.45 L311.38,607.93 L310.50,608.89 L310.06,609.85 L309.61,611.30 L309.61,613.70 L310.06,615.15 L310.50,616.11 L311.38,617.07 L312.27,617.55 L314.04,617.55 L314.92,617.07 L315.81,616.11 L316.25,615.15" stroke="#000" stroke-width="1.1"/>
<path d="M583.00,615.90 L584.75,622.30 M586.50,615.90 L584.75,622.30 M586.50,615.90 L588.25,622.30 M590.00,615.90 L588.25,622.30 M592.62,615.90 L594.37,622.30 M596.12,615.90 L594.37,622.30 M596.12,615.90 L597.86,622.30 M599.61,615.90 L597.86,622.30 M602.24,615.90 L603.99,622.30 M605.73,615.90 L603.99,622.30 M605.73,615.90 L607.48,622.30 M609.23,615.90 L607.48,622.30 M612.73,621.39 L612.29,621.84 L612.73,622.30 L613.17,621.84 L612.73,621.39 M616.23,615.90 L617.98,622.30 M619.73,615.90 L617.98,622.30 M619.73,615.90 L621.47,622.30 M623.22,615.90 L621.47,622.30 M625.85,618.64 L631.09,618.64 L631.09,617.73 L630.66,616.81 L630.22,616.36 L629.34,615.90 L628.03,615.90 L627.16,616.36 L626.28,617.27 L625.85,618.64 L625.85,619.56 L626.28,620.93 L627.16,621.84 L628.03,622.30 L629.34,622.30 L630.22,621.84 L631.09,620.93 M634.59,612.70 L634.59,620.47 L635.03,621.84 L635.90,622.30 L636.78,622.30 M633.28,615.90 L636.34,615.90 M639.84,612.70 L639.84,620.47 L640.27,621.84 L641.15,622.30 L642.02,622.30 M638.52,615.90 L641.59,615.90 M644.21,618.64 L649.45,618.64 L649.45,617.73 L649.02,616.81 L648.58,616.36 L647.71,615.90 L646.39,615.90 L645.52,616.36 L644.65,617.27 L644.21,618.64 L644.21,619.56 L644.65,620.93 L645.52,621.84 L646.39,622.30 L647.71,622.30 L648.58,621.84 L649.45,620.93 M652.52,615.90 L652.52,622.30 M652.52,618.64 L652.95,617.27 L653.83,616.36 L654.70,615.90 L656.01,615.90 M662.57,615.90 L657.76,622.30 M657.76,615.90 L662.57,615.90 M657.76,622.30 L662.57,622.30 M665.19,618.64 L670.44,618.64 L670.44,617.73 L670.00,616.81 L669.57,616.36 L668.69,615.90 L667.38,615.90 L666.51,616.36 L665.63,617.27 L665.19,618.64 L665.19,619.56 L665.63,620.93 L666.51,621.84 L667.38,622.30 L668.69,622.30 L669.57,621.84 L670.44,620.93 M673.50,615.90 L673.50,622.30 M673.50,617.73 L674.81,616.36 L675.69,615.90 L677.00,615.90 L677.87,616.36 L678.31,617.73 L678.31,622.30 M682.24,612.70 L682.24,620.47 L682.68,621.84 L683.56,622.30 L684.43,622.30 M680.93,615.90 L683.99,615.90 M687.05,615.90 L687.05,622.30 M687.05,618.64 L687.49,617.27 L688.37,616.36 L689.24,615.90 L690.55,615.90 M697.55,615.90 L697.55,622.30 M697.55,617.27 L696.67,616.36 L695.80,615.90 L694.49,615.90 L693.61,616.36 L692.74,617.27 L692.30,618.64 L692.30,619.56 L692.74,620.93 L693.61,621.84 L694.49,622.30 L695.80,622.30 L696.67,621.84 L697.55,620.93 M701.04,612.70 L701.04,622.30 M704.11,618.64 L709.35,618.64 L709.35,617.73 L708.91,616.81 L708.48,616.36 L707.60,615.90 L706.29,615.90 L705.42,616.36 L704.54,617.27 L704.11,618.64 L704.11,619.56 L704.54,620.93 L705.42,621.84 L706.29,622.30 L707.60,622.30 L708.48,621.84 L709.35,620.93 M712.85,621.39 L712.41,621.84 L712.85,622.30 L713.29,621.84 L712.85,621.39 M721.59,612.70 L721.59,622.30 M721.59,617.27 L720.72,616.36 L719.84,615.90 L718.53,615.90 L717.66,616.36 L716.78,617.27 L716.35,618.64 L716.35,619.56 L716.78,620.93 L717.66,621.84 L718.53,622.30 L719.84,622.30 L720.72,621.84 L721.59,620.93 M724.65,618.64 L729.90,618.64 L729.90,617.73 L729.46,616.81 L729.03,616.36 L728.15,615.90 L726.84,615.90 L725.97,616.36 L725.09,617.27 L724.65,618.64 L724.65,619.56 L725.09,620.93 L725.97,621.84 L726.84,622.30 L728.15,622.30 L729.03,621.84 L729.90,620.93" stroke="#000" stroke-width="1.0"/>
</g>
</svg>
</body></html>
